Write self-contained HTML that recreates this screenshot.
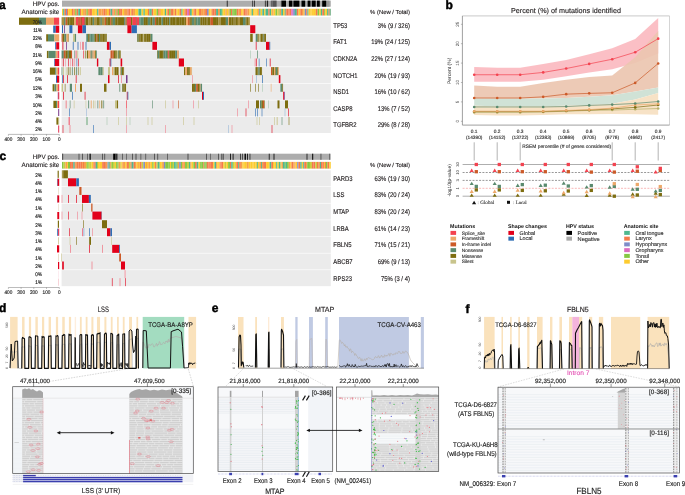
<!DOCTYPE html>
<html><head><meta charset="utf-8"><style>
html,body{margin:0;padding:0;background:#fff;overflow:hidden;}
svg{display:block;font-family:"Liberation Sans",sans-serif;text-rendering:geometricPrecision;will-change:transform;}
</style></head><body>
<svg width="685" height="495" viewBox="0 0 685 495">
<rect width="685" height="495" fill="#fff"/>
<text x="-0.90" y="8.90" font-size="12.00" text-anchor="start" fill="#000" font-weight="bold" stroke="#000" stroke-width="0.45">a</text>
<text x="59.30" y="5.90" font-size="6.30" text-anchor="end" fill="#231f20" font-weight="normal" stroke="#231f20" stroke-width="0.14">HPV pos.</text>
<text x="59.30" y="14.30" font-size="6.30" text-anchor="end" fill="#231f20" font-weight="normal" stroke="#231f20" stroke-width="0.14">Anatomic site</text>
<rect x="62.00" y="0.60" width="268.80" height="6.10" fill="#adadad"/>
<rect x="226.80" y="0.60" width="0.80" height="6.10" fill="#111"/>
<rect x="252.40" y="0.60" width="0.70" height="6.10" fill="#111"/>
<rect x="254.20" y="0.60" width="0.70" height="6.10" fill="#111"/>
<rect x="264.90" y="0.60" width="0.90" height="6.10" fill="#333"/>
<rect x="266.80" y="0.60" width="1.30" height="6.10" fill="#222"/>
<rect x="270.80" y="0.60" width="1.70" height="6.10" fill="#666"/>
<rect x="272.50" y="0.60" width="4.10" height="6.10" fill="#555"/>
<rect x="280.90" y="0.60" width="1.10" height="6.10" fill="#444"/>
<rect x="282.00" y="0.60" width="4.00" height="6.10" fill="#000"/>
<rect x="288.90" y="0.60" width="3.50" height="6.10" fill="#000"/>
<rect x="293.40" y="0.60" width="6.00" height="6.10" fill="#000"/>
<rect x="301.50" y="0.60" width="3.70" height="6.10" fill="#000"/>
<rect x="307.60" y="0.60" width="2.90" height="6.10" fill="#000"/>
<rect x="311.70" y="0.60" width="4.00" height="6.10" fill="#000"/>
<rect x="316.90" y="0.60" width="2.90" height="6.10" fill="#000"/>
<rect x="322.20" y="0.60" width="4.10" height="6.10" fill="#000"/>
<rect x="326.80" y="0.60" width="2.70" height="6.10" fill="#999"/>
<rect x="62.00" y="8.80" width="1.21" height="6.70" fill="#fdcb2f"/>
<rect x="63.16" y="8.80" width="1.36" height="6.70" fill="#4fb88f"/>
<rect x="64.47" y="8.80" width="1.64" height="6.70" fill="#f47a4a"/>
<rect x="66.06" y="8.80" width="0.96" height="6.70" fill="#7f8cc8"/>
<rect x="66.97" y="8.80" width="1.24" height="6.70" fill="#f47a4a"/>
<rect x="68.16" y="8.80" width="2.05" height="6.70" fill="#fdcb2f"/>
<rect x="70.15" y="8.80" width="1.87" height="6.70" fill="#fdcb2f"/>
<rect x="71.97" y="8.80" width="1.65" height="6.70" fill="#f47a4a"/>
<rect x="73.58" y="8.80" width="1.65" height="6.70" fill="#f6a04a"/>
<rect x="75.17" y="8.80" width="1.53" height="6.70" fill="#86c742"/>
<rect x="76.65" y="8.80" width="1.69" height="6.70" fill="#f47a4a"/>
<rect x="78.29" y="8.80" width="1.78" height="6.70" fill="#4fb88f"/>
<rect x="80.02" y="8.80" width="1.28" height="6.70" fill="#f47a4a"/>
<rect x="81.25" y="8.80" width="1.90" height="6.70" fill="#fdcb2f"/>
<rect x="83.10" y="8.80" width="1.74" height="6.70" fill="#f6a04a"/>
<rect x="84.80" y="8.80" width="1.74" height="6.70" fill="#f6a04a"/>
<rect x="86.48" y="8.80" width="1.38" height="6.70" fill="#86c742"/>
<rect x="87.82" y="8.80" width="1.44" height="6.70" fill="#f6a04a"/>
<rect x="89.20" y="8.80" width="1.92" height="6.70" fill="#f47a4a"/>
<rect x="91.07" y="8.80" width="1.10" height="6.70" fill="#f47a4a"/>
<rect x="92.12" y="8.80" width="2.01" height="6.70" fill="#fdcb2f"/>
<rect x="94.08" y="8.80" width="1.64" height="6.70" fill="#fdcb2f"/>
<rect x="95.67" y="8.80" width="1.51" height="6.70" fill="#fdcb2f"/>
<rect x="97.13" y="8.80" width="1.34" height="6.70" fill="#4fb88f"/>
<rect x="98.42" y="8.80" width="1.59" height="6.70" fill="#f6a04a"/>
<rect x="99.96" y="8.80" width="1.70" height="6.70" fill="#f6a04a"/>
<rect x="101.61" y="8.80" width="1.89" height="6.70" fill="#f6a04a"/>
<rect x="103.45" y="8.80" width="1.69" height="6.70" fill="#f47a4a"/>
<rect x="105.09" y="8.80" width="1.90" height="6.70" fill="#f6a04a"/>
<rect x="106.94" y="8.80" width="1.95" height="6.70" fill="#fdcb2f"/>
<rect x="108.83" y="8.80" width="1.74" height="6.70" fill="#f47a4a"/>
<rect x="110.52" y="8.80" width="1.86" height="6.70" fill="#4fb88f"/>
<rect x="112.33" y="8.80" width="1.26" height="6.70" fill="#f47a4a"/>
<rect x="113.55" y="8.80" width="1.89" height="6.70" fill="#f6a04a"/>
<rect x="115.38" y="8.80" width="1.05" height="6.70" fill="#86c742"/>
<rect x="116.38" y="8.80" width="1.40" height="6.70" fill="#f47a4a"/>
<rect x="117.73" y="8.80" width="1.27" height="6.70" fill="#86c742"/>
<rect x="118.96" y="8.80" width="1.91" height="6.70" fill="#f47a4a"/>
<rect x="120.82" y="8.80" width="1.63" height="6.70" fill="#f47a4a"/>
<rect x="122.39" y="8.80" width="1.74" height="6.70" fill="#fdcb2f"/>
<rect x="124.08" y="8.80" width="1.92" height="6.70" fill="#f6a04a"/>
<rect x="125.95" y="8.80" width="1.51" height="6.70" fill="#f6a04a"/>
<rect x="127.41" y="8.80" width="1.29" height="6.70" fill="#f47a4a"/>
<rect x="128.65" y="8.80" width="1.61" height="6.70" fill="#f47a4a"/>
<rect x="130.21" y="8.80" width="1.17" height="6.70" fill="#fdcb2f"/>
<rect x="131.33" y="8.80" width="1.62" height="6.70" fill="#f47a4a"/>
<rect x="132.90" y="8.80" width="1.00" height="6.70" fill="#f6a04a"/>
<rect x="133.84" y="8.80" width="1.30" height="6.70" fill="#f6a04a"/>
<rect x="135.09" y="8.80" width="1.94" height="6.70" fill="#fdcb2f"/>
<rect x="136.98" y="8.80" width="1.46" height="6.70" fill="#fdcb2f"/>
<rect x="138.38" y="8.80" width="1.66" height="6.70" fill="#4fb88f"/>
<rect x="139.99" y="8.80" width="1.57" height="6.70" fill="#4fb88f"/>
<rect x="141.50" y="8.80" width="1.98" height="6.70" fill="#fdcb2f"/>
<rect x="143.44" y="8.80" width="1.42" height="6.70" fill="#4fb88f"/>
<rect x="144.81" y="8.80" width="1.21" height="6.70" fill="#fdcb2f"/>
<rect x="145.98" y="8.80" width="2.03" height="6.70" fill="#fdcb2f"/>
<rect x="147.95" y="8.80" width="1.55" height="6.70" fill="#f47a4a"/>
<rect x="149.45" y="8.80" width="1.41" height="6.70" fill="#4fb88f"/>
<rect x="150.81" y="8.80" width="0.97" height="6.70" fill="#4fb88f"/>
<rect x="151.73" y="8.80" width="1.65" height="6.70" fill="#f47a4a"/>
<rect x="153.33" y="8.80" width="1.64" height="6.70" fill="#fdcb2f"/>
<rect x="154.92" y="8.80" width="1.70" height="6.70" fill="#fdcb2f"/>
<rect x="156.57" y="8.80" width="1.73" height="6.70" fill="#86c742"/>
<rect x="158.24" y="8.80" width="0.97" height="6.70" fill="#f47a4a"/>
<rect x="159.17" y="8.80" width="1.69" height="6.70" fill="#f6a04a"/>
<rect x="160.81" y="8.80" width="1.23" height="6.70" fill="#fdcb2f"/>
<rect x="161.99" y="8.80" width="1.60" height="6.70" fill="#fdcb2f"/>
<rect x="163.54" y="8.80" width="1.35" height="6.70" fill="#fdcb2f"/>
<rect x="164.84" y="8.80" width="1.36" height="6.70" fill="#4fb88f"/>
<rect x="166.15" y="8.80" width="1.28" height="6.70" fill="#fdcb2f"/>
<rect x="167.38" y="8.80" width="1.80" height="6.70" fill="#f47a4a"/>
<rect x="169.13" y="8.80" width="1.58" height="6.70" fill="#86c742"/>
<rect x="170.65" y="8.80" width="1.29" height="6.70" fill="#f47a4a"/>
<rect x="171.89" y="8.80" width="1.83" height="6.70" fill="#f47a4a"/>
<rect x="173.68" y="8.80" width="1.16" height="6.70" fill="#fdcb2f"/>
<rect x="174.78" y="8.80" width="1.72" height="6.70" fill="#f47a4a"/>
<rect x="176.45" y="8.80" width="1.30" height="6.70" fill="#fdcb2f"/>
<rect x="177.71" y="8.80" width="1.87" height="6.70" fill="#fdcb2f"/>
<rect x="179.52" y="8.80" width="1.89" height="6.70" fill="#f47a4a"/>
<rect x="181.36" y="8.80" width="1.32" height="6.70" fill="#4fb88f"/>
<rect x="182.63" y="8.80" width="1.92" height="6.70" fill="#fdcb2f"/>
<rect x="184.51" y="8.80" width="1.20" height="6.70" fill="#f47a4a"/>
<rect x="185.65" y="8.80" width="1.53" height="6.70" fill="#f47a4a"/>
<rect x="187.14" y="8.80" width="1.84" height="6.70" fill="#dc6cc0"/>
<rect x="188.92" y="8.80" width="1.15" height="6.70" fill="#f47a4a"/>
<rect x="190.03" y="8.80" width="1.84" height="6.70" fill="#4fb88f"/>
<rect x="191.81" y="8.80" width="1.84" height="6.70" fill="#fdcb2f"/>
<rect x="193.60" y="8.80" width="1.09" height="6.70" fill="#f47a4a"/>
<rect x="194.64" y="8.80" width="1.82" height="6.70" fill="#f47a4a"/>
<rect x="196.42" y="8.80" width="1.33" height="6.70" fill="#fdcb2f"/>
<rect x="197.70" y="8.80" width="1.41" height="6.70" fill="#fdcb2f"/>
<rect x="199.06" y="8.80" width="1.96" height="6.70" fill="#f47a4a"/>
<rect x="200.97" y="8.80" width="0.96" height="6.70" fill="#f6a04a"/>
<rect x="201.88" y="8.80" width="1.92" height="6.70" fill="#f6a04a"/>
<rect x="203.75" y="8.80" width="1.43" height="6.70" fill="#f6a04a"/>
<rect x="205.12" y="8.80" width="1.97" height="6.70" fill="#f47a4a"/>
<rect x="207.04" y="8.80" width="1.77" height="6.70" fill="#7f8cc8"/>
<rect x="208.76" y="8.80" width="1.68" height="6.70" fill="#fdcb2f"/>
<rect x="210.39" y="8.80" width="1.27" height="6.70" fill="#fdcb2f"/>
<rect x="211.61" y="8.80" width="1.20" height="6.70" fill="#f47a4a"/>
<rect x="212.76" y="8.80" width="1.60" height="6.70" fill="#f47a4a"/>
<rect x="214.31" y="8.80" width="1.84" height="6.70" fill="#f47a4a"/>
<rect x="216.10" y="8.80" width="1.94" height="6.70" fill="#4fb88f"/>
<rect x="217.99" y="8.80" width="1.97" height="6.70" fill="#f6a04a"/>
<rect x="219.91" y="8.80" width="1.94" height="6.70" fill="#4fb88f"/>
<rect x="221.80" y="8.80" width="0.96" height="6.70" fill="#86c742"/>
<rect x="222.71" y="8.80" width="1.14" height="6.70" fill="#fdcb2f"/>
<rect x="223.80" y="8.80" width="1.68" height="6.70" fill="#fdcb2f"/>
<rect x="225.43" y="8.80" width="1.41" height="6.70" fill="#f6a04a"/>
<rect x="226.79" y="8.80" width="1.62" height="6.70" fill="#fdcb2f"/>
<rect x="228.36" y="8.80" width="1.23" height="6.70" fill="#f6a04a"/>
<rect x="229.54" y="8.80" width="1.47" height="6.70" fill="#86c742"/>
<rect x="230.96" y="8.80" width="1.34" height="6.70" fill="#f47a4a"/>
<rect x="232.25" y="8.80" width="1.54" height="6.70" fill="#86c742"/>
<rect x="233.74" y="8.80" width="1.14" height="6.70" fill="#86c742"/>
<rect x="234.83" y="8.80" width="1.96" height="6.70" fill="#86c742"/>
<rect x="236.74" y="8.80" width="1.86" height="6.70" fill="#f47a4a"/>
<rect x="238.55" y="8.80" width="1.64" height="6.70" fill="#f6a04a"/>
<rect x="240.14" y="8.80" width="1.00" height="6.70" fill="#f47a4a"/>
<rect x="241.09" y="8.80" width="1.25" height="6.70" fill="#fdcb2f"/>
<rect x="242.29" y="8.80" width="1.42" height="6.70" fill="#fdcb2f"/>
<rect x="243.65" y="8.80" width="1.80" height="6.70" fill="#f47a4a"/>
<rect x="245.41" y="8.80" width="1.01" height="6.70" fill="#f47a4a"/>
<rect x="246.37" y="8.80" width="1.09" height="6.70" fill="#f47a4a"/>
<rect x="247.41" y="8.80" width="2.02" height="6.70" fill="#f6a04a"/>
<rect x="249.38" y="8.80" width="1.04" height="6.70" fill="#fdcb2f"/>
<rect x="250.37" y="8.80" width="1.30" height="6.70" fill="#fdcb2f"/>
<rect x="251.62" y="8.80" width="1.34" height="6.70" fill="#4fb88f"/>
<rect x="252.91" y="8.80" width="1.60" height="6.70" fill="#fdcb2f"/>
<rect x="254.45" y="8.80" width="1.16" height="6.70" fill="#fdcb2f"/>
<rect x="255.56" y="8.80" width="1.09" height="6.70" fill="#fdcb2f"/>
<rect x="256.60" y="8.80" width="1.74" height="6.70" fill="#fdcb2f"/>
<rect x="258.29" y="8.80" width="1.04" height="6.70" fill="#f47a4a"/>
<rect x="259.27" y="8.80" width="1.36" height="6.70" fill="#4fb88f"/>
<rect x="260.58" y="8.80" width="1.81" height="6.70" fill="#fdcb2f"/>
<rect x="262.35" y="8.80" width="1.83" height="6.70" fill="#4fb88f"/>
<rect x="264.13" y="8.80" width="1.42" height="6.70" fill="#fdcb2f"/>
<rect x="265.50" y="8.80" width="1.50" height="6.70" fill="#4fb88f"/>
<rect x="266.95" y="8.80" width="1.41" height="6.70" fill="#4fb88f"/>
<rect x="268.31" y="8.80" width="1.46" height="6.70" fill="#f47a4a"/>
<rect x="269.72" y="8.80" width="1.54" height="6.70" fill="#4fb88f"/>
<rect x="271.21" y="8.80" width="1.03" height="6.70" fill="#fdcb2f"/>
<rect x="272.18" y="8.80" width="1.42" height="6.70" fill="#f6a04a"/>
<rect x="273.55" y="8.80" width="1.98" height="6.70" fill="#fdcb2f"/>
<rect x="275.48" y="8.80" width="1.94" height="6.70" fill="#86c742"/>
<rect x="277.37" y="8.80" width="1.24" height="6.70" fill="#fdcb2f"/>
<rect x="278.56" y="8.80" width="1.09" height="6.70" fill="#86c742"/>
<rect x="279.59" y="8.80" width="1.68" height="6.70" fill="#f6a04a"/>
<rect x="281.22" y="8.80" width="1.82" height="6.70" fill="#4fb88f"/>
<rect x="282.99" y="8.80" width="1.76" height="6.70" fill="#fdcb2f"/>
<rect x="284.70" y="8.80" width="1.06" height="6.70" fill="#4fb88f"/>
<rect x="285.72" y="8.80" width="0.96" height="6.70" fill="#f47a4a"/>
<rect x="286.62" y="8.80" width="1.80" height="6.70" fill="#f47a4a"/>
<rect x="288.37" y="8.80" width="1.05" height="6.70" fill="#f47a4a"/>
<rect x="289.37" y="8.80" width="1.92" height="6.70" fill="#f47a4a"/>
<rect x="291.24" y="8.80" width="0.98" height="6.70" fill="#dc6cc0"/>
<rect x="292.17" y="8.80" width="1.08" height="6.70" fill="#dc6cc0"/>
<rect x="293.20" y="8.80" width="1.69" height="6.70" fill="#7f8cc8"/>
<rect x="294.84" y="8.80" width="2.00" height="6.70" fill="#4fb88f"/>
<rect x="296.79" y="8.80" width="1.83" height="6.70" fill="#f47a4a"/>
<rect x="298.57" y="8.80" width="1.79" height="6.70" fill="#fdcb2f"/>
<rect x="300.31" y="8.80" width="1.74" height="6.70" fill="#f47a4a"/>
<rect x="302.00" y="8.80" width="1.77" height="6.70" fill="#f6a04a"/>
<rect x="303.72" y="8.80" width="1.02" height="6.70" fill="#fdcb2f"/>
<rect x="304.69" y="8.80" width="1.57" height="6.70" fill="#7f8cc8"/>
<rect x="306.21" y="8.80" width="1.22" height="6.70" fill="#f47a4a"/>
<rect x="307.38" y="8.80" width="1.22" height="6.70" fill="#4fb88f"/>
<rect x="308.55" y="8.80" width="1.78" height="6.70" fill="#fdcb2f"/>
<rect x="310.28" y="8.80" width="1.35" height="6.70" fill="#fdcb2f"/>
<rect x="311.59" y="8.80" width="1.34" height="6.70" fill="#fdcb2f"/>
<rect x="312.87" y="8.80" width="1.04" height="6.70" fill="#fdcb2f"/>
<rect x="313.86" y="8.80" width="2.02" height="6.70" fill="#fdcb2f"/>
<rect x="315.83" y="8.80" width="1.77" height="6.70" fill="#f47a4a"/>
<rect x="317.55" y="8.80" width="1.71" height="6.70" fill="#86c742"/>
<rect x="319.21" y="8.80" width="1.69" height="6.70" fill="#fdcb2f"/>
<rect x="320.86" y="8.80" width="1.48" height="6.70" fill="#4fb88f"/>
<rect x="322.29" y="8.80" width="1.94" height="6.70" fill="#f47a4a"/>
<rect x="324.18" y="8.80" width="1.06" height="6.70" fill="#86c742"/>
<rect x="325.18" y="8.80" width="1.96" height="6.70" fill="#fdcb2f"/>
<rect x="327.09" y="8.80" width="1.44" height="6.70" fill="#4fb88f"/>
<rect x="328.48" y="8.80" width="1.15" height="6.70" fill="#f47a4a"/>
<rect x="329.58" y="8.80" width="1.17" height="6.70" fill="#4fb88f"/>
<rect x="330.70" y="8.80" width="0.15" height="6.70" fill="#f47a4a"/>
<rect x="61.60" y="17.20" width="269.20" height="16.00" fill="#ebebeb"/>
<rect x="61.60" y="33.84" width="269.20" height="16.00" fill="#ebebeb"/>
<rect x="61.60" y="50.48" width="269.20" height="16.00" fill="#ebebeb"/>
<rect x="61.60" y="67.12" width="269.20" height="16.00" fill="#ebebeb"/>
<rect x="61.60" y="83.76" width="269.20" height="16.00" fill="#ebebeb"/>
<rect x="61.60" y="100.40" width="269.20" height="16.00" fill="#ebebeb"/>
<rect x="61.60" y="117.04" width="269.20" height="16.00" fill="#ebebeb"/>
<rect x="61.60" y="17.20" width="2.51" height="8.00" fill="#a89040"/>
<rect x="64.06" y="17.20" width="1.56" height="8.00" fill="#5a8a6e"/>
<rect x="65.57" y="17.20" width="1.84" height="8.00" fill="#cc5a28"/>
<rect x="67.36" y="17.20" width="2.25" height="8.00" fill="#7d6d10"/>
<rect x="69.56" y="17.20" width="1.37" height="8.00" fill="#7d6d10"/>
<rect x="70.89" y="17.20" width="2.00" height="8.00" fill="#7d6d10"/>
<rect x="72.84" y="17.20" width="1.26" height="8.00" fill="#7d6d10"/>
<rect x="74.05" y="17.20" width="1.62" height="8.00" fill="#eda86a"/>
<rect x="75.62" y="17.20" width="1.19" height="8.00" fill="#a89040"/>
<rect x="76.77" y="17.20" width="2.00" height="8.00" fill="#7d6d10"/>
<rect x="78.72" y="17.20" width="1.97" height="8.00" fill="#cc5a28"/>
<rect x="80.64" y="17.20" width="2.82" height="8.00" fill="#7d6d10"/>
<rect x="83.41" y="17.20" width="2.01" height="8.00" fill="#5a8a6e"/>
<rect x="85.37" y="17.20" width="2.91" height="8.00" fill="#7d6d10"/>
<rect x="88.22" y="17.20" width="2.61" height="8.00" fill="#a89040"/>
<rect x="90.79" y="17.20" width="1.97" height="8.00" fill="#7d6d10"/>
<rect x="92.71" y="17.20" width="1.41" height="8.00" fill="#5a8a6e"/>
<rect x="94.07" y="17.20" width="2.47" height="8.00" fill="#a89040"/>
<rect x="96.49" y="17.20" width="2.90" height="8.00" fill="#7d6d10"/>
<rect x="99.34" y="17.20" width="1.31" height="8.00" fill="#7d6d10"/>
<rect x="100.60" y="17.20" width="1.30" height="8.00" fill="#5a8a6e"/>
<rect x="101.85" y="17.20" width="2.91" height="8.00" fill="#a89040"/>
<rect x="104.71" y="17.20" width="1.46" height="8.00" fill="#cc5a28"/>
<rect x="106.12" y="17.20" width="1.60" height="8.00" fill="#7d6d10"/>
<rect x="107.67" y="17.20" width="2.60" height="8.00" fill="#7d6d10"/>
<rect x="110.22" y="17.20" width="1.07" height="8.00" fill="#cc5a28"/>
<rect x="111.24" y="17.20" width="1.55" height="8.00" fill="#7d6d10"/>
<rect x="112.74" y="17.20" width="2.24" height="8.00" fill="#5a8a6e"/>
<rect x="114.93" y="17.20" width="0.87" height="8.00" fill="#7d6d10"/>
<rect x="115.75" y="17.20" width="1.90" height="8.00" fill="#7d6d10"/>
<rect x="117.60" y="17.20" width="1.35" height="8.00" fill="#7d6d10"/>
<rect x="118.90" y="17.20" width="3.14" height="8.00" fill="#7d6d10"/>
<rect x="122.00" y="17.20" width="2.16" height="8.00" fill="#7d6d10"/>
<rect x="124.10" y="17.20" width="1.51" height="8.00" fill="#5a8a6e"/>
<rect x="125.56" y="17.20" width="1.12" height="8.00" fill="#cc5a28"/>
<rect x="126.63" y="17.20" width="3.03" height="8.00" fill="#7d6d10"/>
<rect x="129.61" y="17.20" width="3.11" height="8.00" fill="#7d6d10"/>
<rect x="132.67" y="17.20" width="2.70" height="8.00" fill="#eda86a"/>
<rect x="135.33" y="17.20" width="1.56" height="8.00" fill="#5a8a6e"/>
<rect x="136.83" y="17.20" width="2.42" height="8.00" fill="#f3424f"/>
<rect x="139.20" y="17.20" width="1.49" height="8.00" fill="#5a8a6e"/>
<rect x="140.64" y="17.20" width="3.16" height="8.00" fill="#5a8a6e"/>
<rect x="143.75" y="17.20" width="2.14" height="8.00" fill="#7d6d10"/>
<rect x="145.84" y="17.20" width="2.04" height="8.00" fill="#7d6d10"/>
<rect x="147.82" y="17.20" width="2.57" height="8.00" fill="#5a8a6e"/>
<rect x="150.34" y="17.20" width="2.21" height="8.00" fill="#7d6d10"/>
<rect x="152.50" y="17.20" width="2.40" height="8.00" fill="#5a8a6e"/>
<rect x="154.85" y="17.20" width="1.28" height="8.00" fill="#cc5a28"/>
<rect x="156.08" y="17.20" width="2.42" height="8.00" fill="#7d6d10"/>
<rect x="158.46" y="17.20" width="3.09" height="8.00" fill="#7d6d10"/>
<rect x="161.49" y="17.20" width="1.65" height="8.00" fill="#5a8a6e"/>
<rect x="163.09" y="17.20" width="2.28" height="8.00" fill="#7d6d10"/>
<rect x="165.32" y="17.20" width="2.40" height="8.00" fill="#7d6d10"/>
<rect x="167.68" y="17.20" width="1.60" height="8.00" fill="#7d6d10"/>
<rect x="169.23" y="17.20" width="1.01" height="8.00" fill="#5a8a6e"/>
<rect x="170.19" y="17.20" width="2.66" height="8.00" fill="#7d6d10"/>
<rect x="172.80" y="17.20" width="2.63" height="8.00" fill="#7d6d10"/>
<rect x="175.38" y="17.20" width="1.49" height="8.00" fill="#7d6d10"/>
<rect x="176.81" y="17.20" width="2.94" height="8.00" fill="#7d6d10"/>
<rect x="179.71" y="17.20" width="2.06" height="8.00" fill="#7d6d10"/>
<rect x="181.72" y="17.20" width="2.70" height="8.00" fill="#7d6d10"/>
<rect x="184.37" y="17.20" width="1.65" height="8.00" fill="#7d6d10"/>
<rect x="185.96" y="17.20" width="2.15" height="8.00" fill="#eda86a"/>
<rect x="188.06" y="17.20" width="1.70" height="8.00" fill="#cc5a28"/>
<rect x="189.71" y="17.20" width="1.12" height="8.00" fill="#7d6d10"/>
<rect x="190.78" y="17.20" width="1.09" height="8.00" fill="#7d6d10"/>
<rect x="191.82" y="17.20" width="2.72" height="8.00" fill="#5a8a6e"/>
<rect x="194.49" y="17.20" width="1.29" height="8.00" fill="#7d6d10"/>
<rect x="195.73" y="17.20" width="1.85" height="8.00" fill="#5a8a6e"/>
<rect x="197.53" y="17.20" width="2.81" height="8.00" fill="#5a8a6e"/>
<rect x="200.29" y="17.20" width="2.27" height="8.00" fill="#7d6d10"/>
<rect x="202.51" y="17.20" width="1.81" height="8.00" fill="#7d6d10"/>
<rect x="204.27" y="17.20" width="2.12" height="8.00" fill="#7d6d10"/>
<rect x="206.33" y="17.20" width="1.33" height="8.00" fill="#7d6d10"/>
<rect x="207.62" y="17.20" width="2.73" height="8.00" fill="#7d6d10"/>
<rect x="210.29" y="17.20" width="2.78" height="8.00" fill="#cc5a28"/>
<rect x="213.02" y="17.20" width="3.13" height="8.00" fill="#7d6d10"/>
<rect x="216.10" y="17.20" width="2.18" height="8.00" fill="#7d6d10"/>
<rect x="218.23" y="17.20" width="2.37" height="8.00" fill="#a89040"/>
<rect x="220.55" y="17.20" width="2.50" height="8.00" fill="#7d6d10"/>
<rect x="222.99" y="17.20" width="2.91" height="8.00" fill="#7d6d10"/>
<rect x="225.86" y="17.20" width="2.29" height="8.00" fill="#5a8a6e"/>
<rect x="228.10" y="17.20" width="0.86" height="8.00" fill="#eda86a"/>
<rect x="228.91" y="17.20" width="2.44" height="8.00" fill="#7d6d10"/>
<rect x="231.30" y="17.20" width="2.11" height="8.00" fill="#7d6d10"/>
<rect x="233.35" y="17.20" width="1.31" height="8.00" fill="#7d6d10"/>
<rect x="234.62" y="17.20" width="0.94" height="8.00" fill="#7d6d10"/>
<rect x="235.51" y="17.20" width="2.40" height="8.00" fill="#7d6d10"/>
<rect x="237.86" y="17.20" width="2.21" height="8.00" fill="#a89040"/>
<rect x="240.02" y="17.20" width="2.99" height="8.00" fill="#7d6d10"/>
<rect x="242.96" y="17.20" width="2.75" height="8.00" fill="#5a8a6e"/>
<rect x="245.66" y="17.20" width="0.97" height="8.00" fill="#7d6d10"/>
<rect x="246.58" y="17.20" width="1.41" height="8.00" fill="#7d6d10"/>
<rect x="247.94" y="17.20" width="1.91" height="8.00" fill="#a89040"/>
<rect x="76.00" y="17.20" width="2.50" height="8.00" fill="#f3424f"/>
<rect x="79.50" y="17.20" width="1.00" height="8.00" fill="#e05848"/>
<rect x="81.50" y="17.20" width="3.10" height="8.00" fill="#f3424f"/>
<rect x="127.00" y="17.20" width="4.00" height="8.00" fill="#f3424f"/>
<rect x="132.50" y="17.20" width="4.00" height="8.00" fill="#f3424f"/>
<rect x="62.00" y="25.20" width="1.00" height="8.00" fill="#2e6db4"/>
<rect x="64.20" y="25.20" width="0.80" height="8.00" fill="#7a3a8a"/>
<rect x="69.40" y="25.20" width="3.00" height="8.00" fill="#2e6db4"/>
<rect x="77.90" y="25.20" width="4.60" height="8.00" fill="#e2001a"/>
<rect x="82.50" y="25.20" width="3.50" height="8.00" fill="#2e6db4"/>
<rect x="127.40" y="25.20" width="4.20" height="8.00" fill="#e2001a"/>
<rect x="131.60" y="25.20" width="5.30" height="8.00" fill="#2e6db4"/>
<rect x="250.20" y="25.20" width="5.10" height="8.00" fill="#e2001a"/>
<rect x="61.60" y="33.84" width="1.17" height="8.00" fill="#cc5a28"/>
<rect x="62.72" y="33.84" width="1.76" height="8.00" fill="#7d6d10"/>
<rect x="64.43" y="33.84" width="2.02" height="8.00" fill="#5a8a6e"/>
<rect x="66.40" y="33.84" width="2.13" height="8.00" fill="#eda86a"/>
<rect x="68.48" y="33.84" width="0.37" height="8.00" fill="#7d6d10"/>
<rect x="73.00" y="33.84" width="1.94" height="8.00" fill="#c8c48c"/>
<rect x="74.89" y="33.84" width="1.16" height="8.00" fill="#5a8a6e"/>
<rect x="86.30" y="33.84" width="1.86" height="8.00" fill="#5a8a6e"/>
<rect x="88.11" y="33.84" width="0.82" height="8.00" fill="#7d6d10"/>
<rect x="88.89" y="33.84" width="0.77" height="8.00" fill="#7d6d10"/>
<rect x="89.61" y="33.84" width="0.91" height="8.00" fill="#5a8a6e"/>
<rect x="90.47" y="33.84" width="1.77" height="8.00" fill="#5a8a6e"/>
<rect x="92.19" y="33.84" width="1.33" height="8.00" fill="#5a8a6e"/>
<rect x="93.46" y="33.84" width="1.14" height="8.00" fill="#5a8a6e"/>
<rect x="94.55" y="33.84" width="1.86" height="8.00" fill="#7d6d10"/>
<rect x="96.36" y="33.84" width="0.94" height="8.00" fill="#cc5a28"/>
<rect x="97.25" y="33.84" width="1.80" height="8.00" fill="#7d6d10"/>
<rect x="99.00" y="33.84" width="1.24" height="8.00" fill="#5a8a6e"/>
<rect x="100.19" y="33.84" width="1.60" height="8.00" fill="#7d6d10"/>
<rect x="101.75" y="33.84" width="0.65" height="8.00" fill="#7d6d10"/>
<rect x="102.35" y="33.84" width="1.90" height="8.00" fill="#7d6d10"/>
<rect x="104.21" y="33.84" width="1.39" height="8.00" fill="#7d6d10"/>
<rect x="105.54" y="33.84" width="0.98" height="8.00" fill="#7d6d10"/>
<rect x="106.48" y="33.84" width="0.47" height="8.00" fill="#7d6d10"/>
<rect x="137.00" y="33.84" width="0.69" height="8.00" fill="#7d6d10"/>
<rect x="137.64" y="33.84" width="0.92" height="8.00" fill="#5a8a6e"/>
<rect x="138.51" y="33.84" width="0.75" height="8.00" fill="#7d6d10"/>
<rect x="139.21" y="33.84" width="1.37" height="8.00" fill="#7d6d10"/>
<rect x="140.53" y="33.84" width="1.78" height="8.00" fill="#7d6d10"/>
<rect x="142.25" y="33.84" width="1.30" height="8.00" fill="#7d6d10"/>
<rect x="143.50" y="33.84" width="0.69" height="8.00" fill="#c8c48c"/>
<rect x="144.14" y="33.84" width="1.00" height="8.00" fill="#7d6d10"/>
<rect x="145.09" y="33.84" width="1.41" height="8.00" fill="#7d6d10"/>
<rect x="146.45" y="33.84" width="1.65" height="8.00" fill="#7d6d10"/>
<rect x="148.04" y="33.84" width="0.85" height="8.00" fill="#7d6d10"/>
<rect x="148.84" y="33.84" width="1.81" height="8.00" fill="#7d6d10"/>
<rect x="150.61" y="33.84" width="1.84" height="8.00" fill="#5a8a6e"/>
<rect x="250.20" y="33.84" width="2.14" height="8.00" fill="#7d6d10"/>
<rect x="252.29" y="33.84" width="0.56" height="8.00" fill="#7d6d10"/>
<rect x="255.70" y="33.84" width="1.95" height="8.00" fill="#5a8a6e"/>
<rect x="257.60" y="33.84" width="1.20" height="8.00" fill="#7d6d10"/>
<rect x="258.76" y="33.84" width="1.74" height="8.00" fill="#c8c48c"/>
<rect x="260.45" y="33.84" width="1.60" height="8.00" fill="#7d6d10"/>
<rect x="261.99" y="33.84" width="0.70" height="8.00" fill="#7d6d10"/>
<rect x="262.64" y="33.84" width="0.92" height="8.00" fill="#7d6d10"/>
<rect x="263.52" y="33.84" width="0.74" height="8.00" fill="#5a8a6e"/>
<rect x="264.20" y="33.84" width="1.75" height="8.00" fill="#7d6d10"/>
<rect x="62.50" y="41.84" width="0.80" height="8.00" fill="#e2001a"/>
<rect x="66.00" y="41.84" width="0.80" height="8.00" fill="#7a3a8a"/>
<rect x="72.80" y="41.84" width="0.80" height="8.00" fill="#2e6db4"/>
<rect x="77.60" y="41.84" width="0.80" height="8.00" fill="#2e6db4"/>
<rect x="80.00" y="41.84" width="0.60" height="8.00" fill="#f08090"/>
<rect x="82.60" y="41.84" width="0.80" height="8.00" fill="#e2001a"/>
<rect x="85.60" y="41.84" width="0.80" height="8.00" fill="#2e6db4"/>
<rect x="106.90" y="41.84" width="2.70" height="8.00" fill="#e2001a"/>
<rect x="109.60" y="41.84" width="1.40" height="8.00" fill="#2e6db4"/>
<rect x="152.40" y="41.84" width="4.60" height="8.00" fill="#e2001a"/>
<rect x="255.80" y="41.84" width="0.70" height="8.00" fill="#e2001a"/>
<rect x="266.00" y="41.84" width="3.50" height="8.00" fill="#e2001a"/>
<rect x="269.50" y="41.84" width="0.70" height="8.00" fill="#2e6db4"/>
<rect x="61.60" y="50.48" width="2.21" height="8.00" fill="#5a8a6e"/>
<rect x="63.76" y="50.48" width="1.94" height="8.00" fill="#cc5a28"/>
<rect x="65.64" y="50.48" width="2.15" height="8.00" fill="#7d6d10"/>
<rect x="67.75" y="50.48" width="1.14" height="8.00" fill="#5a8a6e"/>
<rect x="68.84" y="50.48" width="2.16" height="8.00" fill="#7d6d10"/>
<rect x="70.95" y="50.48" width="1.10" height="8.00" fill="#cc5a28"/>
<rect x="74.00" y="50.48" width="0.55" height="8.00" fill="#5a8a6e"/>
<rect x="75.68" y="50.48" width="0.77" height="8.00" fill="#f3424f"/>
<rect x="77.33" y="50.48" width="0.80" height="8.00" fill="#c8c48c"/>
<rect x="83.00" y="50.48" width="0.72" height="8.00" fill="#f3424f"/>
<rect x="84.90" y="50.48" width="0.67" height="8.00" fill="#7d6d10"/>
<rect x="86.80" y="50.48" width="1.42" height="8.00" fill="#7d6d10"/>
<rect x="88.17" y="50.48" width="0.92" height="8.00" fill="#eda86a"/>
<rect x="89.04" y="50.48" width="1.62" height="8.00" fill="#eda86a"/>
<rect x="90.61" y="50.48" width="1.27" height="8.00" fill="#5a8a6e"/>
<rect x="91.83" y="50.48" width="0.90" height="8.00" fill="#eda86a"/>
<rect x="92.67" y="50.48" width="0.69" height="8.00" fill="#5a8a6e"/>
<rect x="93.31" y="50.48" width="1.86" height="8.00" fill="#eda86a"/>
<rect x="95.13" y="50.48" width="0.81" height="8.00" fill="#7d6d10"/>
<rect x="95.88" y="50.48" width="0.87" height="8.00" fill="#5a8a6e"/>
<rect x="110.50" y="50.48" width="2.06" height="8.00" fill="#cc5a28"/>
<rect x="112.51" y="50.48" width="1.37" height="8.00" fill="#cc5a28"/>
<rect x="113.83" y="50.48" width="1.82" height="8.00" fill="#7d6d10"/>
<rect x="115.60" y="50.48" width="1.24" height="8.00" fill="#7d6d10"/>
<rect x="116.79" y="50.48" width="1.29" height="8.00" fill="#c8c48c"/>
<rect x="118.03" y="50.48" width="0.82" height="8.00" fill="#5a8a6e"/>
<rect x="118.80" y="50.48" width="0.83" height="8.00" fill="#7d6d10"/>
<rect x="119.57" y="50.48" width="1.08" height="8.00" fill="#7d6d10"/>
<rect x="157.00" y="50.48" width="0.73" height="8.00" fill="#7d6d10"/>
<rect x="157.68" y="50.48" width="1.68" height="8.00" fill="#5a8a6e"/>
<rect x="159.31" y="50.48" width="0.67" height="8.00" fill="#7d6d10"/>
<rect x="159.93" y="50.48" width="2.20" height="8.00" fill="#7d6d10"/>
<rect x="162.08" y="50.48" width="1.55" height="8.00" fill="#7d6d10"/>
<rect x="163.58" y="50.48" width="1.90" height="8.00" fill="#5a8a6e"/>
<rect x="165.43" y="50.48" width="1.91" height="8.00" fill="#5a8a6e"/>
<rect x="167.29" y="50.48" width="0.95" height="8.00" fill="#7d6d10"/>
<rect x="168.19" y="50.48" width="0.78" height="8.00" fill="#f3424f"/>
<rect x="168.91" y="50.48" width="0.83" height="8.00" fill="#7d6d10"/>
<rect x="169.69" y="50.48" width="2.20" height="8.00" fill="#7d6d10"/>
<rect x="171.84" y="50.48" width="2.08" height="8.00" fill="#7d6d10"/>
<rect x="173.87" y="50.48" width="1.39" height="8.00" fill="#7d6d10"/>
<rect x="175.21" y="50.48" width="1.98" height="8.00" fill="#5a8a6e"/>
<rect x="177.14" y="50.48" width="1.68" height="8.00" fill="#eda86a"/>
<rect x="178.77" y="50.48" width="0.08" height="8.00" fill="#7d6d10"/>
<rect x="250.30" y="50.48" width="0.60" height="8.00" fill="#a8c8b0"/>
<rect x="257.20" y="50.48" width="0.70" height="8.00" fill="#5a8a6e"/>
<rect x="61.80" y="58.48" width="0.50" height="8.00" fill="#f08090"/>
<rect x="63.40" y="58.48" width="0.60" height="8.00" fill="#e2001a"/>
<rect x="65.50" y="58.48" width="0.50" height="8.00" fill="#f08090"/>
<rect x="68.00" y="58.48" width="0.60" height="8.00" fill="#e2001a"/>
<rect x="70.20" y="58.48" width="0.50" height="8.00" fill="#f08090"/>
<rect x="72.50" y="58.48" width="0.60" height="8.00" fill="#e2001a"/>
<rect x="74.50" y="58.48" width="0.60" height="8.00" fill="#f08090"/>
<rect x="76.60" y="58.48" width="0.60" height="8.00" fill="#2e6db4"/>
<rect x="78.20" y="58.48" width="0.60" height="8.00" fill="#e2001a"/>
<rect x="96.90" y="58.48" width="1.40" height="8.00" fill="#e2001a"/>
<rect x="109.60" y="58.48" width="1.00" height="8.00" fill="#e2001a"/>
<rect x="110.60" y="58.48" width="0.70" height="8.00" fill="#2e6db4"/>
<rect x="120.60" y="58.48" width="1.60" height="8.00" fill="#e2001a"/>
<rect x="178.80" y="58.48" width="5.20" height="8.00" fill="#e2001a"/>
<rect x="254.80" y="58.48" width="0.60" height="8.00" fill="#f06070"/>
<rect x="256.40" y="58.48" width="0.60" height="8.00" fill="#e2001a"/>
<rect x="258.80" y="58.48" width="0.60" height="8.00" fill="#2e6db4"/>
<rect x="266.30" y="58.48" width="0.60" height="8.00" fill="#2e6db4"/>
<rect x="269.80" y="58.48" width="0.70" height="8.00" fill="#e2001a"/>
<rect x="61.60" y="67.12" width="0.74" height="8.00" fill="#5a8a6e"/>
<rect x="63.12" y="67.12" width="0.83" height="8.00" fill="#c8c48c"/>
<rect x="65.86" y="67.12" width="0.58" height="8.00" fill="#c8c48c"/>
<rect x="67.78" y="67.12" width="0.79" height="8.00" fill="#7d6d10"/>
<rect x="69.73" y="67.12" width="0.69" height="8.00" fill="#7d6d10"/>
<rect x="71.90" y="67.12" width="0.79" height="8.00" fill="#5a8a6e"/>
<rect x="74.34" y="67.12" width="0.74" height="8.00" fill="#7d6d10"/>
<rect x="76.24" y="67.12" width="0.90" height="8.00" fill="#5a8a6e"/>
<rect x="78.43" y="67.12" width="0.53" height="8.00" fill="#7d6d10"/>
<rect x="79.83" y="67.12" width="0.87" height="8.00" fill="#c8c48c"/>
<rect x="98.40" y="67.12" width="2.23" height="8.00" fill="#5a8a6e"/>
<rect x="100.58" y="67.12" width="2.14" height="8.00" fill="#5a8a6e"/>
<rect x="102.67" y="67.12" width="1.08" height="8.00" fill="#c8c48c"/>
<rect x="108.00" y="67.12" width="2.05" height="8.00" fill="#c8c48c"/>
<rect x="112.00" y="67.12" width="1.42" height="8.00" fill="#eda86a"/>
<rect x="113.37" y="67.12" width="1.30" height="8.00" fill="#c8c48c"/>
<rect x="114.63" y="67.12" width="2.12" height="8.00" fill="#7d6d10"/>
<rect x="116.70" y="67.12" width="1.85" height="8.00" fill="#7d6d10"/>
<rect x="120.00" y="67.12" width="0.80" height="8.00" fill="#eda86a"/>
<rect x="120.75" y="67.12" width="1.12" height="8.00" fill="#5a8a6e"/>
<rect x="121.82" y="67.12" width="1.67" height="8.00" fill="#7d6d10"/>
<rect x="123.45" y="67.12" width="0.60" height="8.00" fill="#7d6d10"/>
<rect x="184.00" y="67.12" width="1.34" height="8.00" fill="#7d6d10"/>
<rect x="185.29" y="67.12" width="1.84" height="8.00" fill="#eda86a"/>
<rect x="187.08" y="67.12" width="1.11" height="8.00" fill="#7d6d10"/>
<rect x="188.14" y="67.12" width="1.13" height="8.00" fill="#7d6d10"/>
<rect x="189.22" y="67.12" width="0.77" height="8.00" fill="#7d6d10"/>
<rect x="189.94" y="67.12" width="1.87" height="8.00" fill="#eda86a"/>
<rect x="191.76" y="67.12" width="0.29" height="8.00" fill="#c8c48c"/>
<rect x="255.50" y="67.12" width="2.05" height="8.00" fill="#7d6d10"/>
<rect x="257.50" y="67.12" width="0.91" height="8.00" fill="#7d6d10"/>
<rect x="258.36" y="67.12" width="1.39" height="8.00" fill="#5a8a6e"/>
<rect x="259.70" y="67.12" width="1.52" height="8.00" fill="#7d6d10"/>
<rect x="261.17" y="67.12" width="0.88" height="8.00" fill="#7d6d10"/>
<rect x="271.00" y="67.12" width="1.39" height="8.00" fill="#cc5a28"/>
<rect x="272.34" y="67.12" width="1.94" height="8.00" fill="#7d6d10"/>
<rect x="274.23" y="67.12" width="1.04" height="8.00" fill="#eda86a"/>
<rect x="275.22" y="67.12" width="0.67" height="8.00" fill="#7d6d10"/>
<rect x="275.84" y="67.12" width="1.50" height="8.00" fill="#5a8a6e"/>
<rect x="277.29" y="67.12" width="0.92" height="8.00" fill="#7d6d10"/>
<rect x="278.15" y="67.12" width="0.70" height="8.00" fill="#eda86a"/>
<rect x="62.30" y="75.12" width="0.70" height="8.00" fill="#2e6db4"/>
<rect x="63.30" y="75.12" width="0.70" height="8.00" fill="#e2001a"/>
<rect x="67.30" y="75.12" width="0.70" height="8.00" fill="#e2001a"/>
<rect x="75.80" y="75.12" width="0.70" height="8.00" fill="#e2001a"/>
<rect x="108.00" y="75.12" width="1.50" height="8.00" fill="#e2001a"/>
<rect x="118.30" y="75.12" width="0.70" height="8.00" fill="#e2001a"/>
<rect x="121.30" y="75.12" width="0.70" height="8.00" fill="#f08090"/>
<rect x="126.00" y="75.12" width="1.50" height="8.00" fill="#7a3a8a"/>
<rect x="192.00" y="75.12" width="0.60" height="8.00" fill="#f08090"/>
<rect x="252.40" y="75.12" width="0.60" height="8.00" fill="#f08090"/>
<rect x="256.30" y="75.12" width="0.70" height="8.00" fill="#9ab8d8"/>
<rect x="262.30" y="75.12" width="0.70" height="8.00" fill="#2e6db4"/>
<rect x="278.80" y="75.12" width="1.60" height="8.00" fill="#e2001a"/>
<rect x="61.60" y="83.76" width="1.40" height="8.00" fill="#c8c48c"/>
<rect x="62.95" y="83.76" width="0.10" height="8.00" fill="#c8c48c"/>
<rect x="64.80" y="83.76" width="0.60" height="8.00" fill="#7d6d10"/>
<rect x="69.80" y="83.76" width="2.20" height="8.00" fill="#5a8a6e"/>
<rect x="75.00" y="83.76" width="1.00" height="8.00" fill="#eda86a"/>
<rect x="80.00" y="83.76" width="2.00" height="8.00" fill="#7d6d10"/>
<rect x="104.00" y="83.76" width="2.50" height="8.00" fill="#7d6d10"/>
<rect x="119.40" y="83.76" width="0.80" height="8.00" fill="#5a8a6e"/>
<rect x="122.00" y="83.76" width="0.71" height="8.00" fill="#7d6d10"/>
<rect x="122.66" y="83.76" width="0.67" height="8.00" fill="#5a8a6e"/>
<rect x="123.28" y="83.76" width="1.19" height="8.00" fill="#7d6d10"/>
<rect x="124.42" y="83.76" width="1.52" height="8.00" fill="#7d6d10"/>
<rect x="125.89" y="83.76" width="0.16" height="8.00" fill="#7d6d10"/>
<rect x="192.00" y="83.76" width="1.93" height="8.00" fill="#7d6d10"/>
<rect x="193.88" y="83.76" width="1.07" height="8.00" fill="#7d6d10"/>
<rect x="194.90" y="83.76" width="1.34" height="8.00" fill="#5a8a6e"/>
<rect x="196.19" y="83.76" width="1.73" height="8.00" fill="#cc5a28"/>
<rect x="197.87" y="83.76" width="1.94" height="8.00" fill="#7d6d10"/>
<rect x="199.76" y="83.76" width="0.87" height="8.00" fill="#eda86a"/>
<rect x="200.58" y="83.76" width="1.47" height="8.00" fill="#5a8a6e"/>
<rect x="250.30" y="83.76" width="0.60" height="8.00" fill="#7d6d10"/>
<rect x="255.30" y="83.76" width="0.60" height="8.00" fill="#7d6d10"/>
<rect x="258.30" y="83.76" width="0.60" height="8.00" fill="#7d6d10"/>
<rect x="262.30" y="83.76" width="0.60" height="8.00" fill="#a8c8b0"/>
<rect x="270.80" y="83.76" width="0.60" height="8.00" fill="#eda86a"/>
<rect x="280.40" y="83.76" width="1.98" height="8.00" fill="#5a8a6e"/>
<rect x="282.33" y="83.76" width="0.72" height="8.00" fill="#7d6d10"/>
<rect x="63.20" y="91.76" width="0.70" height="8.00" fill="#e2001a"/>
<rect x="72.00" y="91.76" width="0.70" height="8.00" fill="#2e6db4"/>
<rect x="84.70" y="91.76" width="0.70" height="8.00" fill="#e2001a"/>
<rect x="126.80" y="91.76" width="0.80" height="8.00" fill="#e2001a"/>
<rect x="127.60" y="91.76" width="0.70" height="8.00" fill="#2e6db4"/>
<rect x="202.00" y="91.76" width="1.00" height="8.00" fill="#e2001a"/>
<rect x="203.00" y="91.76" width="1.00" height="8.00" fill="#2e6db4"/>
<rect x="283.20" y="91.76" width="0.80" height="8.00" fill="#e2001a"/>
<rect x="284.00" y="91.76" width="0.70" height="8.00" fill="#7a3a8a"/>
<rect x="65.80" y="100.40" width="0.60" height="8.00" fill="#f3424f"/>
<rect x="69.80" y="100.40" width="0.60" height="8.00" fill="#5a8a6e"/>
<rect x="73.80" y="100.40" width="0.60" height="8.00" fill="#c8c48c"/>
<rect x="85.70" y="100.40" width="0.51" height="8.00" fill="#c8c48c"/>
<rect x="88.24" y="100.40" width="0.86" height="8.00" fill="#5a8a6e"/>
<rect x="90.77" y="100.40" width="0.87" height="8.00" fill="#eda86a"/>
<rect x="93.20" y="100.40" width="0.67" height="8.00" fill="#c8c48c"/>
<rect x="94.74" y="100.40" width="0.57" height="8.00" fill="#c8c48c"/>
<rect x="97.50" y="100.40" width="0.72" height="8.00" fill="#5a8a6e"/>
<rect x="99.39" y="100.40" width="0.68" height="8.00" fill="#eda86a"/>
<rect x="101.39" y="100.40" width="0.88" height="8.00" fill="#7d6d10"/>
<rect x="103.38" y="100.40" width="0.71" height="8.00" fill="#5a8a6e"/>
<rect x="115.00" y="100.40" width="1.97" height="8.00" fill="#c8c48c"/>
<rect x="116.92" y="100.40" width="1.13" height="8.00" fill="#7d6d10"/>
<rect x="126.30" y="100.40" width="0.70" height="8.00" fill="#f3424f"/>
<rect x="152.20" y="100.40" width="0.60" height="8.00" fill="#5a8a6e"/>
<rect x="165.40" y="100.40" width="0.60" height="8.00" fill="#c8c48c"/>
<rect x="172.70" y="100.40" width="0.60" height="8.00" fill="#f08090"/>
<rect x="178.20" y="100.40" width="0.60" height="8.00" fill="#cc5a28"/>
<rect x="193.30" y="100.40" width="0.60" height="8.00" fill="#f08090"/>
<rect x="198.20" y="100.40" width="0.60" height="8.00" fill="#c8c48c"/>
<rect x="248.20" y="100.40" width="0.60" height="8.00" fill="#f08090"/>
<rect x="256.00" y="100.40" width="3.00" height="8.00" fill="#7d6d10"/>
<rect x="260.00" y="100.40" width="1.57" height="8.00" fill="#5a8a6e"/>
<rect x="261.52" y="100.40" width="1.43" height="8.00" fill="#7d6d10"/>
<rect x="262.90" y="100.40" width="1.15" height="8.00" fill="#cc5a28"/>
<rect x="264.30" y="100.40" width="0.60" height="8.00" fill="#7d6d10"/>
<rect x="268.20" y="100.40" width="0.60" height="8.00" fill="#a8c8b0"/>
<rect x="277.50" y="100.40" width="2.00" height="8.00" fill="#7d6d10"/>
<rect x="285.00" y="100.40" width="3.00" height="8.00" fill="#7d6d10"/>
<rect x="69.00" y="108.40" width="0.60" height="8.00" fill="#2e6db4"/>
<rect x="86.10" y="108.40" width="0.60" height="8.00" fill="#9ab8d8"/>
<rect x="126.20" y="108.40" width="0.60" height="8.00" fill="#f08090"/>
<rect x="237.20" y="108.40" width="0.60" height="8.00" fill="#f08090"/>
<rect x="245.70" y="108.40" width="0.60" height="8.00" fill="#e2001a"/>
<rect x="255.20" y="108.40" width="0.60" height="8.00" fill="#2e6db4"/>
<rect x="257.20" y="108.40" width="0.60" height="8.00" fill="#2e6db4"/>
<rect x="261.70" y="108.40" width="0.60" height="8.00" fill="#2e6db4"/>
<rect x="284.70" y="108.40" width="0.60" height="8.00" fill="#9ab8d8"/>
<rect x="288.20" y="108.40" width="0.60" height="8.00" fill="#e2001a"/>
<rect x="68.50" y="117.04" width="1.50" height="8.00" fill="#f08090"/>
<rect x="86.00" y="117.04" width="2.00" height="8.00" fill="#a8c8b0"/>
<rect x="106.70" y="117.04" width="0.60" height="8.00" fill="#a8c8b0"/>
<rect x="118.30" y="117.04" width="0.60" height="8.00" fill="#c8c48c"/>
<rect x="126.30" y="117.04" width="0.60" height="8.00" fill="#c8c48c"/>
<rect x="129.70" y="117.04" width="0.60" height="8.00" fill="#a8c8b0"/>
<rect x="147.70" y="117.04" width="0.60" height="8.00" fill="#c8c48c"/>
<rect x="151.70" y="117.04" width="0.60" height="8.00" fill="#c8c48c"/>
<rect x="183.00" y="117.04" width="0.60" height="8.00" fill="#c8c48c"/>
<rect x="193.70" y="117.04" width="0.60" height="8.00" fill="#c8c48c"/>
<rect x="256.70" y="117.04" width="0.60" height="8.00" fill="#c8c48c"/>
<rect x="259.20" y="117.04" width="0.60" height="8.00" fill="#c8c48c"/>
<rect x="274.20" y="117.04" width="0.60" height="8.00" fill="#c8c48c"/>
<rect x="276.70" y="117.04" width="0.90" height="8.00" fill="#c8c48c"/>
<rect x="281.70" y="117.04" width="0.60" height="8.00" fill="#5a8a6e"/>
<rect x="288.70" y="117.04" width="0.60" height="8.00" fill="#7d6d10"/>
<rect x="62.70" y="125.04" width="0.60" height="8.00" fill="#e2001a"/>
<rect x="69.70" y="125.04" width="0.60" height="8.00" fill="#f06070"/>
<rect x="93.00" y="125.04" width="0.60" height="8.00" fill="#2e6db4"/>
<rect x="126.20" y="125.04" width="0.60" height="8.00" fill="#f08090"/>
<rect x="165.20" y="125.04" width="0.60" height="8.00" fill="#f08090"/>
<rect x="228.20" y="125.04" width="0.60" height="8.00" fill="#9ab8d8"/>
<rect x="231.70" y="125.04" width="0.60" height="8.00" fill="#f08090"/>
<rect x="271.70" y="125.04" width="0.60" height="8.00" fill="#e2001a"/>
<rect x="19.00" y="17.60" width="20.00" height="7.20" fill="#7d6d10"/>
<rect x="39.00" y="17.60" width="7.00" height="7.20" fill="#5a8a6e"/>
<rect x="46.00" y="17.60" width="8.00" height="7.20" fill="#eda86a"/>
<rect x="54.00" y="17.60" width="5.20" height="7.20" fill="#f3424f"/>
<rect x="53.20" y="25.60" width="2.60" height="7.20" fill="#2e6db4"/>
<rect x="55.80" y="25.60" width="3.40" height="7.20" fill="#e2001a"/>
<rect x="46.20" y="34.24" width="1.80" height="7.20" fill="#7d6d10"/>
<rect x="48.00" y="34.24" width="6.50" height="7.20" fill="#5a8a6e"/>
<rect x="54.50" y="34.24" width="4.70" height="7.20" fill="#eda86a"/>
<rect x="55.20" y="42.24" width="1.00" height="7.20" fill="#2e6db4"/>
<rect x="56.20" y="42.24" width="3.00" height="7.20" fill="#e2001a"/>
<rect x="46.90" y="50.88" width="1.70" height="7.20" fill="#7d6d10"/>
<rect x="48.60" y="50.88" width="7.20" height="7.20" fill="#5a8a6e"/>
<rect x="55.80" y="50.88" width="1.70" height="7.20" fill="#eda86a"/>
<rect x="57.50" y="50.88" width="1.70" height="7.20" fill="#f3424f"/>
<rect x="54.20" y="58.88" width="0.70" height="7.20" fill="#2e6db4"/>
<rect x="54.90" y="58.88" width="4.30" height="7.20" fill="#e2001a"/>
<rect x="49.90" y="67.52" width="5.30" height="7.20" fill="#7d6d10"/>
<rect x="55.20" y="67.52" width="1.30" height="7.20" fill="#5a8a6e"/>
<rect x="56.50" y="67.52" width="1.50" height="7.20" fill="#eda86a"/>
<rect x="58.00" y="67.52" width="1.20" height="7.20" fill="#f3424f"/>
<rect x="56.00" y="75.52" width="1.00" height="7.20" fill="#2e6db4"/>
<rect x="57.00" y="75.52" width="2.20" height="7.20" fill="#e2001a"/>
<rect x="52.60" y="84.16" width="1.90" height="7.20" fill="#7d6d10"/>
<rect x="54.50" y="84.16" width="2.00" height="7.20" fill="#5a8a6e"/>
<rect x="56.50" y="84.16" width="1.50" height="7.20" fill="#eda86a"/>
<rect x="58.00" y="84.16" width="1.20" height="7.20" fill="#f3424f"/>
<rect x="57.80" y="92.16" width="0.60" height="7.20" fill="#7a3a8a"/>
<rect x="58.40" y="92.16" width="0.80" height="7.20" fill="#e2001a"/>
<rect x="53.40" y="100.80" width="2.60" height="7.20" fill="#7d6d10"/>
<rect x="56.00" y="100.80" width="1.00" height="7.20" fill="#5a8a6e"/>
<rect x="57.00" y="100.80" width="1.00" height="7.20" fill="#eda86a"/>
<rect x="58.00" y="100.80" width="1.20" height="7.20" fill="#f3424f"/>
<rect x="58.20" y="108.80" width="1.00" height="7.20" fill="#7a3a8a"/>
<rect x="56.40" y="117.44" width="2.10" height="7.20" fill="#7d6d10"/>
<rect x="58.50" y="117.44" width="0.70" height="7.20" fill="#c8c48c"/>
<rect x="58.20" y="125.44" width="1.00" height="7.20" fill="#e03050"/>
<text x="42.00" y="23.50" font-size="5.29" text-anchor="end" fill="#262626" font-weight="normal" stroke="#262626" stroke-width="0.18" textLength="9.21" lengthAdjust="spacingAndGlyphs">70%</text>
<text x="42.00" y="31.50" font-size="5.29" text-anchor="end" fill="#262626" font-weight="normal" stroke="#262626" stroke-width="0.18" textLength="8.87" lengthAdjust="spacingAndGlyphs">11%</text>
<text x="42.00" y="40.14" font-size="5.29" text-anchor="end" fill="#262626" font-weight="normal" stroke="#262626" stroke-width="0.18" textLength="9.21" lengthAdjust="spacingAndGlyphs">22%</text>
<text x="42.00" y="48.14" font-size="5.29" text-anchor="end" fill="#262626" font-weight="normal" stroke="#262626" stroke-width="0.18" textLength="6.65" lengthAdjust="spacingAndGlyphs">8%</text>
<text x="42.00" y="56.78" font-size="5.29" text-anchor="end" fill="#262626" font-weight="normal" stroke="#262626" stroke-width="0.18" textLength="9.21" lengthAdjust="spacingAndGlyphs">21%</text>
<text x="42.00" y="64.78" font-size="5.29" text-anchor="end" fill="#262626" font-weight="normal" stroke="#262626" stroke-width="0.18" textLength="6.65" lengthAdjust="spacingAndGlyphs">9%</text>
<text x="42.00" y="73.42" font-size="5.29" text-anchor="end" fill="#262626" font-weight="normal" stroke="#262626" stroke-width="0.18" textLength="9.21" lengthAdjust="spacingAndGlyphs">16%</text>
<text x="42.00" y="81.42" font-size="5.29" text-anchor="end" fill="#262626" font-weight="normal" stroke="#262626" stroke-width="0.18" textLength="6.65" lengthAdjust="spacingAndGlyphs">5%</text>
<text x="42.00" y="90.06" font-size="5.29" text-anchor="end" fill="#262626" font-weight="normal" stroke="#262626" stroke-width="0.18" textLength="9.21" lengthAdjust="spacingAndGlyphs">12%</text>
<text x="42.00" y="98.06" font-size="5.29" text-anchor="end" fill="#262626" font-weight="normal" stroke="#262626" stroke-width="0.18" textLength="6.65" lengthAdjust="spacingAndGlyphs">3%</text>
<text x="42.00" y="106.70" font-size="5.29" text-anchor="end" fill="#262626" font-weight="normal" stroke="#262626" stroke-width="0.18" textLength="9.21" lengthAdjust="spacingAndGlyphs">10%</text>
<text x="42.00" y="114.70" font-size="5.29" text-anchor="end" fill="#262626" font-weight="normal" stroke="#262626" stroke-width="0.18" textLength="6.65" lengthAdjust="spacingAndGlyphs">2%</text>
<text x="42.00" y="123.34" font-size="5.29" text-anchor="end" fill="#262626" font-weight="normal" stroke="#262626" stroke-width="0.18" textLength="6.65" lengthAdjust="spacingAndGlyphs">4%</text>
<text x="42.00" y="131.34" font-size="5.29" text-anchor="end" fill="#262626" font-weight="normal" stroke="#262626" stroke-width="0.18" textLength="6.65" lengthAdjust="spacingAndGlyphs">2%</text>
<line x1="8.40" y1="134.40" x2="59.30" y2="134.40" stroke="#555" stroke-width="0.40"/>
<line x1="8.40" y1="134.40" x2="8.40" y2="135.80" stroke="#555" stroke-width="0.40"/>
<text x="8.40" y="140.70" font-size="5.26" text-anchor="middle" fill="#262626" font-weight="normal" stroke="#262626" stroke-width="0.15" textLength="7.84" lengthAdjust="spacingAndGlyphs">400</text>
<line x1="21.10" y1="134.40" x2="21.10" y2="135.80" stroke="#555" stroke-width="0.40"/>
<text x="21.10" y="140.70" font-size="5.26" text-anchor="middle" fill="#262626" font-weight="normal" stroke="#262626" stroke-width="0.15" textLength="7.84" lengthAdjust="spacingAndGlyphs">300</text>
<line x1="33.80" y1="134.40" x2="33.80" y2="135.80" stroke="#555" stroke-width="0.40"/>
<text x="33.80" y="140.70" font-size="5.26" text-anchor="middle" fill="#262626" font-weight="normal" stroke="#262626" stroke-width="0.15" textLength="7.84" lengthAdjust="spacingAndGlyphs">200</text>
<line x1="46.50" y1="134.40" x2="46.50" y2="135.80" stroke="#555" stroke-width="0.40"/>
<text x="46.50" y="140.70" font-size="5.26" text-anchor="middle" fill="#262626" font-weight="normal" stroke="#262626" stroke-width="0.15" textLength="7.84" lengthAdjust="spacingAndGlyphs">100</text>
<line x1="59.30" y1="134.40" x2="59.30" y2="135.80" stroke="#555" stroke-width="0.40"/>
<text x="59.30" y="140.70" font-size="5.26" text-anchor="middle" fill="#262626" font-weight="normal" stroke="#262626" stroke-width="0.15" textLength="2.61" lengthAdjust="spacingAndGlyphs">0</text>
<text x="409.90" y="13.80" font-size="5.90" text-anchor="end" fill="#231f20" font-weight="normal" stroke="#231f20" stroke-width="0.14">% (New / Total)</text>
<text x="333.30" y="27.60" font-size="6.79" text-anchor="start" fill="#231f20" font-weight="normal" textLength="14.10" lengthAdjust="spacingAndGlyphs" stroke="#231f20" stroke-width="0.14">TP53</text>
<text x="409.90" y="27.60" font-size="6.79" text-anchor="end" fill="#231f20" font-weight="normal" textLength="32.14" lengthAdjust="spacingAndGlyphs" stroke="#231f20" stroke-width="0.14">3% (9 / 326)</text>
<text x="333.30" y="44.24" font-size="6.79" text-anchor="start" fill="#231f20" font-weight="normal" textLength="13.66" lengthAdjust="spacingAndGlyphs" stroke="#231f20" stroke-width="0.14">FAT1</text>
<text x="409.90" y="44.24" font-size="6.79" text-anchor="end" fill="#231f20" font-weight="normal" textLength="38.70" lengthAdjust="spacingAndGlyphs" stroke="#231f20" stroke-width="0.14">19% (24 / 125)</text>
<text x="333.30" y="60.88" font-size="6.79" text-anchor="start" fill="#231f20" font-weight="normal" textLength="23.94" lengthAdjust="spacingAndGlyphs" stroke="#231f20" stroke-width="0.14">CDKN2A</text>
<text x="409.90" y="60.88" font-size="6.79" text-anchor="end" fill="#231f20" font-weight="normal" textLength="38.70" lengthAdjust="spacingAndGlyphs" stroke="#231f20" stroke-width="0.14">22% (27 / 124)</text>
<text x="333.30" y="77.52" font-size="6.79" text-anchor="start" fill="#231f20" font-weight="normal" textLength="24.26" lengthAdjust="spacingAndGlyphs" stroke="#231f20" stroke-width="0.14">NOTCH1</text>
<text x="409.90" y="77.52" font-size="6.79" text-anchor="end" fill="#231f20" font-weight="normal" textLength="35.42" lengthAdjust="spacingAndGlyphs" stroke="#231f20" stroke-width="0.14">20% (19 / 93)</text>
<text x="333.30" y="94.16" font-size="6.79" text-anchor="start" fill="#231f20" font-weight="normal" textLength="15.74" lengthAdjust="spacingAndGlyphs" stroke="#231f20" stroke-width="0.14">NSD1</text>
<text x="409.90" y="94.16" font-size="6.79" text-anchor="end" fill="#231f20" font-weight="normal" textLength="35.42" lengthAdjust="spacingAndGlyphs" stroke="#231f20" stroke-width="0.14">16% (10 / 62)</text>
<text x="333.30" y="110.80" font-size="6.79" text-anchor="start" fill="#231f20" font-weight="normal" textLength="19.35" lengthAdjust="spacingAndGlyphs" stroke="#231f20" stroke-width="0.14">CASP8</text>
<text x="409.90" y="110.80" font-size="6.79" text-anchor="end" fill="#231f20" font-weight="normal" textLength="32.14" lengthAdjust="spacingAndGlyphs" stroke="#231f20" stroke-width="0.14">13% (7 / 52)</text>
<text x="333.30" y="127.44" font-size="6.79" text-anchor="start" fill="#231f20" font-weight="normal" textLength="23.28" lengthAdjust="spacingAndGlyphs" stroke="#231f20" stroke-width="0.14">TGFBR2</text>
<text x="409.90" y="127.44" font-size="6.79" text-anchor="end" fill="#231f20" font-weight="normal" textLength="32.14" lengthAdjust="spacingAndGlyphs" stroke="#231f20" stroke-width="0.14">29% (8 / 28)</text>
<text x="-0.40" y="160.10" font-size="12.00" text-anchor="start" fill="#000" font-weight="bold" stroke="#000" stroke-width="0.45">c</text>
<text x="59.30" y="159.00" font-size="6.30" text-anchor="end" fill="#231f20" font-weight="normal" stroke="#231f20" stroke-width="0.14">HPV pos.</text>
<text x="59.30" y="167.40" font-size="6.30" text-anchor="end" fill="#231f20" font-weight="normal" stroke="#231f20" stroke-width="0.14">Anatomic site</text>
<rect x="62.00" y="153.70" width="268.80" height="6.10" fill="#adadad"/>
<rect x="62.00" y="153.70" width="1.20" height="6.10" fill="#555"/>
<rect x="78.70" y="153.70" width="0.60" height="6.10" fill="#222"/>
<rect x="82.00" y="153.70" width="0.60" height="6.10" fill="#222"/>
<rect x="87.00" y="153.70" width="0.60" height="6.10" fill="#333"/>
<rect x="89.50" y="153.70" width="1.30" height="6.10" fill="#111"/>
<rect x="102.20" y="153.70" width="0.60" height="6.10" fill="#222"/>
<rect x="104.50" y="153.70" width="0.60" height="6.10" fill="#222"/>
<rect x="113.20" y="153.70" width="2.30" height="6.10" fill="#000"/>
<rect x="115.50" y="153.70" width="2.00" height="6.10" fill="#333"/>
<rect x="122.20" y="153.70" width="0.60" height="6.10" fill="#333"/>
<rect x="126.20" y="153.70" width="0.60" height="6.10" fill="#444"/>
<rect x="132.40" y="153.70" width="0.60" height="6.10" fill="#222"/>
<rect x="135.70" y="153.70" width="0.60" height="6.10" fill="#111"/>
<rect x="140.60" y="153.70" width="0.60" height="6.10" fill="#333"/>
<rect x="145.50" y="153.70" width="0.60" height="6.10" fill="#333"/>
<rect x="167.10" y="153.70" width="0.60" height="6.10" fill="#333"/>
<rect x="154.20" y="153.70" width="0.60" height="6.10" fill="#222"/>
<rect x="157.50" y="153.70" width="0.60" height="6.10" fill="#222"/>
<rect x="187.70" y="153.70" width="0.60" height="6.10" fill="#111"/>
<rect x="206.40" y="153.70" width="0.60" height="6.10" fill="#222"/>
<rect x="210.00" y="153.70" width="0.60" height="6.10" fill="#444"/>
<rect x="218.20" y="153.70" width="0.60" height="6.10" fill="#222"/>
<rect x="221.50" y="153.70" width="0.80" height="6.10" fill="#222"/>
<rect x="223.00" y="153.70" width="0.60" height="6.10" fill="#333"/>
<rect x="230.00" y="153.70" width="1.00" height="6.10" fill="#222"/>
<rect x="232.60" y="153.70" width="1.00" height="6.10" fill="#222"/>
<rect x="240.30" y="153.70" width="0.70" height="6.10" fill="#111"/>
<rect x="242.30" y="153.70" width="0.70" height="6.10" fill="#222"/>
<rect x="244.50" y="153.70" width="1.50" height="6.10" fill="#111"/>
<rect x="247.00" y="153.70" width="1.00" height="6.10" fill="#222"/>
<rect x="249.50" y="153.70" width="0.90" height="6.10" fill="#333"/>
<rect x="268.80" y="153.70" width="0.80" height="6.10" fill="#111"/>
<rect x="273.50" y="153.70" width="1.00" height="6.10" fill="#222"/>
<rect x="306.60" y="153.70" width="0.80" height="6.10" fill="#111"/>
<rect x="312.20" y="153.70" width="1.00" height="6.10" fill="#000"/>
<rect x="320.60" y="153.70" width="0.70" height="6.10" fill="#333"/>
<rect x="329.00" y="153.70" width="0.60" height="6.10" fill="#444"/>
<rect x="62.00" y="161.90" width="1.64" height="6.70" fill="#86c742"/>
<rect x="63.59" y="161.90" width="1.82" height="6.70" fill="#c8d040"/>
<rect x="65.36" y="161.90" width="1.76" height="6.70" fill="#f6a04a"/>
<rect x="67.07" y="161.90" width="0.98" height="6.70" fill="#fdcb2f"/>
<rect x="68.01" y="161.90" width="1.99" height="6.70" fill="#86c742"/>
<rect x="69.94" y="161.90" width="1.94" height="6.70" fill="#f47a4a"/>
<rect x="71.83" y="161.90" width="1.47" height="6.70" fill="#f47a4a"/>
<rect x="73.25" y="161.90" width="1.55" height="6.70" fill="#4fb88f"/>
<rect x="74.75" y="161.90" width="0.96" height="6.70" fill="#f47a4a"/>
<rect x="75.66" y="161.90" width="1.26" height="6.70" fill="#f6a04a"/>
<rect x="76.87" y="161.90" width="1.79" height="6.70" fill="#f47a4a"/>
<rect x="78.61" y="161.90" width="1.83" height="6.70" fill="#f47a4a"/>
<rect x="80.39" y="161.90" width="1.63" height="6.70" fill="#f47a4a"/>
<rect x="81.97" y="161.90" width="0.95" height="6.70" fill="#f6a04a"/>
<rect x="82.87" y="161.90" width="1.18" height="6.70" fill="#f47a4a"/>
<rect x="84.00" y="161.90" width="2.03" height="6.70" fill="#f6a04a"/>
<rect x="85.98" y="161.90" width="1.27" height="6.70" fill="#c8d040"/>
<rect x="87.20" y="161.90" width="1.54" height="6.70" fill="#86c742"/>
<rect x="88.69" y="161.90" width="1.18" height="6.70" fill="#c8d040"/>
<rect x="89.82" y="161.90" width="1.71" height="6.70" fill="#c8d040"/>
<rect x="91.48" y="161.90" width="1.93" height="6.70" fill="#fdcb2f"/>
<rect x="93.36" y="161.90" width="1.35" height="6.70" fill="#f47a4a"/>
<rect x="94.66" y="161.90" width="1.11" height="6.70" fill="#f47a4a"/>
<rect x="95.72" y="161.90" width="1.28" height="6.70" fill="#4fb88f"/>
<rect x="96.95" y="161.90" width="0.95" height="6.70" fill="#86c742"/>
<rect x="97.85" y="161.90" width="1.32" height="6.70" fill="#fdcb2f"/>
<rect x="99.13" y="161.90" width="1.85" height="6.70" fill="#fdcb2f"/>
<rect x="100.93" y="161.90" width="1.30" height="6.70" fill="#fdcb2f"/>
<rect x="102.17" y="161.90" width="1.73" height="6.70" fill="#f47a4a"/>
<rect x="103.85" y="161.90" width="2.02" height="6.70" fill="#f47a4a"/>
<rect x="105.82" y="161.90" width="1.77" height="6.70" fill="#f6a04a"/>
<rect x="107.55" y="161.90" width="0.97" height="6.70" fill="#7f8cc8"/>
<rect x="108.47" y="161.90" width="1.35" height="6.70" fill="#4fb88f"/>
<rect x="109.77" y="161.90" width="0.96" height="6.70" fill="#f47a4a"/>
<rect x="110.68" y="161.90" width="1.15" height="6.70" fill="#c8d040"/>
<rect x="111.78" y="161.90" width="1.17" height="6.70" fill="#86c742"/>
<rect x="112.89" y="161.90" width="1.97" height="6.70" fill="#c8d040"/>
<rect x="114.82" y="161.90" width="1.33" height="6.70" fill="#fdcb2f"/>
<rect x="116.10" y="161.90" width="1.53" height="6.70" fill="#86c742"/>
<rect x="117.57" y="161.90" width="1.07" height="6.70" fill="#86c742"/>
<rect x="118.59" y="161.90" width="1.83" height="6.70" fill="#f6a04a"/>
<rect x="120.37" y="161.90" width="0.99" height="6.70" fill="#c8d040"/>
<rect x="121.31" y="161.90" width="1.05" height="6.70" fill="#fdcb2f"/>
<rect x="122.31" y="161.90" width="1.62" height="6.70" fill="#f6a04a"/>
<rect x="123.88" y="161.90" width="1.32" height="6.70" fill="#f6a04a"/>
<rect x="125.15" y="161.90" width="1.55" height="6.70" fill="#fdcb2f"/>
<rect x="126.65" y="161.90" width="1.30" height="6.70" fill="#f47a4a"/>
<rect x="127.90" y="161.90" width="1.04" height="6.70" fill="#f47a4a"/>
<rect x="128.89" y="161.90" width="1.71" height="6.70" fill="#c8d040"/>
<rect x="130.55" y="161.90" width="1.13" height="6.70" fill="#f47a4a"/>
<rect x="131.62" y="161.90" width="2.04" height="6.70" fill="#4fb88f"/>
<rect x="133.61" y="161.90" width="1.40" height="6.70" fill="#f47a4a"/>
<rect x="134.96" y="161.90" width="1.60" height="6.70" fill="#f6a04a"/>
<rect x="136.51" y="161.90" width="1.45" height="6.70" fill="#fdcb2f"/>
<rect x="137.91" y="161.90" width="1.01" height="6.70" fill="#f6a04a"/>
<rect x="138.87" y="161.90" width="0.99" height="6.70" fill="#fdcb2f"/>
<rect x="139.81" y="161.90" width="1.87" height="6.70" fill="#f47a4a"/>
<rect x="141.63" y="161.90" width="1.75" height="6.70" fill="#c8d040"/>
<rect x="143.34" y="161.90" width="1.64" height="6.70" fill="#7f8cc8"/>
<rect x="144.93" y="161.90" width="1.07" height="6.70" fill="#fdcb2f"/>
<rect x="145.95" y="161.90" width="1.11" height="6.70" fill="#f6a04a"/>
<rect x="147.01" y="161.90" width="1.27" height="6.70" fill="#fdcb2f"/>
<rect x="148.23" y="161.90" width="2.05" height="6.70" fill="#f6a04a"/>
<rect x="150.23" y="161.90" width="2.02" height="6.70" fill="#fdcb2f"/>
<rect x="152.21" y="161.90" width="1.49" height="6.70" fill="#86c742"/>
<rect x="153.64" y="161.90" width="1.48" height="6.70" fill="#fdcb2f"/>
<rect x="155.07" y="161.90" width="1.39" height="6.70" fill="#f47a4a"/>
<rect x="156.42" y="161.90" width="1.36" height="6.70" fill="#c8d040"/>
<rect x="157.73" y="161.90" width="2.01" height="6.70" fill="#4fb88f"/>
<rect x="159.69" y="161.90" width="1.50" height="6.70" fill="#fdcb2f"/>
<rect x="161.14" y="161.90" width="1.05" height="6.70" fill="#fdcb2f"/>
<rect x="162.13" y="161.90" width="1.81" height="6.70" fill="#f6a04a"/>
<rect x="163.89" y="161.90" width="1.35" height="6.70" fill="#7f8cc8"/>
<rect x="165.19" y="161.90" width="1.80" height="6.70" fill="#86c742"/>
<rect x="166.94" y="161.90" width="1.68" height="6.70" fill="#86c742"/>
<rect x="168.57" y="161.90" width="1.35" height="6.70" fill="#86c742"/>
<rect x="169.87" y="161.90" width="1.26" height="6.70" fill="#fdcb2f"/>
<rect x="171.08" y="161.90" width="1.80" height="6.70" fill="#86c742"/>
<rect x="172.83" y="161.90" width="1.27" height="6.70" fill="#c8d040"/>
<rect x="174.05" y="161.90" width="1.66" height="6.70" fill="#4fb88f"/>
<rect x="175.67" y="161.90" width="0.96" height="6.70" fill="#4fb88f"/>
<rect x="176.58" y="161.90" width="1.23" height="6.70" fill="#86c742"/>
<rect x="177.76" y="161.90" width="1.46" height="6.70" fill="#f6a04a"/>
<rect x="179.16" y="161.90" width="1.66" height="6.70" fill="#7f8cc8"/>
<rect x="180.78" y="161.90" width="1.33" height="6.70" fill="#86c742"/>
<rect x="182.06" y="161.90" width="1.76" height="6.70" fill="#f6a04a"/>
<rect x="183.77" y="161.90" width="1.34" height="6.70" fill="#f6a04a"/>
<rect x="185.06" y="161.90" width="1.91" height="6.70" fill="#86c742"/>
<rect x="186.91" y="161.90" width="2.02" height="6.70" fill="#c8d040"/>
<rect x="188.89" y="161.90" width="1.52" height="6.70" fill="#4fb88f"/>
<rect x="190.36" y="161.90" width="1.13" height="6.70" fill="#f6a04a"/>
<rect x="191.44" y="161.90" width="1.98" height="6.70" fill="#fdcb2f"/>
<rect x="193.37" y="161.90" width="1.71" height="6.70" fill="#86c742"/>
<rect x="195.03" y="161.90" width="1.75" height="6.70" fill="#f47a4a"/>
<rect x="196.73" y="161.90" width="1.81" height="6.70" fill="#4fb88f"/>
<rect x="198.49" y="161.90" width="1.68" height="6.70" fill="#fdcb2f"/>
<rect x="200.13" y="161.90" width="1.64" height="6.70" fill="#86c742"/>
<rect x="201.71" y="161.90" width="1.65" height="6.70" fill="#86c742"/>
<rect x="203.31" y="161.90" width="0.98" height="6.70" fill="#f47a4a"/>
<rect x="204.24" y="161.90" width="1.44" height="6.70" fill="#86c742"/>
<rect x="205.63" y="161.90" width="1.19" height="6.70" fill="#86c742"/>
<rect x="206.77" y="161.90" width="1.64" height="6.70" fill="#f47a4a"/>
<rect x="208.36" y="161.90" width="1.47" height="6.70" fill="#f47a4a"/>
<rect x="209.78" y="161.90" width="1.01" height="6.70" fill="#f47a4a"/>
<rect x="210.74" y="161.90" width="1.30" height="6.70" fill="#f47a4a"/>
<rect x="211.99" y="161.90" width="1.16" height="6.70" fill="#f47a4a"/>
<rect x="213.10" y="161.90" width="1.46" height="6.70" fill="#fdcb2f"/>
<rect x="214.51" y="161.90" width="1.62" height="6.70" fill="#4fb88f"/>
<rect x="216.09" y="161.90" width="1.21" height="6.70" fill="#f6a04a"/>
<rect x="217.25" y="161.90" width="0.95" height="6.70" fill="#fdcb2f"/>
<rect x="218.15" y="161.90" width="1.26" height="6.70" fill="#fdcb2f"/>
<rect x="219.36" y="161.90" width="1.08" height="6.70" fill="#f6a04a"/>
<rect x="220.38" y="161.90" width="1.36" height="6.70" fill="#f47a4a"/>
<rect x="221.69" y="161.90" width="1.62" height="6.70" fill="#f47a4a"/>
<rect x="223.27" y="161.90" width="1.55" height="6.70" fill="#fdcb2f"/>
<rect x="224.77" y="161.90" width="1.59" height="6.70" fill="#c8d040"/>
<rect x="226.31" y="161.90" width="1.85" height="6.70" fill="#fdcb2f"/>
<rect x="228.11" y="161.90" width="1.84" height="6.70" fill="#86c742"/>
<rect x="229.90" y="161.90" width="1.36" height="6.70" fill="#f47a4a"/>
<rect x="231.21" y="161.90" width="1.61" height="6.70" fill="#4fb88f"/>
<rect x="232.76" y="161.90" width="2.00" height="6.70" fill="#c8d040"/>
<rect x="234.72" y="161.90" width="1.62" height="6.70" fill="#fdcb2f"/>
<rect x="236.29" y="161.90" width="1.93" height="6.70" fill="#f47a4a"/>
<rect x="238.17" y="161.90" width="1.07" height="6.70" fill="#4fb88f"/>
<rect x="239.19" y="161.90" width="1.63" height="6.70" fill="#f47a4a"/>
<rect x="240.76" y="161.90" width="1.64" height="6.70" fill="#f6a04a"/>
<rect x="242.36" y="161.90" width="1.36" height="6.70" fill="#fdcb2f"/>
<rect x="243.67" y="161.90" width="1.20" height="6.70" fill="#fdcb2f"/>
<rect x="244.82" y="161.90" width="2.02" height="6.70" fill="#fdcb2f"/>
<rect x="246.79" y="161.90" width="2.01" height="6.70" fill="#f6a04a"/>
<rect x="248.75" y="161.90" width="1.61" height="6.70" fill="#fdcb2f"/>
<rect x="250.30" y="161.90" width="2.03" height="6.70" fill="#fdcb2f"/>
<rect x="252.28" y="161.90" width="1.41" height="6.70" fill="#fdcb2f"/>
<rect x="253.64" y="161.90" width="2.03" height="6.70" fill="#fdcb2f"/>
<rect x="255.62" y="161.90" width="1.27" height="6.70" fill="#fdcb2f"/>
<rect x="256.84" y="161.90" width="1.08" height="6.70" fill="#4fb88f"/>
<rect x="257.87" y="161.90" width="1.44" height="6.70" fill="#fdcb2f"/>
<rect x="259.26" y="161.90" width="1.81" height="6.70" fill="#f6a04a"/>
<rect x="261.02" y="161.90" width="0.96" height="6.70" fill="#4fb88f"/>
<rect x="261.93" y="161.90" width="1.25" height="6.70" fill="#f6a04a"/>
<rect x="263.13" y="161.90" width="1.81" height="6.70" fill="#f47a4a"/>
<rect x="264.89" y="161.90" width="1.24" height="6.70" fill="#f47a4a"/>
<rect x="266.09" y="161.90" width="2.04" height="6.70" fill="#fdcb2f"/>
<rect x="268.08" y="161.90" width="1.62" height="6.70" fill="#fdcb2f"/>
<rect x="269.64" y="161.90" width="1.66" height="6.70" fill="#4fb88f"/>
<rect x="271.25" y="161.90" width="1.77" height="6.70" fill="#f47a4a"/>
<rect x="272.97" y="161.90" width="1.79" height="6.70" fill="#fdcb2f"/>
<rect x="274.71" y="161.90" width="1.54" height="6.70" fill="#fdcb2f"/>
<rect x="276.19" y="161.90" width="1.28" height="6.70" fill="#4fb88f"/>
<rect x="277.42" y="161.90" width="1.46" height="6.70" fill="#fdcb2f"/>
<rect x="278.83" y="161.90" width="1.77" height="6.70" fill="#4fb88f"/>
<rect x="280.55" y="161.90" width="0.99" height="6.70" fill="#fdcb2f"/>
<rect x="281.49" y="161.90" width="1.45" height="6.70" fill="#f6a04a"/>
<rect x="282.89" y="161.90" width="1.93" height="6.70" fill="#4fb88f"/>
<rect x="284.77" y="161.90" width="0.97" height="6.70" fill="#86c742"/>
<rect x="285.69" y="161.90" width="1.42" height="6.70" fill="#4fb88f"/>
<rect x="287.06" y="161.90" width="1.73" height="6.70" fill="#86c742"/>
<rect x="288.74" y="161.90" width="1.48" height="6.70" fill="#f6a04a"/>
<rect x="290.17" y="161.90" width="1.37" height="6.70" fill="#fdcb2f"/>
<rect x="291.49" y="161.90" width="1.89" height="6.70" fill="#f47a4a"/>
<rect x="293.33" y="161.90" width="1.28" height="6.70" fill="#f6a04a"/>
<rect x="294.55" y="161.90" width="1.02" height="6.70" fill="#f6a04a"/>
<rect x="295.53" y="161.90" width="1.71" height="6.70" fill="#fdcb2f"/>
<rect x="297.19" y="161.90" width="1.26" height="6.70" fill="#7f8cc8"/>
<rect x="298.40" y="161.90" width="1.95" height="6.70" fill="#f47a4a"/>
<rect x="300.31" y="161.90" width="1.48" height="6.70" fill="#4fb88f"/>
<rect x="301.73" y="161.90" width="1.50" height="6.70" fill="#fdcb2f"/>
<rect x="303.18" y="161.90" width="1.12" height="6.70" fill="#4fb88f"/>
<rect x="304.25" y="161.90" width="1.84" height="6.70" fill="#f47a4a"/>
<rect x="306.04" y="161.90" width="1.20" height="6.70" fill="#f6a04a"/>
<rect x="307.19" y="161.90" width="1.82" height="6.70" fill="#86c742"/>
<rect x="308.97" y="161.90" width="0.98" height="6.70" fill="#86c742"/>
<rect x="309.89" y="161.90" width="2.03" height="6.70" fill="#c8d040"/>
<rect x="311.87" y="161.90" width="1.72" height="6.70" fill="#f47a4a"/>
<rect x="313.54" y="161.90" width="1.88" height="6.70" fill="#f47a4a"/>
<rect x="315.37" y="161.90" width="1.66" height="6.70" fill="#c8d040"/>
<rect x="316.98" y="161.90" width="1.73" height="6.70" fill="#f47a4a"/>
<rect x="318.66" y="161.90" width="1.27" height="6.70" fill="#f6a04a"/>
<rect x="319.88" y="161.90" width="1.11" height="6.70" fill="#4fb88f"/>
<rect x="320.95" y="161.90" width="1.41" height="6.70" fill="#f47a4a"/>
<rect x="322.30" y="161.90" width="1.63" height="6.70" fill="#f47a4a"/>
<rect x="323.89" y="161.90" width="1.07" height="6.70" fill="#fdcb2f"/>
<rect x="324.91" y="161.90" width="1.03" height="6.70" fill="#f47a4a"/>
<rect x="325.89" y="161.90" width="1.58" height="6.70" fill="#86c742"/>
<rect x="327.42" y="161.90" width="1.92" height="6.70" fill="#f47a4a"/>
<rect x="329.29" y="161.90" width="1.42" height="6.70" fill="#fdcb2f"/>
<rect x="330.66" y="161.90" width="0.19" height="6.70" fill="#fdcb2f"/>
<rect x="61.60" y="170.30" width="269.20" height="16.00" fill="#ebebeb"/>
<rect x="61.60" y="186.94" width="269.20" height="16.00" fill="#ebebeb"/>
<rect x="61.60" y="203.58" width="269.20" height="16.00" fill="#ebebeb"/>
<rect x="61.60" y="220.22" width="269.20" height="16.00" fill="#ebebeb"/>
<rect x="61.60" y="236.86" width="269.20" height="16.00" fill="#ebebeb"/>
<rect x="61.60" y="253.50" width="269.20" height="16.00" fill="#ebebeb"/>
<rect x="61.60" y="270.14" width="269.20" height="16.00" fill="#ebebeb"/>
<rect x="61.90" y="170.30" width="1.30" height="8.00" fill="#a89a50"/>
<rect x="63.20" y="170.30" width="4.70" height="8.00" fill="#7d6d10"/>
<rect x="68.00" y="178.30" width="8.30" height="8.00" fill="#e2001a"/>
<rect x="76.30" y="178.30" width="2.60" height="8.00" fill="#2e6db4"/>
<rect x="79.30" y="186.94" width="2.20" height="8.00" fill="#cc5a28"/>
<rect x="61.70" y="194.94" width="0.60" height="8.00" fill="#f08090"/>
<rect x="68.10" y="194.94" width="0.70" height="8.00" fill="#e2001a"/>
<rect x="76.30" y="194.94" width="0.70" height="8.00" fill="#e2001a"/>
<rect x="82.00" y="194.94" width="6.90" height="8.00" fill="#e2001a"/>
<rect x="88.90" y="194.94" width="1.90" height="8.00" fill="#2e6db4"/>
<rect x="82.10" y="203.58" width="0.60" height="8.00" fill="#7d6d10"/>
<rect x="91.20" y="203.58" width="1.30" height="8.00" fill="#cc5a28"/>
<rect x="61.70" y="211.58" width="0.60" height="8.00" fill="#f08090"/>
<rect x="68.10" y="211.58" width="0.60" height="8.00" fill="#e2001a"/>
<rect x="77.20" y="211.58" width="0.60" height="8.00" fill="#f08090"/>
<rect x="81.70" y="211.58" width="0.60" height="8.00" fill="#f08090"/>
<rect x="92.40" y="211.58" width="9.00" height="8.00" fill="#e2001a"/>
<rect x="101.40" y="211.58" width="0.40" height="8.00" fill="#5a2a5a"/>
<rect x="83.00" y="220.22" width="0.60" height="8.00" fill="#7d6d10"/>
<rect x="102.00" y="220.22" width="5.00" height="8.00" fill="#7d6d10"/>
<rect x="69.00" y="228.22" width="0.60" height="8.00" fill="#e2001a"/>
<rect x="82.00" y="228.22" width="1.20" height="8.00" fill="#f08090"/>
<rect x="83.20" y="228.22" width="1.30" height="8.00" fill="#b0c8e0"/>
<rect x="89.10" y="228.22" width="0.70" height="8.00" fill="#2e6db4"/>
<rect x="92.00" y="228.22" width="0.60" height="8.00" fill="#f08090"/>
<rect x="107.00" y="228.22" width="3.40" height="8.00" fill="#e2001a"/>
<rect x="110.40" y="228.22" width="1.60" height="8.00" fill="#2e6db4"/>
<rect x="69.70" y="236.86" width="0.60" height="8.00" fill="#c8c48c"/>
<rect x="76.20" y="236.86" width="0.60" height="8.00" fill="#7d6d10"/>
<rect x="89.20" y="236.86" width="1.80" height="8.00" fill="#7d6d10"/>
<rect x="111.00" y="236.86" width="0.60" height="8.00" fill="#c8c48c"/>
<rect x="70.20" y="244.86" width="0.60" height="8.00" fill="#f06070"/>
<rect x="89.10" y="244.86" width="0.70" height="8.00" fill="#e2001a"/>
<rect x="102.00" y="244.86" width="0.60" height="8.00" fill="#f06070"/>
<rect x="112.20" y="244.86" width="7.00" height="8.00" fill="#e2001a"/>
<rect x="119.20" y="244.86" width="0.80" height="8.00" fill="#2e6db4"/>
<rect x="61.40" y="253.50" width="0.60" height="8.00" fill="#c8c48c"/>
<rect x="119.20" y="253.50" width="1.80" height="8.00" fill="#cc5a28"/>
<rect x="62.20" y="261.50" width="1.60" height="8.00" fill="#e2001a"/>
<rect x="91.70" y="261.50" width="0.60" height="8.00" fill="#f06070"/>
<rect x="121.00" y="261.50" width="4.00" height="8.00" fill="#e2001a"/>
<rect x="124.40" y="270.14" width="1.40" height="8.00" fill="#f4b0b8"/>
<rect x="111.90" y="278.14" width="0.60" height="8.00" fill="#e2001a"/>
<rect x="119.70" y="278.14" width="0.60" height="8.00" fill="#f06070"/>
<rect x="125.00" y="278.14" width="0.60" height="8.00" fill="#e2001a"/>
<rect x="57.60" y="170.70" width="1.20" height="7.20" fill="#7d6d10"/>
<rect x="57.00" y="178.70" width="0.60" height="7.20" fill="#2e6db4"/>
<rect x="57.60" y="178.70" width="1.60" height="7.20" fill="#e2001a"/>
<rect x="58.20" y="187.34" width="0.80" height="7.20" fill="#e8dcc8"/>
<rect x="57.00" y="195.34" width="0.40" height="7.20" fill="#2e6db4"/>
<rect x="57.40" y="195.34" width="1.80" height="7.20" fill="#e2001a"/>
<rect x="58.30" y="203.98" width="0.70" height="7.20" fill="#e8dcc8"/>
<rect x="57.30" y="211.98" width="1.90" height="7.20" fill="#e2001a"/>
<rect x="57.80" y="220.62" width="1.20" height="7.20" fill="#7d6d10"/>
<rect x="57.20" y="228.62" width="0.80" height="7.20" fill="#2e6db4"/>
<rect x="58.00" y="228.62" width="1.20" height="7.20" fill="#e04060"/>
<rect x="58.00" y="237.26" width="1.00" height="7.20" fill="#d8d0a8"/>
<rect x="57.00" y="245.26" width="2.20" height="7.20" fill="#e2001a"/>
<rect x="58.10" y="253.90" width="0.90" height="7.20" fill="#e8dcc8"/>
<rect x="58.00" y="261.90" width="1.20" height="7.20" fill="#e2001a"/>
<rect x="58.60" y="270.54" width="0.40" height="7.20" fill="#f8d0d8"/>
<rect x="58.30" y="278.54" width="0.70" height="7.20" fill="#f4c0c8"/>
<text x="42.00" y="176.60" font-size="5.29" text-anchor="end" fill="#262626" font-weight="normal" stroke="#262626" stroke-width="0.18" textLength="6.65" lengthAdjust="spacingAndGlyphs">2%</text>
<text x="42.00" y="184.60" font-size="5.29" text-anchor="end" fill="#262626" font-weight="normal" stroke="#262626" stroke-width="0.18" textLength="6.65" lengthAdjust="spacingAndGlyphs">4%</text>
<text x="42.00" y="193.24" font-size="5.29" text-anchor="end" fill="#262626" font-weight="normal" stroke="#262626" stroke-width="0.18" textLength="6.65" lengthAdjust="spacingAndGlyphs">1%</text>
<text x="42.00" y="201.24" font-size="5.29" text-anchor="end" fill="#262626" font-weight="normal" stroke="#262626" stroke-width="0.18" textLength="6.65" lengthAdjust="spacingAndGlyphs">4%</text>
<text x="42.00" y="209.88" font-size="5.29" text-anchor="end" fill="#262626" font-weight="normal" stroke="#262626" stroke-width="0.18" textLength="6.65" lengthAdjust="spacingAndGlyphs">1%</text>
<text x="42.00" y="217.88" font-size="5.29" text-anchor="end" fill="#262626" font-weight="normal" stroke="#262626" stroke-width="0.18" textLength="6.65" lengthAdjust="spacingAndGlyphs">4%</text>
<text x="42.00" y="226.52" font-size="5.29" text-anchor="end" fill="#262626" font-weight="normal" stroke="#262626" stroke-width="0.18" textLength="6.65" lengthAdjust="spacingAndGlyphs">2%</text>
<text x="42.00" y="234.52" font-size="5.29" text-anchor="end" fill="#262626" font-weight="normal" stroke="#262626" stroke-width="0.18" textLength="6.65" lengthAdjust="spacingAndGlyphs">3%</text>
<text x="42.00" y="243.16" font-size="5.29" text-anchor="end" fill="#262626" font-weight="normal" stroke="#262626" stroke-width="0.18" textLength="6.65" lengthAdjust="spacingAndGlyphs">1%</text>
<text x="42.00" y="251.16" font-size="5.29" text-anchor="end" fill="#262626" font-weight="normal" stroke="#262626" stroke-width="0.18" textLength="6.65" lengthAdjust="spacingAndGlyphs">4%</text>
<text x="42.00" y="259.80" font-size="5.29" text-anchor="end" fill="#262626" font-weight="normal" stroke="#262626" stroke-width="0.18" textLength="6.65" lengthAdjust="spacingAndGlyphs">1%</text>
<text x="42.00" y="267.80" font-size="5.29" text-anchor="end" fill="#262626" font-weight="normal" stroke="#262626" stroke-width="0.18" textLength="6.65" lengthAdjust="spacingAndGlyphs">2%</text>
<text x="42.00" y="276.44" font-size="5.29" text-anchor="end" fill="#262626" font-weight="normal" stroke="#262626" stroke-width="0.18" textLength="6.65" lengthAdjust="spacingAndGlyphs">0%</text>
<text x="42.00" y="284.44" font-size="5.29" text-anchor="end" fill="#262626" font-weight="normal" stroke="#262626" stroke-width="0.18" textLength="6.65" lengthAdjust="spacingAndGlyphs">1%</text>
<line x1="8.40" y1="287.50" x2="59.30" y2="287.50" stroke="#555" stroke-width="0.40"/>
<line x1="8.40" y1="287.50" x2="8.40" y2="288.90" stroke="#555" stroke-width="0.40"/>
<text x="8.40" y="293.80" font-size="5.26" text-anchor="middle" fill="#262626" font-weight="normal" stroke="#262626" stroke-width="0.15" textLength="7.84" lengthAdjust="spacingAndGlyphs">400</text>
<line x1="21.10" y1="287.50" x2="21.10" y2="288.90" stroke="#555" stroke-width="0.40"/>
<text x="21.10" y="293.80" font-size="5.26" text-anchor="middle" fill="#262626" font-weight="normal" stroke="#262626" stroke-width="0.15" textLength="7.84" lengthAdjust="spacingAndGlyphs">300</text>
<line x1="33.80" y1="287.50" x2="33.80" y2="288.90" stroke="#555" stroke-width="0.40"/>
<text x="33.80" y="293.80" font-size="5.26" text-anchor="middle" fill="#262626" font-weight="normal" stroke="#262626" stroke-width="0.15" textLength="7.84" lengthAdjust="spacingAndGlyphs">200</text>
<line x1="46.50" y1="287.50" x2="46.50" y2="288.90" stroke="#555" stroke-width="0.40"/>
<text x="46.50" y="293.80" font-size="5.26" text-anchor="middle" fill="#262626" font-weight="normal" stroke="#262626" stroke-width="0.15" textLength="7.84" lengthAdjust="spacingAndGlyphs">100</text>
<line x1="59.30" y1="287.50" x2="59.30" y2="288.90" stroke="#555" stroke-width="0.40"/>
<text x="59.30" y="293.80" font-size="5.26" text-anchor="middle" fill="#262626" font-weight="normal" stroke="#262626" stroke-width="0.15" textLength="2.61" lengthAdjust="spacingAndGlyphs">0</text>
<text x="409.90" y="166.90" font-size="5.90" text-anchor="end" fill="#231f20" font-weight="normal" stroke="#231f20" stroke-width="0.14">% (New / Total)</text>
<text x="333.30" y="180.70" font-size="6.79" text-anchor="start" fill="#231f20" font-weight="normal" textLength="19.24" lengthAdjust="spacingAndGlyphs" stroke="#231f20" stroke-width="0.14">PARD3</text>
<text x="409.90" y="180.70" font-size="6.79" text-anchor="end" fill="#231f20" font-weight="normal" textLength="35.42" lengthAdjust="spacingAndGlyphs" stroke="#231f20" stroke-width="0.14">63% (19 / 30)</text>
<text x="333.30" y="197.34" font-size="6.79" text-anchor="start" fill="#231f20" font-weight="normal" textLength="11.15" lengthAdjust="spacingAndGlyphs" stroke="#231f20" stroke-width="0.14">LSS</text>
<text x="409.90" y="197.34" font-size="6.79" text-anchor="end" fill="#231f20" font-weight="normal" textLength="35.42" lengthAdjust="spacingAndGlyphs" stroke="#231f20" stroke-width="0.14">83% (20 / 24)</text>
<text x="333.30" y="213.98" font-size="6.79" text-anchor="start" fill="#231f20" font-weight="normal" textLength="15.95" lengthAdjust="spacingAndGlyphs" stroke="#231f20" stroke-width="0.14">MTAP</text>
<text x="409.90" y="213.98" font-size="6.79" text-anchor="end" fill="#231f20" font-weight="normal" textLength="35.42" lengthAdjust="spacingAndGlyphs" stroke="#231f20" stroke-width="0.14">83% (20 / 24)</text>
<text x="333.30" y="230.62" font-size="6.79" text-anchor="start" fill="#231f20" font-weight="normal" textLength="15.41" lengthAdjust="spacingAndGlyphs" stroke="#231f20" stroke-width="0.14">LRBA</text>
<text x="409.90" y="230.62" font-size="6.79" text-anchor="end" fill="#231f20" font-weight="normal" textLength="35.42" lengthAdjust="spacingAndGlyphs" stroke="#231f20" stroke-width="0.14">61% (14 / 23)</text>
<text x="333.30" y="247.26" font-size="6.79" text-anchor="start" fill="#231f20" font-weight="normal" textLength="18.36" lengthAdjust="spacingAndGlyphs" stroke="#231f20" stroke-width="0.14">FBLN5</text>
<text x="409.90" y="247.26" font-size="6.79" text-anchor="end" fill="#231f20" font-weight="normal" textLength="35.42" lengthAdjust="spacingAndGlyphs" stroke="#231f20" stroke-width="0.14">71% (15 / 21)</text>
<text x="333.30" y="263.90" font-size="6.79" text-anchor="start" fill="#231f20" font-weight="normal" textLength="19.35" lengthAdjust="spacingAndGlyphs" stroke="#231f20" stroke-width="0.14">ABCB7</text>
<text x="409.90" y="263.90" font-size="6.79" text-anchor="end" fill="#231f20" font-weight="normal" textLength="32.14" lengthAdjust="spacingAndGlyphs" stroke="#231f20" stroke-width="0.14">69% (9 / 13)</text>
<text x="333.30" y="280.54" font-size="6.79" text-anchor="start" fill="#231f20" font-weight="normal" textLength="18.69" lengthAdjust="spacingAndGlyphs" stroke="#231f20" stroke-width="0.14">RPS23</text>
<text x="409.90" y="280.54" font-size="6.79" text-anchor="end" fill="#231f20" font-weight="normal" textLength="28.86" lengthAdjust="spacingAndGlyphs" stroke="#231f20" stroke-width="0.14">75% (3 / 4)</text>
<text x="445.40" y="8.90" font-size="12.00" text-anchor="start" fill="#000" font-weight="bold" stroke="#000" stroke-width="0.45">b</text>
<text x="566.00" y="13.40" font-size="7.20" text-anchor="middle" fill="#231f20" font-weight="normal" stroke="#231f20" stroke-width="0.14">Percent (%) of mutations identified</text>
<line x1="462.40" y1="15.90" x2="669.50" y2="15.90" stroke="#d4d4d4" stroke-width="1.20"/>
<line x1="669.50" y1="15.90" x2="669.50" y2="125.10" stroke="#b8b8b8" stroke-width="0.60"/>
<line x1="462.40" y1="125.10" x2="669.50" y2="125.10" stroke="#777" stroke-width="0.70"/>
<line x1="462.40" y1="15.90" x2="462.40" y2="125.10" stroke="#777" stroke-width="0.70"/>
<line x1="460.90" y1="121.30" x2="462.40" y2="121.30" stroke="#777" stroke-width="0.50"/>
<text transform="translate(459.3,121.30) rotate(-90)" font-size="4.6" text-anchor="middle" fill="#444">0</text>
<line x1="460.90" y1="101.90" x2="462.40" y2="101.90" stroke="#777" stroke-width="0.50"/>
<text transform="translate(459.3,101.90) rotate(-90)" font-size="4.6" text-anchor="middle" fill="#444">5</text>
<line x1="460.90" y1="82.50" x2="462.40" y2="82.50" stroke="#777" stroke-width="0.50"/>
<text transform="translate(459.3,82.50) rotate(-90)" font-size="4.6" text-anchor="middle" fill="#444">10</text>
<line x1="460.90" y1="63.10" x2="462.40" y2="63.10" stroke="#777" stroke-width="0.50"/>
<text transform="translate(459.3,63.10) rotate(-90)" font-size="4.6" text-anchor="middle" fill="#444">15</text>
<line x1="460.90" y1="43.70" x2="462.40" y2="43.70" stroke="#777" stroke-width="0.50"/>
<text transform="translate(459.3,43.70) rotate(-90)" font-size="4.6" text-anchor="middle" fill="#444">20</text>
<line x1="460.90" y1="24.30" x2="462.40" y2="24.30" stroke="#777" stroke-width="0.50"/>
<text transform="translate(459.3,24.30) rotate(-90)" font-size="4.6" text-anchor="middle" fill="#444">25</text>
<text transform="translate(451.4,70.8) rotate(-90)" font-size="5.0" text-anchor="middle" fill="#222">Percent (%)</text>
<polygon points="474.20,66.98 497.20,67.76 520.20,67.76 543.20,63.88 566.20,60.00 589.20,54.18 612.20,48.36 635.20,39.04 658.20,18.09 658.20,53.40 635.20,63.10 612.20,69.31 589.20,72.41 566.20,76.29 543.20,79.78 520.20,81.72 497.20,81.72 474.20,81.72" fill="#f77f8c" fill-opacity="0.50"/>
<polygon points="474.20,85.60 497.20,86.77 520.20,86.77 543.20,82.89 566.20,79.78 589.20,77.07 612.20,75.52 635.20,57.28 658.20,30.90 658.20,87.54 635.20,91.42 612.20,95.30 589.20,96.86 566.20,98.02 543.20,98.41 520.20,98.80 497.20,98.80 474.20,98.41" fill="#ebc5b0" fill-opacity="0.92"/>
<polygon points="474.20,98.41 497.20,98.80 520.20,98.80 543.20,98.41 566.20,98.02 589.20,96.86 612.20,95.30 635.20,91.42 658.20,87.54 658.20,92.98 635.20,99.57 612.20,103.84 589.20,105.00 566.20,105.78 543.20,106.17 520.20,106.17 497.20,106.17 474.20,105.78" fill="#d0e2d6" fill-opacity="1.00"/>
<polygon points="474.20,105.78 497.20,106.17 520.20,106.17 543.20,106.17 566.20,105.78 589.20,105.00 612.20,103.84 635.20,99.57 658.20,92.98 658.20,114.70 635.20,114.32 612.20,113.93 589.20,114.32 566.20,114.32 543.20,115.09 520.20,115.48 497.20,115.48 474.20,115.09" fill="#f7e2c6" fill-opacity="1.00"/>
<polyline points="474.20,112.38 497.20,112.38 520.20,112.38 543.20,111.99 566.20,111.21 589.20,110.44 612.20,110.05 635.20,109.27 658.20,108.50" fill="none" stroke="#b7b06a" stroke-width="0.7"/>
<circle cx="474.20" cy="112.38" r="1.3" fill="#b7b06a"/>
<circle cx="497.20" cy="112.38" r="1.3" fill="#b7b06a"/>
<circle cx="520.20" cy="112.38" r="1.3" fill="#b7b06a"/>
<circle cx="543.20" cy="111.99" r="1.3" fill="#b7b06a"/>
<circle cx="566.20" cy="111.21" r="1.3" fill="#b7b06a"/>
<circle cx="589.20" cy="110.44" r="1.3" fill="#b7b06a"/>
<circle cx="612.20" cy="110.05" r="1.3" fill="#b7b06a"/>
<circle cx="635.20" cy="109.27" r="1.3" fill="#b7b06a"/>
<circle cx="658.20" cy="108.50" r="1.3" fill="#b7b06a"/>
<polyline points="474.20,111.60 497.20,111.60 520.20,111.60 543.20,111.60 566.20,110.82 589.20,110.05 612.20,108.88 635.20,107.33 658.20,105.00" fill="none" stroke="#7d6d10" stroke-width="0.7"/>
<circle cx="474.20" cy="111.60" r="1.3" fill="#7d6d10"/>
<circle cx="497.20" cy="111.60" r="1.3" fill="#7d6d10"/>
<circle cx="520.20" cy="111.60" r="1.3" fill="#7d6d10"/>
<circle cx="543.20" cy="111.60" r="1.3" fill="#7d6d10"/>
<circle cx="566.20" cy="110.82" r="1.3" fill="#7d6d10"/>
<circle cx="589.20" cy="110.05" r="1.3" fill="#7d6d10"/>
<circle cx="612.20" cy="108.88" r="1.3" fill="#7d6d10"/>
<circle cx="635.20" cy="107.33" r="1.3" fill="#7d6d10"/>
<circle cx="658.20" cy="105.00" r="1.3" fill="#7d6d10"/>
<polyline points="474.20,111.21 497.20,111.21 520.20,111.21 543.20,111.21 566.20,110.44 589.20,109.66 612.20,108.11 635.20,105.00 658.20,103.84" fill="none" stroke="#eda86a" stroke-width="0.7"/>
<circle cx="474.20" cy="111.21" r="1.3" fill="#eda86a"/>
<circle cx="497.20" cy="111.21" r="1.3" fill="#eda86a"/>
<circle cx="520.20" cy="111.21" r="1.3" fill="#eda86a"/>
<circle cx="543.20" cy="111.21" r="1.3" fill="#eda86a"/>
<circle cx="566.20" cy="110.44" r="1.3" fill="#eda86a"/>
<circle cx="589.20" cy="109.66" r="1.3" fill="#eda86a"/>
<circle cx="612.20" cy="108.11" r="1.3" fill="#eda86a"/>
<circle cx="635.20" cy="105.00" r="1.3" fill="#eda86a"/>
<circle cx="658.20" cy="103.84" r="1.3" fill="#eda86a"/>
<polyline points="474.20,106.94 497.20,106.94 520.20,106.94 543.20,106.94 566.20,106.56 589.20,105.39 612.20,104.62 635.20,103.45 658.20,101.51" fill="none" stroke="#5a8a6e" stroke-width="0.7"/>
<circle cx="474.20" cy="106.94" r="1.3" fill="#5a8a6e"/>
<circle cx="497.20" cy="106.94" r="1.3" fill="#5a8a6e"/>
<circle cx="520.20" cy="106.94" r="1.3" fill="#5a8a6e"/>
<circle cx="543.20" cy="106.94" r="1.3" fill="#5a8a6e"/>
<circle cx="566.20" cy="106.56" r="1.3" fill="#5a8a6e"/>
<circle cx="589.20" cy="105.39" r="1.3" fill="#5a8a6e"/>
<circle cx="612.20" cy="104.62" r="1.3" fill="#5a8a6e"/>
<circle cx="635.20" cy="103.45" r="1.3" fill="#5a8a6e"/>
<circle cx="658.20" cy="101.51" r="1.3" fill="#5a8a6e"/>
<polyline points="474.20,98.02 497.20,98.02 520.20,98.02 543.20,96.86 566.20,94.14 589.20,93.36 612.20,92.78 635.20,82.89 658.20,63.49" fill="none" stroke="#cc5a28" stroke-width="0.7"/>
<circle cx="474.20" cy="98.02" r="1.3" fill="#cc5a28"/>
<circle cx="497.20" cy="98.02" r="1.3" fill="#cc5a28"/>
<circle cx="520.20" cy="98.02" r="1.3" fill="#cc5a28"/>
<circle cx="543.20" cy="96.86" r="1.3" fill="#cc5a28"/>
<circle cx="566.20" cy="94.14" r="1.3" fill="#cc5a28"/>
<circle cx="589.20" cy="93.36" r="1.3" fill="#cc5a28"/>
<circle cx="612.20" cy="92.78" r="1.3" fill="#cc5a28"/>
<circle cx="635.20" cy="82.89" r="1.3" fill="#cc5a28"/>
<circle cx="658.20" cy="63.49" r="1.3" fill="#cc5a28"/>
<polyline points="474.20,74.74 497.20,74.74 520.20,74.74 543.20,72.41 566.20,68.53 589.20,63.88 612.20,59.22 635.20,52.24 658.20,38.66" fill="none" stroke="#f3424f" stroke-width="0.7"/>
<circle cx="474.20" cy="74.74" r="1.3" fill="#f3424f"/>
<circle cx="497.20" cy="74.74" r="1.3" fill="#f3424f"/>
<circle cx="520.20" cy="74.74" r="1.3" fill="#f3424f"/>
<circle cx="543.20" cy="72.41" r="1.3" fill="#f3424f"/>
<circle cx="566.20" cy="68.53" r="1.3" fill="#f3424f"/>
<circle cx="589.20" cy="63.88" r="1.3" fill="#f3424f"/>
<circle cx="612.20" cy="59.22" r="1.3" fill="#f3424f"/>
<circle cx="635.20" cy="52.24" r="1.3" fill="#f3424f"/>
<circle cx="658.20" cy="38.66" r="1.3" fill="#f3424f"/>
<text x="474.20" y="133.00" font-size="4.80" text-anchor="middle" fill="#333" font-weight="normal" stroke="#333" stroke-width="0.14">0.1</text>
<text x="474.20" y="139.30" font-size="4.80" text-anchor="middle" fill="#333" font-weight="normal" stroke="#333" stroke-width="0.14">(14390)</text>
<text x="497.20" y="133.00" font-size="4.80" text-anchor="middle" fill="#333" font-weight="normal" stroke="#333" stroke-width="0.14">0.2</text>
<text x="497.20" y="139.30" font-size="4.80" text-anchor="middle" fill="#333" font-weight="normal" stroke="#333" stroke-width="0.14">(14152)</text>
<text x="520.20" y="133.00" font-size="4.80" text-anchor="middle" fill="#333" font-weight="normal" stroke="#333" stroke-width="0.14">0.3</text>
<text x="520.20" y="139.30" font-size="4.80" text-anchor="middle" fill="#333" font-weight="normal" stroke="#333" stroke-width="0.14">(13722)</text>
<text x="543.20" y="133.00" font-size="4.80" text-anchor="middle" fill="#333" font-weight="normal" stroke="#333" stroke-width="0.14">0.4</text>
<text x="543.20" y="139.30" font-size="4.80" text-anchor="middle" fill="#333" font-weight="normal" stroke="#333" stroke-width="0.14">(12383)</text>
<text x="566.20" y="133.00" font-size="4.80" text-anchor="middle" fill="#333" font-weight="normal" stroke="#333" stroke-width="0.14">0.5</text>
<text x="566.20" y="139.30" font-size="4.80" text-anchor="middle" fill="#333" font-weight="normal" stroke="#333" stroke-width="0.14">(10669)</text>
<text x="589.20" y="133.00" font-size="4.80" text-anchor="middle" fill="#333" font-weight="normal" stroke="#333" stroke-width="0.14">0.6</text>
<text x="589.20" y="139.30" font-size="4.80" text-anchor="middle" fill="#333" font-weight="normal" stroke="#333" stroke-width="0.14">(8705)</text>
<text x="612.20" y="133.00" font-size="4.80" text-anchor="middle" fill="#333" font-weight="normal" stroke="#333" stroke-width="0.14">0.7</text>
<text x="612.20" y="139.30" font-size="4.80" text-anchor="middle" fill="#333" font-weight="normal" stroke="#333" stroke-width="0.14">(6776)</text>
<text x="635.20" y="133.00" font-size="4.80" text-anchor="middle" fill="#333" font-weight="normal" stroke="#333" stroke-width="0.14">0.8</text>
<text x="635.20" y="139.30" font-size="4.80" text-anchor="middle" fill="#333" font-weight="normal" stroke="#333" stroke-width="0.14">(4662)</text>
<text x="658.20" y="133.00" font-size="4.80" text-anchor="middle" fill="#333" font-weight="normal" stroke="#333" stroke-width="0.14">0.9</text>
<text x="658.20" y="139.30" font-size="4.80" text-anchor="middle" fill="#333" font-weight="normal" stroke="#333" stroke-width="0.14">(2417)</text>
<text x="522.30" y="148.10" font-size="4.87" text-anchor="start" fill="#333" font-weight="normal" stroke="#333" stroke-width="0.14">RSEM percentile (# of genes considered)</text>
<line x1="474.20" y1="142.30" x2="474.20" y2="160.50" stroke="#555" stroke-width="0.45"/>
<line x1="497.20" y1="142.30" x2="497.20" y2="160.50" stroke="#555" stroke-width="0.45"/>
<line x1="520.20" y1="142.30" x2="520.20" y2="160.50" stroke="#555" stroke-width="0.45"/>
<line x1="612.20" y1="142.30" x2="612.20" y2="160.50" stroke="#555" stroke-width="0.45"/>
<line x1="635.20" y1="142.30" x2="635.20" y2="160.50" stroke="#555" stroke-width="0.45"/>
<line x1="658.20" y1="142.30" x2="658.20" y2="160.50" stroke="#555" stroke-width="0.45"/>
<line x1="462.60" y1="164.50" x2="669.90" y2="164.50" stroke="#777" stroke-width="0.60"/>
<line x1="462.60" y1="172.50" x2="669.90" y2="172.50" stroke="#444" stroke-width="0.55" stroke-dasharray="2.0,1.3"/>
<line x1="462.60" y1="180.40" x2="669.90" y2="180.40" stroke="#444" stroke-width="0.55" stroke-dasharray="2.0,1.3"/>
<line x1="462.60" y1="188.30" x2="669.90" y2="188.30" stroke="#f07070" stroke-width="0.50" stroke-dasharray="2.0,1.3"/>
<line x1="462.60" y1="196.20" x2="669.90" y2="196.20" stroke="#777" stroke-width="0.60"/>
<text transform="translate(458.8,164.50) rotate(-90)" font-size="4.2" text-anchor="middle" fill="#444">30</text>
<text transform="translate(458.8,172.50) rotate(-90)" font-size="4.2" text-anchor="middle" fill="#444">10</text>
<text transform="translate(458.8,180.40) rotate(-90)" font-size="4.2" text-anchor="middle" fill="#444">3</text>
<text transform="translate(458.8,188.30) rotate(-90)" font-size="4.2" text-anchor="middle" fill="#444">1</text>
<text transform="translate(458.8,196.20) rotate(-90)" font-size="4.2" text-anchor="middle" fill="#444">0</text>
<text transform="translate(451.4,180.4) rotate(-90)" font-size="4.8" text-anchor="middle" fill="#222">-log10(p-value)</text>
<polygon points="471.70,193.42 469.65,196.78 473.75,196.78" fill="#7d6d10"/>
<polygon points="471.70,189.62 469.65,192.98 473.75,192.98" fill="#eda86a"/>
<polygon points="471.70,181.72 469.65,185.08 473.75,185.08" fill="#5a8a6e"/>
<polygon points="471.70,168.62 469.65,171.98 473.75,171.98" fill="#f3424f"/>
<rect x="474.65" y="188.25" width="3.30" height="3.30" fill="#7d6d10"/>
<rect x="474.65" y="184.75" width="3.30" height="3.30" fill="#5a8a6e"/>
<rect x="474.65" y="170.05" width="3.30" height="3.30" fill="#cc5a28"/>
<rect x="474.65" y="162.85" width="3.30" height="3.30" fill="#f3424f"/>
<polygon points="494.70,193.42 492.65,196.78 496.75,196.78" fill="#7d6d10"/>
<polygon points="494.70,189.62 492.65,192.98 496.75,192.98" fill="#eda86a"/>
<polygon points="494.70,181.72 492.65,185.08 496.75,185.08" fill="#5a8a6e"/>
<polygon points="494.70,168.62 492.65,171.98 496.75,171.98" fill="#f3424f"/>
<rect x="497.65" y="188.25" width="3.30" height="3.30" fill="#7d6d10"/>
<rect x="497.65" y="184.75" width="3.30" height="3.30" fill="#5a8a6e"/>
<rect x="497.65" y="170.05" width="3.30" height="3.30" fill="#cc5a28"/>
<rect x="497.65" y="162.85" width="3.30" height="3.30" fill="#f3424f"/>
<polygon points="517.70,193.42 515.65,196.78 519.75,196.78" fill="#7d6d10"/>
<polygon points="517.70,188.32 515.65,191.68 519.75,191.68" fill="#eda86a"/>
<polygon points="517.70,183.52 515.65,186.88 519.75,186.88" fill="#5a8a6e"/>
<polygon points="517.70,168.62 515.65,171.98 519.75,171.98" fill="#f3424f"/>
<rect x="520.65" y="188.75" width="3.30" height="3.30" fill="#7d6d10"/>
<rect x="520.65" y="182.95" width="3.30" height="3.30" fill="#5a8a6e"/>
<rect x="520.65" y="170.05" width="3.30" height="3.30" fill="#cc5a28"/>
<rect x="520.65" y="162.85" width="3.30" height="3.30" fill="#f3424f"/>
<polygon points="540.70,193.42 538.65,196.78 542.75,196.78" fill="#7d6d10"/>
<polygon points="540.70,189.12 538.65,192.48 542.75,192.48" fill="#eda86a"/>
<polygon points="540.70,183.52 538.65,186.88 542.75,186.88" fill="#5a8a6e"/>
<polygon points="540.70,168.62 538.65,171.98 542.75,171.98" fill="#f3424f"/>
<rect x="543.65" y="189.15" width="3.30" height="3.30" fill="#7d6d10"/>
<rect x="543.65" y="183.55" width="3.30" height="3.30" fill="#5a8a6e"/>
<rect x="543.65" y="170.05" width="3.30" height="3.30" fill="#cc5a28"/>
<rect x="543.65" y="162.85" width="3.30" height="3.30" fill="#f3424f"/>
<polygon points="563.70,192.32 561.65,195.68 565.75,195.68" fill="#7d6d10"/>
<polygon points="563.70,190.82 561.65,194.18 565.75,194.18" fill="#eda86a"/>
<polygon points="563.70,181.32 561.65,184.68 565.75,184.68" fill="#5a8a6e"/>
<polygon points="563.70,168.62 561.65,171.98 565.75,171.98" fill="#f3424f"/>
<rect x="566.65" y="189.35" width="3.30" height="3.30" fill="#7d6d10"/>
<rect x="566.65" y="184.35" width="3.30" height="3.30" fill="#5a8a6e"/>
<rect x="566.65" y="170.05" width="3.30" height="3.30" fill="#cc5a28"/>
<rect x="566.65" y="162.85" width="3.30" height="3.30" fill="#f3424f"/>
<polygon points="586.70,193.62 584.65,196.98 588.75,196.98" fill="#7d6d10"/>
<polygon points="586.70,189.82 584.65,193.18 588.75,193.18" fill="#eda86a"/>
<polygon points="586.70,185.22 584.65,188.58 588.75,188.58" fill="#5a8a6e"/>
<polygon points="586.70,168.62 584.65,171.98 588.75,171.98" fill="#f3424f"/>
<rect x="589.65" y="188.75" width="3.30" height="3.30" fill="#7d6d10"/>
<rect x="589.65" y="183.95" width="3.30" height="3.30" fill="#5a8a6e"/>
<rect x="589.65" y="170.45" width="3.30" height="3.30" fill="#cc5a28"/>
<rect x="589.65" y="162.85" width="3.30" height="3.30" fill="#f3424f"/>
<polygon points="609.70,193.32 607.65,196.68 611.75,196.68" fill="#7d6d10"/>
<polygon points="609.70,191.32 607.65,194.68 611.75,194.68" fill="#eda86a"/>
<polygon points="609.70,185.32 607.65,188.68 611.75,188.68" fill="#5a8a6e"/>
<polygon points="609.70,168.62 607.65,171.98 611.75,171.98" fill="#f3424f"/>
<rect x="612.65" y="194.55" width="3.30" height="3.30" fill="#7d6d10"/>
<rect x="612.65" y="184.75" width="3.30" height="3.30" fill="#5a8a6e"/>
<rect x="612.65" y="182.05" width="3.30" height="3.30" fill="#eda86a"/>
<rect x="612.65" y="170.45" width="3.30" height="3.30" fill="#cc5a28"/>
<rect x="612.65" y="162.85" width="3.30" height="3.30" fill="#f3424f"/>
<polygon points="632.70,192.32 630.65,195.68 634.75,195.68" fill="#7d6d10"/>
<polygon points="632.70,194.82 630.65,198.18 634.75,198.18" fill="#eda86a"/>
<polygon points="632.70,187.32 630.65,190.68 634.75,190.68" fill="#5a8a6e"/>
<polygon points="632.70,168.62 630.65,171.98 634.75,171.98" fill="#f3424f"/>
<rect x="635.65" y="193.35" width="3.30" height="3.30" fill="#7d6d10"/>
<rect x="635.65" y="187.65" width="3.30" height="3.30" fill="#5a8a6e"/>
<rect x="635.65" y="182.85" width="3.30" height="3.30" fill="#eda86a"/>
<rect x="635.65" y="169.55" width="3.30" height="3.30" fill="#cc5a28"/>
<rect x="635.65" y="165.15" width="3.30" height="3.30" fill="#f3424f"/>
<polygon points="655.70,191.32 653.65,194.68 657.75,194.68" fill="#7d6d10"/>
<polygon points="655.70,194.82 653.65,198.18 657.75,198.18" fill="#eda86a"/>
<polygon points="655.70,189.22 653.65,192.58 657.75,192.58" fill="#5a8a6e"/>
<polygon points="655.70,170.02 653.65,173.38 657.75,173.38" fill="#f3424f"/>
<rect x="658.65" y="192.95" width="3.30" height="3.30" fill="#7d6d10"/>
<rect x="658.65" y="188.75" width="3.30" height="3.30" fill="#5a8a6e"/>
<rect x="658.65" y="184.95" width="3.30" height="3.30" fill="#eda86a"/>
<rect x="658.65" y="168.85" width="3.30" height="3.30" fill="#cc5a28"/>
<rect x="658.65" y="166.75" width="3.30" height="3.30" fill="#f3424f"/>
<polygon points="474.10,200.78 472.00,204.22 476.20,204.22" fill="#111"/>
<text x="477.60" y="203.90" font-size="5.00" text-anchor="start" fill="#999" font-weight="normal" font-family="Liberation Serif" stroke="#999" stroke-width="0.14">:</text>
<text x="480.30" y="203.90" font-size="5.07" text-anchor="start" fill="#444" font-weight="normal" font-family="Liberation Serif" stroke="#444" stroke-width="0.14">Global</text>
<rect x="507.00" y="200.80" width="3.00" height="3.00" fill="#111"/>
<text x="513.10" y="203.90" font-size="5.00" text-anchor="start" fill="#999" font-weight="normal" font-family="Liberation Serif" stroke="#999" stroke-width="0.14">:</text>
<text x="515.70" y="203.90" font-size="4.85" text-anchor="start" fill="#444" font-weight="normal" font-family="Liberation Serif" stroke="#444" stroke-width="0.14">Local</text>
<text x="450.10" y="228.00" font-size="5.30" text-anchor="start" fill="#111" font-weight="bold">Mutations</text>
<rect x="450.50" y="230.90" width="5.60" height="4.00" fill="#f3424f"/>
<text x="461.70" y="234.53" font-size="4.80" text-anchor="start" fill="#333" font-weight="normal" stroke="#333" stroke-width="0.14">Splice_site</text>
<rect x="450.50" y="236.65" width="5.60" height="4.00" fill="#eda86a"/>
<text x="461.70" y="240.28" font-size="4.80" text-anchor="start" fill="#333" font-weight="normal" stroke="#333" stroke-width="0.14">Frameshift</text>
<rect x="450.50" y="242.40" width="5.60" height="4.00" fill="#cc5a28"/>
<text x="461.70" y="246.03" font-size="4.80" text-anchor="start" fill="#333" font-weight="normal" stroke="#333" stroke-width="0.14">In-frame indel</text>
<rect x="450.50" y="248.15" width="5.60" height="4.00" fill="#5a8a6e"/>
<text x="461.70" y="251.78" font-size="4.80" text-anchor="start" fill="#333" font-weight="normal" stroke="#333" stroke-width="0.14">Nonsense</text>
<rect x="450.50" y="253.90" width="5.60" height="4.00" fill="#7d6d10"/>
<text x="461.70" y="257.53" font-size="4.80" text-anchor="start" fill="#333" font-weight="normal" stroke="#333" stroke-width="0.14">Missense</text>
<rect x="450.50" y="259.65" width="5.60" height="4.00" fill="#c8c48c"/>
<text x="461.70" y="263.28" font-size="4.80" text-anchor="start" fill="#333" font-weight="normal" stroke="#333" stroke-width="0.14">Silent</text>
<text x="508.00" y="228.00" font-size="5.30" text-anchor="start" fill="#111" font-weight="bold">Shape changes</text>
<rect x="508.40" y="230.90" width="5.60" height="4.00" fill="#e2001a"/>
<text x="519.60" y="234.74" font-size="5.40" text-anchor="start" fill="#333" font-weight="normal" stroke="#333" stroke-width="0.14">Global</text>
<rect x="508.40" y="236.65" width="5.60" height="4.00" fill="#2e6db4"/>
<text x="519.60" y="240.49" font-size="5.40" text-anchor="start" fill="#333" font-weight="normal" stroke="#333" stroke-width="0.14">Local</text>
<text x="566.00" y="228.00" font-size="5.30" text-anchor="start" fill="#111" font-weight="bold">HPV status</text>
<rect x="566.40" y="230.90" width="5.60" height="4.00" fill="#000"/>
<text x="577.60" y="234.82" font-size="5.60" text-anchor="start" fill="#333" font-weight="normal" stroke="#333" stroke-width="0.14">Positive</text>
<rect x="566.40" y="236.65" width="5.60" height="4.00" fill="#aaa"/>
<text x="577.60" y="240.57" font-size="5.60" text-anchor="start" fill="#333" font-weight="normal" stroke="#333" stroke-width="0.14">Negative</text>
<text x="623.80" y="228.00" font-size="5.30" text-anchor="start" fill="#111" font-weight="bold">Anatomic site</text>
<rect x="624.20" y="230.90" width="5.60" height="4.00" fill="#4fb88f"/>
<text x="635.40" y="234.74" font-size="5.40" text-anchor="start" fill="#333" font-weight="normal" stroke="#333" stroke-width="0.14">Oral tongue</text>
<rect x="624.20" y="236.65" width="5.60" height="4.00" fill="#f47a4a"/>
<text x="635.40" y="240.49" font-size="5.40" text-anchor="start" fill="#333" font-weight="normal" stroke="#333" stroke-width="0.14">Larynx</text>
<rect x="624.20" y="242.40" width="5.60" height="4.00" fill="#7f8cc8"/>
<text x="635.40" y="246.24" font-size="5.40" text-anchor="start" fill="#333" font-weight="normal" stroke="#333" stroke-width="0.14">Hypopharynx</text>
<rect x="624.20" y="248.15" width="5.60" height="4.00" fill="#dc6cc0"/>
<text x="635.40" y="251.99" font-size="5.40" text-anchor="start" fill="#333" font-weight="normal" stroke="#333" stroke-width="0.14">Oropharynx</text>
<rect x="624.20" y="253.90" width="5.60" height="4.00" fill="#86c742"/>
<text x="635.40" y="257.74" font-size="5.40" text-anchor="start" fill="#333" font-weight="normal" stroke="#333" stroke-width="0.14">Tonsil</text>
<rect x="624.20" y="259.65" width="5.60" height="4.00" fill="#fdcb2f"/>
<text x="635.40" y="263.49" font-size="5.40" text-anchor="start" fill="#333" font-weight="normal" stroke="#333" stroke-width="0.14">Other</text>
<text x="-0.90" y="312.10" font-size="12.00" text-anchor="start" fill="#000" font-weight="bold" stroke="#000" stroke-width="0.45">d</text>
<text x="103.40" y="312.40" font-size="8.02" text-anchor="middle" fill="#231f20" font-weight="normal" textLength="11.15" lengthAdjust="spacingAndGlyphs" stroke="#231f20" stroke-width="0.14">LSS</text>
<rect x="10.10" y="316.90" width="7.50" height="51.50" fill="#fae2bc"/>
<rect x="22.05" y="316.90" width="2.50" height="51.50" fill="#fae2bc"/>
<rect x="28.90" y="316.90" width="2.20" height="51.50" fill="#fae2bc"/>
<rect x="35.40" y="316.90" width="2.40" height="51.50" fill="#fae2bc"/>
<rect x="42.00" y="316.90" width="2.20" height="51.50" fill="#fae2bc"/>
<rect x="48.60" y="316.90" width="2.40" height="51.50" fill="#fae2bc"/>
<rect x="55.90" y="316.90" width="2.20" height="51.50" fill="#fae2bc"/>
<rect x="62.25" y="316.90" width="2.50" height="51.50" fill="#fae2bc"/>
<rect x="68.90" y="316.90" width="2.20" height="51.50" fill="#fae2bc"/>
<rect x="74.70" y="316.90" width="1.40" height="51.50" fill="#feeedd"/>
<rect x="79.90" y="316.90" width="1.80" height="51.50" fill="#fae2bc"/>
<rect x="85.70" y="316.90" width="1.80" height="51.50" fill="#fae2bc"/>
<rect x="91.40" y="316.90" width="2.00" height="51.50" fill="#fae2bc"/>
<rect x="96.95" y="316.90" width="3.10" height="51.50" fill="#fae2bc"/>
<rect x="104.40" y="316.90" width="2.00" height="51.50" fill="#fae2bc"/>
<rect x="110.80" y="316.90" width="1.80" height="51.50" fill="#fae2bc"/>
<rect x="117.05" y="316.90" width="1.70" height="51.50" fill="#fae2bc"/>
<rect x="122.80" y="316.90" width="1.80" height="51.50" fill="#fae2bc"/>
<rect x="129.00" y="316.90" width="3.00" height="51.50" fill="#fae2bc"/>
<rect x="136.45" y="316.90" width="1.70" height="51.50" fill="#fae2bc"/>
<rect x="142.70" y="316.90" width="41.50" height="51.50" fill="#a3dcc0"/>
<rect x="188.50" y="316.90" width="7.60" height="51.50" fill="#fae2bc"/>
<text transform="translate(8.00,325.10) rotate(-90)" font-size="3.40" text-anchor="middle" fill="#555">500</text>
<text transform="translate(8.00,348.60) rotate(-90)" font-size="3.40" text-anchor="middle" fill="#555">50</text>
<text transform="translate(8.00,356.20) rotate(-90)" font-size="3.40" text-anchor="middle" fill="#555">20</text>
<text transform="translate(8.00,362.60) rotate(-90)" font-size="3.40" text-anchor="middle" fill="#555">7</text>
<text transform="translate(8.00,368.10) rotate(-90)" font-size="3.40" text-anchor="middle" fill="#555">0</text>
<text x="148.20" y="326.80" font-size="6.71" text-anchor="start" fill="#222" font-weight="normal" textLength="44.75" lengthAdjust="spacingAndGlyphs" stroke="#222" stroke-width="0.14">TCGA-BA-A8YP</text>
<polyline points="10.50,368.40 10.85,351.33 11.30,352.23 11.90,352.16 12.50,351.97 13.10,351.66 13.70,352.35 14.30,352.37 14.90,352.01 15.50,352.01 16.10,351.68 16.70,351.40 17.30,351.74 17.60,368.40 21.75,368.40 22.10,347.17 22.55,346.48 23.15,347.35 23.75,346.68 24.55,346.47 24.85,368.40 28.60,368.40 28.95,345.08 29.40,346.60 30.00,346.29 30.60,346.45 31.10,346.23 31.40,368.40 35.10,368.40 35.45,344.57 35.90,345.29 36.50,345.50 37.10,345.04 37.80,346.40 38.10,368.40 41.70,368.40 42.05,345.74 42.50,345.59 43.10,346.38 43.70,345.55 44.20,346.86 44.50,368.40 48.30,368.40 48.65,345.41 49.10,345.56 49.70,345.31 50.30,345.48 51.00,344.87 51.30,368.40 55.60,368.40 55.95,344.07 56.40,345.44 57.00,344.68 57.60,345.34 58.10,344.42 58.40,368.40 61.95,368.40 62.30,344.94 62.75,344.47 63.35,344.31 63.95,344.32 64.75,344.16 65.05,368.40 68.60,368.40 68.95,344.46 69.40,343.55 70.00,343.97 70.60,344.39 71.10,343.40 71.40,368.40 79.60,368.40 79.95,344.85 80.40,344.47 81.00,343.89 81.70,343.73 82.00,368.40 85.40,368.40 85.75,343.90 86.20,343.86 86.80,344.59 87.50,343.77 87.80,368.40 91.10,368.40 91.45,343.05 91.90,343.51 92.50,344.26 93.10,344.59 93.40,343.99 93.70,368.40 96.65,368.40 97.00,342.48 97.45,342.56 98.05,342.80 98.65,342.17 99.25,342.63 99.85,342.57 100.05,342.75 100.35,368.40 104.10,368.40 104.45,341.66 104.90,341.90 105.50,342.12 106.10,342.81 106.40,341.99 106.70,368.40 110.50,368.40 110.85,343.19 111.30,342.77 111.90,342.52 112.60,342.13 112.90,368.40 116.75,368.40 117.10,344.63 117.55,344.33 118.15,343.85 118.75,344.37 119.05,368.40 122.50,368.40 122.85,343.35 123.30,343.48 123.90,343.55 124.60,342.81 124.90,368.40 128.70,368.40 129.05,339.98 129.50,339.55 130.10,339.11 130.70,339.46 131.30,338.99 132.00,338.75 132.30,368.40 136.15,368.40 136.50,337.99 136.95,338.95 137.55,338.09 138.15,337.64 138.45,368.40" fill="none" stroke="#a9a9a9" stroke-width="0.60" stroke-linejoin="round"/>
<polyline points="142.80,368.00 143.20,342.00 146.00,348.34 146.70,348.03 147.40,346.58 148.10,347.96 148.80,344.33 149.50,345.06 150.20,345.03 150.90,345.42 151.60,344.15 152.30,343.53 153.00,344.54 153.70,346.83 154.40,347.03 155.10,345.81 155.80,344.46 156.50,343.28 157.20,346.22 157.90,344.14 158.60,344.86 159.30,341.60 160.00,342.23 160.70,344.81 161.40,344.45 162.10,344.65 162.80,343.25 163.50,342.30 164.20,342.81 164.90,343.81 165.60,341.26 166.30,342.08 167.00,340.76 167.70,342.76 168.40,339.25 169.10,342.04 170.40,338.00 176.00,336.50 181.50,338.00 183.50,352.00 184.50,368.00" fill="none" stroke="#b0a8a8" stroke-width="0.60" stroke-linejoin="round"/>
<polyline points="21.75,368.40 22.10,338.91 22.55,337.43 23.15,338.11 23.75,338.17 24.55,338.70 24.85,368.40 28.60,368.40 28.95,337.17 29.40,336.71 30.00,336.89 30.60,337.55 31.10,337.81 31.40,368.40 35.10,368.40 35.45,335.77 35.90,336.01 36.50,336.01 37.10,335.93 37.80,336.39 38.10,368.40 41.70,368.40 42.05,336.28 42.50,337.44 43.10,337.19 43.70,336.55 44.20,337.08 44.50,368.40 48.30,368.40 48.65,336.15 49.10,336.49 49.70,336.16 50.30,336.10 51.00,335.87 51.30,368.40 55.60,368.40 55.95,335.76 56.40,336.25 57.00,336.06 57.60,335.46 58.10,336.42 58.40,368.40 61.95,368.40 62.30,335.75 62.75,335.33 63.35,335.35 63.95,334.41 64.75,334.93 65.05,368.40 68.60,368.40 68.95,334.13 69.40,335.32 70.00,334.61 70.60,335.25 71.10,334.51 71.40,368.40 79.60,368.40 79.95,335.39 80.40,334.78 81.00,334.45 81.70,334.78 82.00,368.40 85.40,368.40 85.75,334.62 86.20,335.48 86.80,334.75 87.50,335.01 87.80,368.40 91.10,368.40 91.45,335.10 91.90,335.54 92.50,334.52 93.10,335.12 93.40,335.02 93.70,368.40 96.65,368.40 97.00,333.97 97.45,334.06 98.05,333.27 98.65,333.74 99.25,333.53 99.85,333.57 100.05,332.63 100.35,368.40 104.10,368.40 104.45,333.93 104.90,333.87 105.50,333.13 106.10,333.08 106.40,334.29 106.70,368.40 110.50,368.40 110.85,333.22 111.30,333.49 111.90,333.49 112.60,334.63 112.90,368.40 116.75,368.40 117.10,335.52 117.55,334.94 118.15,335.15 118.75,334.04 119.05,368.40 122.50,368.40 122.85,334.29 123.30,333.93 123.90,334.02 124.60,333.78 124.90,368.40 136.15,368.40 136.50,329.30 136.95,329.17 137.55,328.96 138.15,329.37 138.45,368.40" fill="none" stroke="#111" stroke-width="1.10" stroke-linejoin="round"/>
<polyline points="74.80,368.00 75.00,337.40 75.40,338.00 75.60,368.00" fill="none" stroke="#111" stroke-width="0.90" stroke-linejoin="round"/>
<polyline points="128.80,368.00 129.10,331.00 130.50,329.60 131.90,331.00 132.60,345.00 133.50,352.60 135.00,350.00 135.90,336.00 136.30,368.00" fill="none" stroke="#111" stroke-width="1.00" stroke-linejoin="round"/>
<polyline points="10.00,368.00 11.20,344.00 12.30,361.00 14.20,358.00 15.00,341.50 17.60,341.00 18.20,368.00" fill="none" stroke="#111" stroke-width="1.00" stroke-linejoin="round"/>
<polyline points="76.50,363.29 77.00,365.48 77.50,366.02 78.00,365.57 78.50,364.29 79.00,363.23 79.50,363.95" fill="none" stroke="#111" stroke-width="0.80" stroke-linejoin="round"/>
<polyline points="82.00,364.44 82.50,365.13 83.00,366.72 83.50,362.51 84.00,364.40 84.50,364.46 85.00,365.54" fill="none" stroke="#111" stroke-width="0.80" stroke-linejoin="round"/>
<polyline points="88.00,366.37 88.50,365.84 89.00,365.11 89.50,365.74 90.00,365.31 90.50,366.22 91.00,365.46" fill="none" stroke="#111" stroke-width="0.80" stroke-linejoin="round"/>
<polyline points="100.50,365.38 101.00,363.28 101.50,366.50 102.00,363.95 102.50,365.05 103.00,366.06 103.50,366.73" fill="none" stroke="#111" stroke-width="0.80" stroke-linejoin="round"/>
<polyline points="107.00,366.85 107.50,362.13 108.00,363.60 108.50,363.60 109.00,363.98 109.50,362.80 110.00,364.76 110.50,362.48" fill="none" stroke="#111" stroke-width="0.80" stroke-linejoin="round"/>
<polyline points="119.20,363.55 119.70,366.63 120.20,365.66 120.70,364.32 121.20,362.62 121.70,366.69 122.20,365.48" fill="none" stroke="#111" stroke-width="0.80" stroke-linejoin="round"/>
<polyline points="125.00,363.09 125.50,363.71 126.00,365.18 126.50,365.37 127.00,363.35 127.50,366.67 128.00,363.65" fill="none" stroke="#111" stroke-width="0.80" stroke-linejoin="round"/>
<polyline points="142.80,368.00 143.20,330.50 146.30,330.80 148.10,368.00 170.40,368.00 171.20,331.60 174.00,330.50 178.00,329.20 181.50,332.00 182.60,346.80 184.00,368.00" fill="none" stroke="#111" stroke-width="1.00" stroke-linejoin="round"/>
<polyline points="184.00,368.00 188.50,367.60 188.60,362.91 189.10,364.57 189.60,362.63 190.10,364.11 190.60,362.76 191.10,363.87 191.60,362.98 192.10,363.26 192.60,364.83 193.10,363.51 193.60,363.42 194.10,363.93 194.60,362.99 195.10,362.69 195.60,363.28" fill="none" stroke="#111" stroke-width="0.80" stroke-linejoin="round"/>
<line x1="128.50" y1="368.60" x2="50.50" y2="381.30" stroke="#999" stroke-width="0.40" stroke-dasharray="1.6,1.1"/>
<line x1="188.30" y1="369.00" x2="193.30" y2="386.00" stroke="#999" stroke-width="0.40" stroke-dasharray="1.6,1.1"/>
<rect x="12.70" y="386.70" width="180.60" height="86.90" fill="#f7f8fa"/>
<path d="M12.70 399.75H22.20M12.70 401.00H22.20M12.70 402.25H22.20M12.70 403.50H22.20M12.70 404.75H22.20M12.70 406.00H22.20M12.70 407.25H22.20M12.70 408.50H22.20M12.70 409.75H22.20M12.70 411.00H22.20M12.70 412.25H22.20M12.70 413.50H22.20M12.70 414.75H22.20M12.70 416.00H22.20M12.70 417.25H22.20M12.70 418.50H22.20M12.70 419.75H22.20M12.70 421.00H22.20M12.70 422.25H22.20M12.70 423.50H22.20M12.70 424.75H22.20M12.70 426.00H22.20M12.70 427.25H22.20M12.70 428.50H22.20M12.70 429.75H22.20M12.70 431.00H22.20M12.70 432.25H22.20M12.70 433.50H22.20M12.70 434.75H22.20M12.70 436.00H22.20M12.70 437.25H22.20M12.70 438.50H22.20M12.70 439.75H22.20M12.70 441.00H22.20M12.70 442.25H22.20M12.70 443.50H22.20M12.70 444.75H22.20M12.70 446.00H22.20M12.70 447.25H22.20M12.70 448.50H22.20M12.70 449.75H22.20M12.70 451.00H22.20M12.70 452.25H22.20M12.70 453.50H22.20M12.70 454.75H22.20M12.70 456.00H22.20M12.70 457.25H22.20M12.70 458.50H22.20M12.70 459.75H22.20M12.70 461.00H22.20M12.70 462.25H22.20M12.70 463.50H22.20M12.70 464.75H22.20M12.70 466.00H22.20M12.70 467.25H22.20M12.70 468.50H22.20M12.70 469.75H22.20M12.70 471.00H22.20M12.70 472.25H22.20M12.70 473.50H22.20" stroke="#dfe6ee" stroke-width="0.3" fill="none"/>
<path d="M22.2 398 L22.2 389.5 L25 388.6 L27 389.3 L29 388.2 L31 389.8 L33 389 L35 390.6 L37 391.6 L39 390.2 L41 390.8 L43 392.5 L43 398 Z" fill="#a6a6a6"/>
<path d="M129.3 398 L129.3 394 L131 392 L134 390.5 L137 389.5 L139.4 388.9 L142 390 L146 389.3 L150 390.5 L154 389.8 L158 390.6 L162 389.5 L166 390.2 L170 389.4 L171.7 390 L174 391.5 L177 393 L179 394.5 L181.7 396 L182.5 397 L182.5 398 Z" fill="#a6a6a6"/>
<line x1="12.70" y1="398.20" x2="193.30" y2="398.20" stroke="#d8d8d8" stroke-width="0.50"/>
<rect x="22.20" y="398.50" width="21.00" height="75.10" fill="#cfcfcf"/>
<path d="M22.20 400.60H43.20M22.20 402.70H43.20M22.20 404.80H43.20M22.20 406.90H43.20M22.20 409.00H43.20M22.20 411.10H43.20M22.20 413.20H43.20M22.20 415.30H43.20M22.20 417.40H43.20M22.20 419.50H43.20M22.20 421.60H43.20M22.20 423.70H43.20M22.20 425.80H43.20M22.20 427.90H43.20M22.20 430.00H43.20M22.20 432.10H43.20M22.20 434.20H43.20M22.20 436.30H43.20M22.20 438.40H43.20M22.20 440.50H43.20M22.20 442.60H43.20M22.20 444.70H43.20M22.20 446.80H43.20M22.20 448.90H43.20M22.20 451.00H43.20M22.20 453.10H43.20M22.20 455.20H43.20M22.20 457.30H43.20M22.20 459.40H43.20M22.20 461.50H43.20M22.20 463.60H43.20M22.20 465.70H43.20M22.20 467.80H43.20M22.20 469.90H43.20M22.20 472.00H43.20" stroke="#f6f6f6" stroke-width="0.55" fill="none"/>
<path d="M26.11 398.80V400.60M32.80 398.80V400.60M24.44 400.90V402.70M36.73 400.90V402.70M29.13 403.00V404.80M34.30 403.00V404.80M24.47 405.10V406.90M34.95 405.10V406.90M25.88 407.20V409.00M30.95 407.20V409.00M40.85 407.20V409.00M26.36 409.30V411.10M35.45 409.30V411.10M26.79 411.40V413.20M33.00 411.40V413.20M29.96 413.50V415.30M39.72 413.50V415.30M25.51 415.60V417.40M34.14 415.60V417.40M25.78 417.70V419.50M38.00 417.70V419.50M30.68 419.80V421.60M24.32 421.90V423.70M34.56 421.90V423.70M40.29 421.90V423.70M29.43 424.00V425.80M41.26 424.00V425.80M24.62 426.10V427.90M36.95 426.10V427.90M28.54 428.20V430.00M37.78 428.20V430.00M26.57 430.30V432.10M33.99 430.30V432.10M42.17 430.30V432.10M28.59 432.40V434.20M41.60 432.40V434.20M24.67 434.50V436.30M34.28 434.50V436.30M25.53 436.60V438.40M32.96 436.60V438.40M38.49 436.60V438.40M27.67 438.70V440.50M38.79 438.70V440.50M25.31 440.80V442.60M31.24 440.80V442.60M27.97 442.90V444.70M36.65 442.90V444.70M29.29 445.00V446.80M39.02 445.00V446.80M29.99 447.10V448.90M36.91 447.10V448.90M26.67 449.20V451.00M36.46 449.20V451.00M25.42 451.30V453.10M36.81 451.30V453.10M25.33 453.40V455.20M37.99 453.40V455.20M30.54 455.50V457.30M41.66 455.50V457.30M29.64 457.60V459.40M27.93 459.70V461.50M41.11 459.70V461.50M26.93 461.80V463.60M40.41 461.80V463.60M29.76 463.90V465.70M34.86 463.90V465.70M28.50 466.00V467.80M38.96 466.00V467.80M28.73 468.10V469.90M35.18 468.10V469.90M27.95 470.20V472.00M40.89 470.20V472.00" stroke="#f6f6f6" stroke-width="0.5" fill="none"/>
<rect x="129.30" y="398.50" width="53.20" height="75.10" fill="#cfcfcf"/>
<path d="M129.30 400.60H182.50M129.30 402.70H182.50M129.30 404.80H182.50M129.30 406.90H182.50M129.30 409.00H182.50M129.30 411.10H182.50M129.30 413.20H182.50M129.30 415.30H182.50M129.30 417.40H182.50M129.30 419.50H182.50M129.30 421.60H182.50M129.30 423.70H182.50M129.30 425.80H182.50M129.30 427.90H182.50M129.30 430.00H182.50M129.30 432.10H182.50M129.30 434.20H182.50M129.30 436.30H182.50M129.30 438.40H182.50M129.30 440.50H182.50M129.30 442.60H182.50M129.30 444.70H182.50M129.30 446.80H182.50M129.30 448.90H182.50M129.30 451.00H182.50M129.30 453.10H182.50M129.30 455.20H182.50M129.30 457.30H182.50M129.30 459.40H182.50M129.30 461.50H182.50M129.30 463.60H182.50M129.30 465.70H182.50M129.30 467.80H182.50M129.30 469.90H182.50M129.30 472.00H182.50" stroke="#f6f6f6" stroke-width="0.55" fill="none"/>
<path d="M138.29 398.80V400.60M148.28 398.80V400.60M160.26 398.80V400.60M171.92 398.80V400.60M133.84 400.90V402.70M139.58 400.90V402.70M148.23 400.90V402.70M154.84 400.90V402.70M164.70 400.90V402.70M177.03 400.90V402.70M132.22 403.00V404.80M137.46 403.00V404.80M146.27 403.00V404.80M156.49 403.00V404.80M161.73 403.00V404.80M172.72 403.00V404.80M179.61 403.00V404.80M137.79 405.10V406.90M147.50 405.10V406.90M160.56 405.10V406.90M170.18 405.10V406.90M176.29 405.10V406.90M134.27 407.20V409.00M145.04 407.20V409.00M156.98 407.20V409.00M168.74 407.20V409.00M179.59 407.20V409.00M134.31 409.30V411.10M142.71 409.30V411.10M152.12 409.30V411.10M159.51 409.30V411.10M169.35 409.30V411.10M178.48 409.30V411.10M137.06 411.40V413.20M147.34 411.40V413.20M159.56 411.40V413.20M171.19 411.40V413.20M138.25 413.50V415.30M146.65 413.50V415.30M155.19 413.50V415.30M160.22 413.50V415.30M171.20 413.50V415.30M181.43 413.50V415.30M138.28 415.60V417.40M145.06 415.60V417.40M152.10 415.60V417.40M163.71 415.60V417.40M176.02 415.60V417.40M131.68 417.70V419.50M140.02 417.70V419.50M152.46 417.70V419.50M161.95 417.70V419.50M171.11 417.70V419.50M179.61 417.70V419.50M135.49 419.80V421.60M146.73 419.80V421.60M159.51 419.80V421.60M171.28 419.80V421.60M179.65 419.80V421.60M136.77 421.90V423.70M148.91 421.90V423.70M162.26 421.90V423.70M169.05 421.90V423.70M137.53 424.00V425.80M143.23 424.00V425.80M151.00 424.00V425.80M161.70 424.00V425.80M168.02 424.00V425.80M180.50 424.00V425.80M136.08 426.10V427.90M143.74 426.10V427.90M150.70 426.10V427.90M157.57 426.10V427.90M167.04 426.10V427.90M178.46 426.10V427.90M136.10 428.20V430.00M144.12 428.20V430.00M154.96 428.20V430.00M163.28 428.20V430.00M170.02 428.20V430.00M176.29 428.20V430.00M136.17 430.30V432.10M144.90 430.30V432.10M151.01 430.30V432.10M163.93 430.30V432.10M174.82 430.30V432.10M180.02 430.30V432.10M135.46 432.40V434.20M144.46 432.40V434.20M153.96 432.40V434.20M167.62 432.40V434.20M175.99 432.40V434.20M135.75 434.50V436.30M144.04 434.50V436.30M152.16 434.50V436.30M163.95 434.50V436.30M174.68 434.50V436.30M134.90 436.60V438.40M141.91 436.60V438.40M154.01 436.60V438.40M159.19 436.60V438.40M169.98 436.60V438.40M179.07 436.60V438.40M135.41 438.70V440.50M145.65 438.70V440.50M151.44 438.70V440.50M160.85 438.70V440.50M167.33 438.70V440.50M179.52 438.70V440.50M133.60 440.80V442.60M140.54 440.80V442.60M145.97 440.80V442.60M152.65 440.80V442.60M159.02 440.80V442.60M169.63 440.80V442.60M132.85 442.90V444.70M138.85 442.90V444.70M148.66 442.90V444.70M154.70 442.90V444.70M163.35 442.90V444.70M175.20 442.90V444.70M136.20 445.00V446.80M146.05 445.00V446.80M151.81 445.00V446.80M158.99 445.00V446.80M169.39 445.00V446.80M175.25 445.00V446.80M135.34 447.10V448.90M147.70 447.10V448.90M157.38 447.10V448.90M168.36 447.10V448.90M173.44 447.10V448.90M181.16 447.10V448.90M137.69 449.20V451.00M145.91 449.20V451.00M157.97 449.20V451.00M163.28 449.20V451.00M172.77 449.20V451.00M136.70 451.30V453.10M146.92 451.30V453.10M153.56 451.30V453.10M166.89 451.30V453.10M172.61 451.30V453.10M136.73 453.40V455.20M148.21 453.40V455.20M157.99 453.40V455.20M164.46 453.40V455.20M172.53 453.40V455.20M135.89 455.50V457.30M144.40 455.50V457.30M156.61 455.50V457.30M162.09 455.50V457.30M169.67 455.50V457.30M175.49 455.50V457.30M136.85 457.60V459.40M148.63 457.60V459.40M154.98 457.60V459.40M162.75 457.60V459.40M168.76 457.60V459.40M179.72 457.60V459.40M132.92 459.70V461.50M141.29 459.70V461.50M154.08 459.70V461.50M162.90 459.70V461.50M174.12 459.70V461.50M134.62 461.80V463.60M144.62 461.80V463.60M152.90 461.80V463.60M159.68 461.80V463.60M169.13 461.80V463.60M176.87 461.80V463.60M132.61 463.90V465.70M145.83 463.90V465.70M154.66 463.90V465.70M161.46 463.90V465.70M166.74 463.90V465.70M173.67 463.90V465.70M133.66 466.00V467.80M144.66 466.00V467.80M151.74 466.00V467.80M162.59 466.00V467.80M171.64 466.00V467.80M135.00 468.10V469.90M143.38 468.10V469.90M150.90 468.10V469.90M161.25 468.10V469.90M173.73 468.10V469.90M134.66 470.20V472.00M142.62 470.20V472.00M155.64 470.20V472.00M168.26 470.20V472.00M174.57 470.20V472.00" stroke="#f6f6f6" stroke-width="0.5" fill="none"/>
<ellipse cx="37.90" cy="448.66" rx="2.1" ry="0.9" fill="none" stroke="#e26a78" stroke-width="0.4"/>
<ellipse cx="41.36" cy="463.29" rx="2.1" ry="0.9" fill="none" stroke="#e26a78" stroke-width="0.4"/>
<ellipse cx="28.43" cy="471.77" rx="2.1" ry="0.9" fill="none" stroke="#e26a78" stroke-width="0.4"/>
<ellipse cx="29.90" cy="427.35" rx="2.1" ry="0.9" fill="none" stroke="#e26a78" stroke-width="0.4"/>
<ellipse cx="41.58" cy="412.04" rx="2.1" ry="0.9" fill="none" stroke="#e26a78" stroke-width="0.4"/>
<ellipse cx="31.12" cy="445.07" rx="2.1" ry="0.9" fill="none" stroke="#e26a78" stroke-width="0.4"/>
<ellipse cx="28.91" cy="419.23" rx="2.1" ry="0.9" fill="none" stroke="#e26a78" stroke-width="0.4"/>
<ellipse cx="38.30" cy="444.10" rx="2.1" ry="0.9" fill="none" stroke="#e26a78" stroke-width="0.4"/>
<ellipse cx="37.39" cy="456.87" rx="2.1" ry="0.9" fill="none" stroke="#e26a78" stroke-width="0.4"/>
<ellipse cx="39.70" cy="464.34" rx="2.1" ry="0.9" fill="none" stroke="#e26a78" stroke-width="0.4"/>
<ellipse cx="38.82" cy="470.45" rx="2.1" ry="0.9" fill="none" stroke="#e26a78" stroke-width="0.4"/>
<ellipse cx="32.99" cy="450.51" rx="2.1" ry="0.9" fill="none" stroke="#e26a78" stroke-width="0.4"/>
<ellipse cx="33.25" cy="469.79" rx="2.1" ry="0.9" fill="none" stroke="#e26a78" stroke-width="0.4"/>
<ellipse cx="35.79" cy="431.00" rx="2.1" ry="0.9" fill="none" stroke="#e26a78" stroke-width="0.4"/>
<ellipse cx="163.54" cy="408.14" rx="2.1" ry="0.9" fill="none" stroke="#e26a78" stroke-width="0.4"/>
<ellipse cx="137.34" cy="410.98" rx="2.1" ry="0.9" fill="none" stroke="#e26a78" stroke-width="0.4"/>
<ellipse cx="137.71" cy="399.12" rx="2.1" ry="0.9" fill="none" stroke="#e26a78" stroke-width="0.4"/>
<ellipse cx="135.53" cy="413.08" rx="2.1" ry="0.9" fill="none" stroke="#e26a78" stroke-width="0.4"/>
<ellipse cx="168.40" cy="400.50" rx="2.1" ry="0.9" fill="none" stroke="#e26a78" stroke-width="0.4"/>
<ellipse cx="162.20" cy="402.45" rx="2.1" ry="0.9" fill="none" stroke="#e26a78" stroke-width="0.4"/>
<ellipse cx="156.01" cy="408.17" rx="2.1" ry="0.9" fill="none" stroke="#e26a78" stroke-width="0.4"/>
<ellipse cx="152.85" cy="421.07" rx="2.1" ry="0.9" fill="none" stroke="#e26a78" stroke-width="0.4"/>
<ellipse cx="151.26" cy="411.14" rx="2.1" ry="0.9" fill="none" stroke="#e26a78" stroke-width="0.4"/>
<ellipse cx="166.70" cy="402.59" rx="2.1" ry="0.9" fill="none" stroke="#e26a78" stroke-width="0.4"/>
<ellipse cx="148.10" cy="420.76" rx="2.1" ry="0.9" fill="none" stroke="#e26a78" stroke-width="0.4"/>
<ellipse cx="171.91" cy="429.36" rx="2.1" ry="0.9" fill="none" stroke="#e26a78" stroke-width="0.4"/>
<ellipse cx="143.60" cy="418.38" rx="2.1" ry="0.9" fill="none" stroke="#e26a78" stroke-width="0.4"/>
<ellipse cx="146.32" cy="420.76" rx="2.1" ry="0.9" fill="none" stroke="#e26a78" stroke-width="0.4"/>
<ellipse cx="172.46" cy="403.19" rx="2.1" ry="0.9" fill="none" stroke="#e26a78" stroke-width="0.4"/>
<ellipse cx="147.91" cy="428.02" rx="2.1" ry="0.9" fill="none" stroke="#e26a78" stroke-width="0.4"/>
<ellipse cx="148.27" cy="456.55" rx="2.1" ry="0.9" fill="none" stroke="#e26a78" stroke-width="0.4"/>
<ellipse cx="171.11" cy="441.71" rx="2.1" ry="0.9" fill="none" stroke="#e26a78" stroke-width="0.4"/>
<ellipse cx="169.39" cy="430.15" rx="2.1" ry="0.9" fill="none" stroke="#e26a78" stroke-width="0.4"/>
<ellipse cx="147.68" cy="437.01" rx="2.1" ry="0.9" fill="none" stroke="#e26a78" stroke-width="0.4"/>
<ellipse cx="147.95" cy="438.95" rx="2.1" ry="0.9" fill="none" stroke="#e26a78" stroke-width="0.4"/>
<ellipse cx="132.24" cy="463.73" rx="2.1" ry="0.9" fill="none" stroke="#e26a78" stroke-width="0.4"/>
<ellipse cx="139.50" cy="454.07" rx="2.1" ry="0.9" fill="none" stroke="#e26a78" stroke-width="0.4"/>
<ellipse cx="158.15" cy="465.68" rx="2.1" ry="0.9" fill="none" stroke="#e26a78" stroke-width="0.4"/>
<rect x="149.60" y="419.50" width="2.20" height="1.00" fill="#e02020"/>
<rect x="138.20" y="437.40" width="2.20" height="1.00" fill="#e02020"/>
<line x1="43.00" y1="398.50" x2="43.00" y2="473.60" stroke="#e8a0a8" stroke-width="0.30"/>
<line x1="129.50" y1="440.00" x2="129.50" y2="473.60" stroke="#e05060" stroke-width="0.50"/>
<rect x="14.50" y="442.00" width="4.40" height="0.60" fill="#c0c0c0"/>
<rect x="12.70" y="386.70" width="180.60" height="86.90" fill="none" stroke="#4a4a4a" stroke-width="0.7"/>
<line x1="58.70" y1="432.70" x2="112.50" y2="432.70" stroke="#111" stroke-width="0.85"/>
<polygon points="114.50,432.70 110.90,431.00 110.90,434.40" fill="#111"/>
<polygon points="56.70,432.70 60.30,431.00 60.30,434.40" fill="#111"/>
<text x="191.10" y="393.30" font-size="6.40" text-anchor="end" fill="#222" font-weight="normal" stroke="#222" stroke-width="0.14">[0-335]</text>
<text x="34.90" y="383.00" font-size="6.10" text-anchor="middle" fill="#222" font-weight="normal" stroke="#222" stroke-width="0.14">47,611,000</text>
<text x="149.30" y="383.00" font-size="6.10" text-anchor="middle" fill="#222" font-weight="normal" stroke="#222" stroke-width="0.14">47,609,500</text>
<line x1="33.60" y1="378.60" x2="33.60" y2="386.70" stroke="#333" stroke-width="0.55"/>
<line x1="147.40" y1="383.30" x2="147.40" y2="386.70" stroke="#333" stroke-width="0.55"/>
<rect x="12.70" y="474.30" width="180.60" height="8.00" fill="#f1f2f6"/>
<rect x="23.10" y="474.90" width="12.70" height="1.40" fill="#3a3aa8"/>
<rect x="23.10" y="476.90" width="159.40" height="1.40" fill="#3b3fae"/>
<rect x="23.10" y="478.90" width="159.40" height="1.40" fill="#3b3fae"/>
<rect x="23.10" y="480.90" width="159.40" height="1.40" fill="#3b3fae"/>
<line x1="12.70" y1="475.60" x2="23.10" y2="475.60" stroke="#8a90c8" stroke-width="0.35" stroke-dasharray="0.8,0.8"/>
<line x1="12.70" y1="477.60" x2="23.10" y2="477.60" stroke="#8a90c8" stroke-width="0.35" stroke-dasharray="0.8,0.8"/>
<line x1="12.70" y1="479.60" x2="23.10" y2="479.60" stroke="#8a90c8" stroke-width="0.35" stroke-dasharray="0.8,0.8"/>
<line x1="12.70" y1="481.60" x2="23.10" y2="481.60" stroke="#8a90c8" stroke-width="0.35" stroke-dasharray="0.8,0.8"/>
<line x1="35.80" y1="475.60" x2="182.50" y2="475.60" stroke="#b0b4dc" stroke-width="0.30" stroke-dasharray="0.8,1.6"/>
<line x1="12.70" y1="484.40" x2="193.30" y2="484.40" stroke="#e0e0e0" stroke-width="0.40"/>
<text x="100.90" y="492.80" font-size="7.28" text-anchor="middle" fill="#222" font-weight="normal" textLength="38.40" lengthAdjust="spacingAndGlyphs" stroke="#222" stroke-width="0.14">LSS (3’ UTR)</text>
<text x="211.80" y="312.10" font-size="12.00" text-anchor="start" fill="#000" font-weight="bold" stroke="#000" stroke-width="0.45">e</text>
<text x="324.60" y="311.80" font-size="7.46" text-anchor="middle" fill="#231f20" font-weight="normal" textLength="19.20" lengthAdjust="spacingAndGlyphs" stroke="#231f20" stroke-width="0.14">MTAP</text>
<rect x="238.00" y="317.00" width="5.50" height="51.20" fill="#fae2bc"/>
<rect x="255.20" y="317.00" width="1.80" height="51.20" fill="#fae2bc"/>
<rect x="268.10" y="317.00" width="1.20" height="51.20" fill="#fde9d2"/>
<rect x="281.00" y="317.00" width="2.90" height="51.20" fill="#fae2bc"/>
<rect x="295.30" y="317.00" width="2.30" height="51.20" fill="#c0cae3"/>
<rect x="309.00" y="317.00" width="3.90" height="51.20" fill="#c0cae3"/>
<rect x="325.20" y="317.00" width="2.60" height="51.20" fill="#c0cae3"/>
<rect x="339.00" y="317.00" width="69.90" height="51.20" fill="#c0cae3"/>
<rect x="420.80" y="317.00" width="3.10" height="51.20" fill="#c0cae3"/>
<line x1="238.00" y1="368.20" x2="424.00" y2="368.20" stroke="#444" stroke-width="0.50"/>
<text transform="translate(235.30,327.50) rotate(-90)" font-size="3.40" text-anchor="middle" fill="#555">500</text>
<text transform="translate(235.30,349.80) rotate(-90)" font-size="3.40" text-anchor="middle" fill="#555">50</text>
<text transform="translate(235.30,363.20) rotate(-90)" font-size="3.40" text-anchor="middle" fill="#555">7</text>
<text transform="translate(235.30,368.00) rotate(-90)" font-size="3.40" text-anchor="middle" fill="#555">0</text>
<text x="377.50" y="326.60" font-size="6.71" text-anchor="start" fill="#222" font-weight="normal" textLength="43.39" lengthAdjust="spacingAndGlyphs" stroke="#222" stroke-width="0.14">TCGA-CV-A463</text>
<polyline points="337.80,367.50 339.30,340.60 339.80,339.72 340.45,340.60 341.10,342.05 341.75,343.53 342.40,342.34 343.05,342.81 343.70,343.75 344.35,345.98 345.00,344.58 345.65,347.04 346.30,347.34 346.95,346.21 347.60,348.04 348.25,348.32 348.90,348.76 349.55,351.18 350.20,348.84 350.85,349.16 351.50,352.66 352.15,351.50 352.80,351.40 353.45,352.37 354.10,353.04 354.75,355.48 355.40,353.65 356.05,354.22 356.70,355.96 357.35,356.39 358.00,358.24 358.65,358.43 359.30,357.44 359.95,357.51 360.60,360.08 361.25,361.13 361.90,358.61 362.55,360.84 363.20,361.14 363.85,360.32 364.50,358.80 365.15,360.53 365.80,360.18 366.45,358.34 367.10,359.64 367.75,358.16 368.40,357.46 369.05,358.28 369.70,358.14 370.35,358.21 371.00,358.89 371.65,359.36 372.30,359.64 372.95,359.56 373.60,359.48 374.25,358.70 374.90,357.02 375.55,356.48 376.20,357.78 376.85,357.40 377.50,357.69 378.15,355.70 378.80,355.89 379.45,358.09 380.10,356.94 380.75,357.11 381.40,355.06 382.05,355.91 382.70,357.41 383.35,356.45 384.00,357.41 384.65,354.74 385.30,355.44 385.95,356.42 386.60,355.15 387.25,356.12 387.90,355.27 388.55,353.72 389.20,353.53 389.85,356.23 390.50,353.34 391.15,353.45 391.80,353.77 392.45,354.85 393.10,355.17 393.75,353.83 394.40,353.78 395.05,354.58 395.70,352.81 396.35,352.99 397.00,353.63 397.65,353.57 398.30,351.53 398.95,351.64 399.60,351.59 400.25,353.34 400.90,353.11 401.55,353.88 402.20,353.09 402.85,351.32 403.50,352.83 404.15,353.40 405.50,351.00 407.50,352.50 408.80,355.00 410.50,360.00 412.50,362.50 415.00,365.00 418.00,367.80" fill="none" stroke="#b3aca6" stroke-width="0.60" stroke-linejoin="round"/>
<polyline points="295.40,367.50 295.80,341.60 296.20,340.24 296.80,339.43 297.50,367.50" fill="none" stroke="#bdb6b0" stroke-width="0.60" stroke-linejoin="round"/>
<polyline points="309.20,367.50 309.60,340.50 310.00,339.20 310.60,338.98 311.20,338.72 311.80,338.41 312.70,367.50" fill="none" stroke="#bdb6b0" stroke-width="0.60" stroke-linejoin="round"/>
<polyline points="325.30,367.50 325.70,341.00 326.10,339.10 326.70,340.88 327.70,367.50" fill="none" stroke="#bdb6b0" stroke-width="0.60" stroke-linejoin="round"/>
<polyline points="238.40,367.50 238.70,349.00 240.70,349.00 241.00,367.50" fill="none" stroke="#9a9a9a" stroke-width="0.50" stroke-linejoin="round"/>
<polyline points="255.40,367.50 255.70,349.00 256.50,349.00 256.80,367.50" fill="none" stroke="#9a9a9a" stroke-width="0.50" stroke-linejoin="round"/>
<polyline points="268.20,367.50 268.50,349.00 268.90,349.00 269.20,367.50" fill="none" stroke="#9a9a9a" stroke-width="0.50" stroke-linejoin="round"/>
<polyline points="281.20,367.50 281.50,349.00 283.40,349.00 283.70,367.50" fill="none" stroke="#9a9a9a" stroke-width="0.50" stroke-linejoin="round"/>
<polyline points="238.50,367.50 239.10,337.00 239.80,335.10 240.50,335.50 241.00,345.00 241.30,365.60 242.00,364.00 242.50,362.00 243.20,362.50 243.80,367.50" fill="none" stroke="#111" stroke-width="1.10" stroke-linejoin="round"/>
<polyline points="246.00,365.19 246.60,366.21 247.20,365.47 247.80,365.45 248.40,366.58 249.00,365.64 249.60,365.43 250.20,365.92 250.80,366.35 251.40,366.04 252.00,366.65 252.60,365.82 253.20,366.04" fill="none" stroke="#111" stroke-width="0.70" stroke-linejoin="round"/>
<polyline points="255.40,367.50 255.80,334.50 256.30,333.90 256.80,367.50" fill="none" stroke="#111" stroke-width="1.10" stroke-linejoin="round"/>
<polyline points="268.20,367.50 268.60,332.60 269.00,332.20 269.30,367.50" fill="none" stroke="#111" stroke-width="1.10" stroke-linejoin="round"/>
<polyline points="281.00,367.50 281.30,331.00 281.60,329.20 282.60,331.50 283.50,335.10 283.90,367.50" fill="none" stroke="#111" stroke-width="1.10" stroke-linejoin="round"/>
<polyline points="284.50,367.22 285.30,366.96 286.10,367.22 286.90,366.97 287.70,366.63 288.50,366.62 289.30,367.28 290.10,367.24 290.90,367.44 291.70,367.19 292.50,367.08 293.30,366.67 294.10,367.35 294.90,366.62 295.70,366.92 296.50,366.64 297.30,366.88 298.10,366.81 298.90,366.93 299.70,367.21 300.50,367.04 301.30,366.74 302.10,367.28 302.90,367.24 303.70,367.33 304.50,366.53 305.30,367.11 306.10,367.40 306.90,366.76 307.70,366.70 308.50,367.31 309.30,366.86 310.10,366.90 310.90,367.32 311.70,366.88 312.50,366.70 313.30,366.71 314.10,366.85 314.90,367.20 315.70,366.87 316.50,367.27 317.30,366.57 318.10,366.75 318.90,367.12 319.70,366.98 320.50,367.00 321.30,367.44 322.10,366.78 322.90,366.68 323.70,366.53 324.50,366.98 325.30,366.80 326.10,366.97 326.90,366.51 327.70,366.50 328.50,366.88 329.30,367.26 330.10,366.80 330.90,367.41 331.70,367.08 332.50,366.90 333.30,367.28 334.10,366.73 334.90,367.11 335.70,367.35 336.50,367.04 337.30,366.82" fill="none" stroke="#111" stroke-width="0.60" stroke-linejoin="round"/>
<rect x="295.80" y="363.50" width="1.00" height="4.00" fill="#111"/>
<polyline points="339.00,365.65 339.60,365.80 340.20,366.37 340.80,366.58 341.40,366.87 342.00,366.12 342.60,366.39 343.20,366.16 343.80,365.89 344.40,365.58 345.00,366.59 345.60,367.07 346.20,365.60 346.80,366.29 347.40,363.70 348.00,365.57 348.60,366.36 349.20,364.48 349.80,366.20 350.40,366.26 351.00,366.94 351.60,366.66 352.20,364.57 352.80,365.59 353.40,366.96 354.00,366.12 354.60,367.01 355.20,364.37 355.80,366.22 356.40,366.81 357.00,366.96 357.60,366.96 358.20,366.39 358.80,366.23 359.40,366.44 360.00,366.89 360.60,366.11 361.20,366.05 361.80,366.17 362.40,365.94 363.00,366.57 363.60,365.80 364.20,365.92 364.80,365.77 365.40,365.67 366.00,365.93 366.60,363.35 367.20,366.78 367.80,366.28 368.40,366.61 369.00,365.60 369.60,366.00 370.20,366.38 370.80,365.69 371.40,366.48 372.00,366.91 372.60,366.45 373.20,365.92 373.80,366.76 374.40,366.37 375.00,367.06 375.60,365.62 376.20,365.74 376.80,366.26 377.40,366.81 378.00,365.73 378.60,365.79 379.20,365.71 379.80,366.07 380.40,366.94 381.00,366.04 381.60,366.56 382.20,365.72 382.80,365.76 383.40,366.68 384.00,366.05 384.60,364.64 385.20,366.52 385.80,364.50 386.40,366.86 387.00,363.86 387.60,363.68 388.20,363.85 388.80,366.32 389.40,363.43 390.00,367.06 390.60,366.63 391.20,366.02 391.80,366.89 392.40,366.98 393.00,366.16 393.60,366.91 394.20,364.10 394.80,366.98 395.40,365.74 396.00,364.66 396.60,366.56 397.20,366.05 397.80,366.25 398.40,365.87 399.00,366.56 399.60,367.05 400.20,366.65 400.80,366.19 401.40,363.94 402.00,366.04 402.60,367.02 403.20,365.63 403.80,366.44 404.40,366.74 405.00,366.38 405.60,365.54 406.20,366.60 406.80,367.01 407.40,367.06 408.00,366.22 408.60,366.46 409.20,366.60 409.80,365.70 410.40,366.46 411.00,365.56 411.60,366.61 412.20,365.66 412.80,366.14 413.40,366.39 414.00,367.03 414.60,366.58 415.20,366.99 415.80,366.04 416.40,366.47 417.00,363.61 417.60,365.61 418.20,366.28 418.80,366.20" fill="none" stroke="#111" stroke-width="0.70" stroke-linejoin="round"/>
<line x1="244.50" y1="367.50" x2="226.00" y2="386.00" stroke="#aaa" stroke-width="0.40" stroke-dasharray="1.6,1.1"/>
<line x1="291.00" y1="367.50" x2="326.00" y2="386.00" stroke="#aaa" stroke-width="0.40" stroke-dasharray="1.6,1.1"/>
<text x="245.00" y="383.20" font-size="6.20" text-anchor="middle" fill="#222" font-weight="normal" stroke="#222" stroke-width="0.14">21,816,000</text>
<line x1="243.30" y1="384.00" x2="243.30" y2="387.00" stroke="#333" stroke-width="0.50"/>
<text x="293.70" y="383.20" font-size="6.20" text-anchor="middle" fill="#222" font-weight="normal" stroke="#222" stroke-width="0.14">21,818,000</text>
<line x1="293.80" y1="384.00" x2="293.80" y2="387.00" stroke="#333" stroke-width="0.50"/>
<text x="355.00" y="383.20" font-size="6.20" text-anchor="middle" fill="#222" font-weight="normal" stroke="#222" stroke-width="0.14">22,210,000</text>
<line x1="355.00" y1="384.00" x2="355.00" y2="387.00" stroke="#333" stroke-width="0.50"/>
<text x="403.30" y="383.20" font-size="6.20" text-anchor="middle" fill="#222" font-weight="normal" stroke="#222" stroke-width="0.14">22,212,000</text>
<line x1="403.30" y1="384.00" x2="403.30" y2="387.00" stroke="#333" stroke-width="0.50"/>
<rect x="218.00" y="387.00" width="114.70" height="84.50" fill="#f7f8fa"/>
<rect x="298.60" y="387.00" width="34.10" height="84.50" fill="#ffffff"/>
<rect x="308.20" y="387.00" width="24.50" height="84.50" fill="#f2f4f8"/>
<line x1="218.00" y1="397.20" x2="298.60" y2="397.20" stroke="#c8c8c8" stroke-width="0.50"/>
<path d="M218.00 399.05H298.60M218.00 400.80H298.60M218.00 402.55H298.60M218.00 404.30H298.60M218.00 406.05H298.60M218.00 407.80H298.60M218.00 409.55H298.60M218.00 411.30H298.60M218.00 413.05H298.60" stroke="#cdd7e0" stroke-width="0.3" fill="none"/>
<path d="M218.00 429.25H298.60M218.00 431.00H298.60M218.00 432.75H298.60M218.00 434.50H298.60M218.00 436.25H298.60M218.00 438.00H298.60M218.00 439.75H298.60M218.00 441.50H298.60M218.00 443.25H298.60M218.00 445.00H298.60M218.00 446.75H298.60M218.00 448.50H298.60M218.00 450.25H298.60M218.00 452.00H298.60M218.00 453.75H298.60M218.00 455.50H298.60M218.00 457.25H298.60M218.00 459.00H298.60M218.00 460.75H298.60M218.00 462.50H298.60M218.00 464.25H298.60M218.00 466.00H298.60M218.00 467.75H298.60M218.00 469.50H298.60M218.00 471.25H298.60" stroke="#cdd7e0" stroke-width="0.3" fill="none"/>
<rect x="229.80" y="390.80" width="1.60" height="6.20" fill="#a4a4a4"/>
<rect x="229.80" y="397.20" width="1.60" height="74.30" fill="#d2d2d2"/>
<rect x="262.00" y="390.80" width="1.00" height="6.20" fill="#a4a4a4"/>
<rect x="262.00" y="397.20" width="1.00" height="74.30" fill="#d2d2d2"/>
<rect x="295.00" y="390.80" width="3.60" height="6.20" fill="#a4a4a4"/>
<rect x="295.00" y="397.20" width="3.60" height="74.30" fill="#d2d2d2"/>
<line x1="298.40" y1="397.20" x2="298.40" y2="471.50" stroke="#5aa0d8" stroke-width="0.50"/>
<circle cx="297.47" cy="453.22" r="0.55" fill="#40b040"/>
<circle cx="296.87" cy="401.20" r="0.55" fill="#30c040"/>
<circle cx="297.01" cy="408.36" r="0.55" fill="#30c040"/>
<circle cx="296.63" cy="402.96" r="0.55" fill="#30c040"/>
<circle cx="295.44" cy="406.92" r="0.55" fill="#40b040"/>
<circle cx="297.70" cy="470.03" r="0.55" fill="#40b040"/>
<circle cx="295.59" cy="453.80" r="0.55" fill="#60c060"/>
<circle cx="298.39" cy="400.64" r="0.55" fill="#30c040"/>
<circle cx="298.01" cy="459.44" r="0.55" fill="#60c060"/>
<circle cx="298.40" cy="433.75" r="0.55" fill="#60c060"/>
<circle cx="296.71" cy="447.83" r="0.55" fill="#30c040"/>
<circle cx="297.00" cy="444.71" r="0.55" fill="#30c040"/>
<circle cx="297.81" cy="448.55" r="0.55" fill="#40b040"/>
<circle cx="298.39" cy="441.77" r="0.55" fill="#30c040"/>
<circle cx="297.20" cy="407.96" r="0.55" fill="#40b040"/>
<circle cx="298.14" cy="439.28" r="0.55" fill="#60c060"/>
<circle cx="298.00" cy="405.33" r="0.55" fill="#60c060"/>
<circle cx="296.46" cy="440.34" r="0.55" fill="#30c040"/>
<circle cx="297.61" cy="432.66" r="0.55" fill="#60c060"/>
<circle cx="297.74" cy="445.95" r="0.55" fill="#60c060"/>
<circle cx="298.14" cy="434.43" r="0.55" fill="#30c040"/>
<circle cx="296.43" cy="400.70" r="0.55" fill="#40b040"/>
<circle cx="295.21" cy="408.19" r="0.55" fill="#30c040"/>
<circle cx="295.57" cy="406.90" r="0.55" fill="#30c040"/>
<circle cx="297.37" cy="459.23" r="0.55" fill="#30c040"/>
<circle cx="297.45" cy="422.30" r="0.55" fill="#40b040"/>
<circle cx="297.34" cy="426.41" r="0.55" fill="#40b040"/>
<circle cx="297.79" cy="435.60" r="0.55" fill="#40b040"/>
<circle cx="295.87" cy="420.49" r="0.55" fill="#30c040"/>
<circle cx="297.43" cy="447.55" r="0.55" fill="#60c060"/>
<circle cx="296.22" cy="449.09" r="0.55" fill="#40b040"/>
<circle cx="296.94" cy="466.51" r="0.55" fill="#60c060"/>
<circle cx="298.04" cy="456.74" r="0.55" fill="#60c060"/>
<circle cx="296.68" cy="401.64" r="0.55" fill="#60c060"/>
<circle cx="295.32" cy="419.15" r="0.55" fill="#40b040"/>
<circle cx="297.44" cy="435.07" r="0.55" fill="#60c060"/>
<circle cx="297.64" cy="416.05" r="0.55" fill="#60c060"/>
<circle cx="296.59" cy="440.70" r="0.55" fill="#60c060"/>
<circle cx="297.13" cy="457.08" r="0.55" fill="#30c040"/>
<circle cx="298.39" cy="465.46" r="0.55" fill="#40b040"/>
<circle cx="295.43" cy="458.35" r="0.55" fill="#40b040"/>
<circle cx="298.03" cy="421.14" r="0.55" fill="#40b040"/>
<circle cx="298.24" cy="450.43" r="0.55" fill="#40b040"/>
<circle cx="295.30" cy="443.52" r="0.55" fill="#30c040"/>
<circle cx="297.11" cy="452.30" r="0.55" fill="#30c040"/>
<circle cx="296.50" cy="449.18" r="0.55" fill="#40b040"/>
<circle cx="296.59" cy="420.77" r="0.55" fill="#60c060"/>
<circle cx="297.87" cy="404.83" r="0.55" fill="#60c060"/>
<circle cx="295.36" cy="442.82" r="0.55" fill="#30c040"/>
<circle cx="296.43" cy="429.09" r="0.55" fill="#60c060"/>
<circle cx="298.38" cy="432.96" r="0.55" fill="#40b040"/>
<circle cx="296.91" cy="447.54" r="0.55" fill="#30c040"/>
<circle cx="296.95" cy="414.64" r="0.55" fill="#40b040"/>
<circle cx="296.54" cy="469.87" r="0.55" fill="#60c060"/>
<circle cx="296.10" cy="459.37" r="0.55" fill="#30c040"/>
<circle cx="231.12" cy="461.18" r="0.55" fill="#e06070"/>
<circle cx="231.31" cy="426.77" r="0.55" fill="#e06070"/>
<circle cx="230.96" cy="423.86" r="0.55" fill="#e06070"/>
<circle cx="231.15" cy="444.49" r="0.55" fill="#30b040"/>
<circle cx="230.95" cy="454.26" r="0.55" fill="#30b040"/>
<circle cx="230.86" cy="409.32" r="0.55" fill="#30b040"/>
<circle cx="230.17" cy="402.71" r="0.55" fill="#e06070"/>
<circle cx="231.05" cy="434.78" r="0.55" fill="#30b040"/>
<circle cx="261.98" cy="451.22" r="0.55" fill="#30b040"/>
<circle cx="261.91" cy="406.54" r="0.55" fill="#e06070"/>
<circle cx="262.62" cy="447.20" r="0.55" fill="#30b040"/>
<circle cx="261.80" cy="424.64" r="0.55" fill="#e06070"/>
<circle cx="262.77" cy="455.25" r="0.55" fill="#30b040"/>
<circle cx="262.09" cy="407.34" r="0.55" fill="#e06070"/>
<circle cx="262.03" cy="445.70" r="0.55" fill="#e06070"/>
<circle cx="262.18" cy="459.03" r="0.55" fill="#e06070"/>
<rect x="218.00" y="387.00" width="114.70" height="84.50" fill="none" stroke="#4a4a4a" stroke-width="0.7"/>
<line x1="302.60" y1="400.40" x2="305.40" y2="395.60" stroke="#111" stroke-width="1.10"/>
<line x1="306.40" y1="400.40" x2="309.20" y2="395.60" stroke="#111" stroke-width="1.10"/>
<line x1="302.60" y1="476.70" x2="305.40" y2="471.90" stroke="#111" stroke-width="1.10"/>
<line x1="306.40" y1="476.70" x2="309.20" y2="471.90" stroke="#111" stroke-width="1.10"/>
<text x="331.40" y="395.00" font-size="6.30" text-anchor="end" fill="#222" font-weight="normal" stroke="#222" stroke-width="0.14">[0-386]</text>
<rect x="336.40" y="387.00" width="102.30" height="84.50" fill="#fafbfc"/>
<line x1="336.40" y1="397.30" x2="371.30" y2="397.30" stroke="#c8c8c8" stroke-width="0.50"/>
<path d="M371.3 397.3 L371.3 390.2 L372.3 390.2 L372.6 395.6 L376 395.3 L380 395.6 L384 395.0 L388 395.5 L392 395.1 L396 395.4 L400 394.9 L404 395.3 L408 395.0 L412 395.4 L415 394.6 L417 393.5 L420 394.2 L424 394.6 L428 394.3 L432 394.8 L436 394.5 L438.7 395 L438.7 397.3 Z" fill="#a8a8a8"/>
<rect x="371.30" y="397.60" width="67.40" height="73.90" fill="#d2d2d2"/>
<path d="M371.30 399.70H438.70M371.30 401.80H438.70M371.30 403.90H438.70M371.30 406.00H438.70M371.30 408.10H438.70M371.30 410.20H438.70M371.30 412.30H438.70M371.30 414.40H438.70M371.30 416.50H438.70M371.30 418.60H438.70M371.30 420.70H438.70M371.30 422.80H438.70M371.30 424.90H438.70M371.30 427.00H438.70M371.30 429.10H438.70M371.30 431.20H438.70M371.30 433.30H438.70M371.30 435.40H438.70M371.30 437.50H438.70M371.30 439.60H438.70M371.30 441.70H438.70M371.30 443.80H438.70M371.30 445.90H438.70M371.30 448.00H438.70M371.30 450.10H438.70M371.30 452.20H438.70M371.30 454.30H438.70M371.30 456.40H438.70M371.30 458.50H438.70M371.30 460.60H438.70M371.30 462.70H438.70M371.30 464.80H438.70M371.30 466.90H438.70M371.30 469.00H438.70M371.30 471.10H438.70" stroke="#f6f6f6" stroke-width="0.55" fill="none"/>
<path d="M377.89 397.90V399.70M390.38 397.90V399.70M403.95 397.90V399.70M411.38 397.90V399.70M424.89 397.90V399.70M376.76 400.00V401.80M382.98 400.00V401.80M392.77 400.00V401.80M402.25 400.00V401.80M416.21 400.00V401.80M423.42 400.00V401.80M434.89 400.00V401.80M377.51 402.10V403.90M385.07 402.10V403.90M398.22 402.10V403.90M405.52 402.10V403.90M418.24 402.10V403.90M431.24 402.10V403.90M373.66 404.20V406.00M381.12 404.20V406.00M386.71 404.20V406.00M393.39 404.20V406.00M401.59 404.20V406.00M411.75 404.20V406.00M424.00 404.20V406.00M429.42 404.20V406.00M374.07 406.30V408.10M385.49 406.30V408.10M390.58 406.30V408.10M398.79 406.30V408.10M412.14 406.30V408.10M425.01 406.30V408.10M430.49 406.30V408.10M379.70 408.40V410.20M386.29 408.40V410.20M395.41 408.40V410.20M402.77 408.40V410.20M410.43 408.40V410.20M419.84 408.40V410.20M426.09 408.40V410.20M432.48 408.40V410.20M378.64 410.50V412.30M389.01 410.50V412.30M395.24 410.50V412.30M401.43 410.50V412.30M412.02 410.50V412.30M422.56 410.50V412.30M427.65 410.50V412.30M375.93 412.60V414.40M383.35 412.60V414.40M394.07 412.60V414.40M407.30 412.60V414.40M415.44 412.60V414.40M425.04 412.60V414.40M430.48 412.60V414.40M379.58 414.70V416.50M393.05 414.70V416.50M401.20 414.70V416.50M413.94 414.70V416.50M427.90 414.70V416.50M435.63 414.70V416.50M375.27 416.80V418.60M388.95 416.80V418.60M402.05 416.80V418.60M415.79 416.80V418.60M424.46 416.80V418.60M435.63 416.80V418.60M377.38 418.90V420.70M382.84 418.90V420.70M393.84 418.90V420.70M406.07 418.90V420.70M416.85 418.90V420.70M429.97 418.90V420.70M377.78 421.00V422.80M385.99 421.00V422.80M395.56 421.00V422.80M402.19 421.00V422.80M409.20 421.00V422.80M423.01 421.00V422.80M431.98 421.00V422.80M379.51 423.10V424.90M391.69 423.10V424.90M397.09 423.10V424.90M405.80 423.10V424.90M415.59 423.10V424.90M422.72 423.10V424.90M434.60 423.10V424.90M379.24 425.20V427.00M385.45 425.20V427.00M392.14 425.20V427.00M399.89 425.20V427.00M409.55 425.20V427.00M416.84 425.20V427.00M426.46 425.20V427.00M434.58 425.20V427.00M379.08 427.30V429.10M388.96 427.30V429.10M402.06 427.30V429.10M411.74 427.30V429.10M424.48 427.30V429.10M434.97 427.30V429.10M379.87 429.40V431.20M388.12 429.40V431.20M401.92 429.40V431.20M412.22 429.40V431.20M425.76 429.40V431.20M431.60 429.40V431.20M375.51 431.50V433.30M387.87 431.50V433.30M401.07 431.50V433.30M413.81 431.50V433.30M422.30 431.50V433.30M427.96 431.50V433.30M374.75 433.60V435.40M387.18 433.60V435.40M397.51 433.60V435.40M409.09 433.60V435.40M420.45 433.60V435.40M427.59 433.60V435.40M436.06 433.60V435.40M378.22 435.70V437.50M389.34 435.70V437.50M403.26 435.70V437.50M413.10 435.70V437.50M421.25 435.70V437.50M427.33 435.70V437.50M436.30 435.70V437.50M378.12 437.80V439.60M383.37 437.80V439.60M390.14 437.80V439.60M400.87 437.80V439.60M412.94 437.80V439.60M426.42 437.80V439.60M432.66 437.80V439.60M376.44 439.90V441.70M386.76 439.90V441.70M397.91 439.90V441.70M406.57 439.90V441.70M417.03 439.90V441.70M430.73 439.90V441.70M435.92 439.90V441.70M380.30 442.00V443.80M393.18 442.00V443.80M400.43 442.00V443.80M412.48 442.00V443.80M425.70 442.00V443.80M434.39 442.00V443.80M375.36 444.10V445.90M389.34 444.10V445.90M396.00 444.10V445.90M407.31 444.10V445.90M421.22 444.10V445.90M435.00 444.10V445.90M376.34 446.20V448.00M389.78 446.20V448.00M402.50 446.20V448.00M411.29 446.20V448.00M419.66 446.20V448.00M427.62 446.20V448.00M435.54 446.20V448.00M376.21 448.30V450.10M389.84 448.30V450.10M394.85 448.30V450.10M405.29 448.30V450.10M414.17 448.30V450.10M428.15 448.30V450.10M378.30 450.40V452.20M389.86 450.40V452.20M398.28 450.40V452.20M409.56 450.40V452.20M416.75 450.40V452.20M429.09 450.40V452.20M374.92 452.50V454.30M381.81 452.50V454.30M390.31 452.50V454.30M398.42 452.50V454.30M409.41 452.50V454.30M418.58 452.50V454.30M423.89 452.50V454.30M431.82 452.50V454.30M380.23 454.60V456.40M393.56 454.60V456.40M404.10 454.60V456.40M417.78 454.60V456.40M424.14 454.60V456.40M431.00 454.60V456.40M437.36 454.60V456.40M375.26 456.70V458.50M385.12 456.70V458.50M398.11 456.70V458.50M406.29 456.70V458.50M414.19 456.70V458.50M423.44 456.70V458.50M436.98 456.70V458.50M380.17 458.80V460.60M387.95 458.80V460.60M397.91 458.80V460.60M408.58 458.80V460.60M420.06 458.80V460.60M432.59 458.80V460.60M374.74 460.90V462.70M380.69 460.90V462.70M392.66 460.90V462.70M402.11 460.90V462.70M411.55 460.90V462.70M416.87 460.90V462.70M429.08 460.90V462.70M373.40 463.00V464.80M387.29 463.00V464.80M396.65 463.00V464.80M402.71 463.00V464.80M407.97 463.00V464.80M419.28 463.00V464.80M431.49 463.00V464.80M379.38 465.10V466.90M384.41 465.10V466.90M397.23 465.10V466.90M403.66 465.10V466.90M410.34 465.10V466.90M418.36 465.10V466.90M426.33 465.10V466.90M376.83 467.20V469.00M385.69 467.20V469.00M398.00 467.20V469.00M406.88 467.20V469.00M414.69 467.20V469.00M422.81 467.20V469.00M433.05 467.20V469.00M379.78 469.30V471.10M384.98 469.30V471.10M393.28 469.30V471.10M404.56 469.30V471.10M414.03 469.30V471.10M425.64 469.30V471.10" stroke="#f6f6f6" stroke-width="0.5" fill="none"/>
<rect x="372.50" y="414.80" width="43.50" height="4.70" fill="#fafbfc"/>
<rect x="372.50" y="433.40" width="43.50" height="10.40" fill="#fafbfc"/>
<path d="M372.50 435.10H416.00M372.50 436.80H416.00M372.50 438.50H416.00M372.50 440.20H416.00M372.50 441.90H416.00M372.50 443.60H416.00" stroke="#d0d8e0" stroke-width="0.3" fill="none"/>
<rect x="415.50" y="397.60" width="5.00" height="73.90" fill="#d4d4d4"/>
<circle cx="371.52" cy="448.84" r="0.60" fill="#30c040"/>
<circle cx="372.79" cy="425.23" r="0.60" fill="#30c040"/>
<circle cx="373.13" cy="399.08" r="0.60" fill="#40b040"/>
<circle cx="374.30" cy="429.36" r="0.60" fill="#40b040"/>
<circle cx="372.85" cy="398.72" r="0.60" fill="#e06070"/>
<circle cx="375.03" cy="452.97" r="0.60" fill="#30c040"/>
<circle cx="371.94" cy="466.56" r="0.60" fill="#30c040"/>
<circle cx="371.77" cy="442.75" r="0.60" fill="#40b040"/>
<circle cx="371.89" cy="415.52" r="0.60" fill="#40b040"/>
<circle cx="375.05" cy="439.23" r="0.60" fill="#40b040"/>
<circle cx="372.83" cy="401.90" r="0.60" fill="#40b040"/>
<circle cx="371.59" cy="400.04" r="0.60" fill="#e06070"/>
<circle cx="375.43" cy="434.86" r="0.60" fill="#30c040"/>
<circle cx="374.62" cy="450.64" r="0.60" fill="#30c040"/>
<circle cx="375.25" cy="399.11" r="0.60" fill="#40b040"/>
<circle cx="374.60" cy="458.23" r="0.60" fill="#30c040"/>
<circle cx="372.91" cy="400.55" r="0.60" fill="#30c040"/>
<circle cx="373.58" cy="429.45" r="0.60" fill="#30c040"/>
<circle cx="374.57" cy="409.89" r="0.60" fill="#40b040"/>
<circle cx="371.83" cy="407.49" r="0.60" fill="#30c040"/>
<circle cx="372.96" cy="400.86" r="0.60" fill="#30c040"/>
<circle cx="373.54" cy="464.31" r="0.60" fill="#e06070"/>
<circle cx="373.54" cy="463.01" r="0.60" fill="#40b040"/>
<circle cx="373.99" cy="444.77" r="0.60" fill="#30c040"/>
<circle cx="371.83" cy="439.07" r="0.60" fill="#40b040"/>
<circle cx="374.30" cy="429.93" r="0.60" fill="#30c040"/>
<circle cx="372.10" cy="465.41" r="0.60" fill="#e06070"/>
<circle cx="373.84" cy="452.40" r="0.60" fill="#e06070"/>
<circle cx="374.52" cy="457.35" r="0.60" fill="#e06070"/>
<circle cx="375.17" cy="438.90" r="0.60" fill="#e06070"/>
<circle cx="372.19" cy="422.36" r="0.60" fill="#40b040"/>
<circle cx="374.08" cy="434.17" r="0.60" fill="#40b040"/>
<circle cx="374.55" cy="432.47" r="0.60" fill="#e06070"/>
<circle cx="373.28" cy="452.56" r="0.60" fill="#30c040"/>
<circle cx="374.41" cy="427.89" r="0.60" fill="#40b040"/>
<circle cx="375.16" cy="415.81" r="0.60" fill="#40b040"/>
<circle cx="372.73" cy="469.62" r="0.60" fill="#e06070"/>
<circle cx="374.07" cy="401.33" r="0.60" fill="#e06070"/>
<circle cx="375.99" cy="454.59" r="0.60" fill="#30c040"/>
<circle cx="374.81" cy="449.60" r="0.60" fill="#40b040"/>
<circle cx="372.61" cy="457.54" r="0.60" fill="#40b040"/>
<circle cx="375.12" cy="447.38" r="0.60" fill="#40b040"/>
<circle cx="375.28" cy="419.77" r="0.60" fill="#e06070"/>
<circle cx="375.96" cy="447.89" r="0.60" fill="#30c040"/>
<circle cx="373.18" cy="440.06" r="0.60" fill="#40b040"/>
<circle cx="372.64" cy="452.29" r="0.60" fill="#30c040"/>
<circle cx="373.63" cy="421.75" r="0.60" fill="#30c040"/>
<circle cx="372.89" cy="408.82" r="0.60" fill="#40b040"/>
<circle cx="375.07" cy="430.18" r="0.60" fill="#40b040"/>
<circle cx="375.63" cy="443.57" r="0.60" fill="#30c040"/>
<circle cx="375.77" cy="450.41" r="0.60" fill="#e06070"/>
<circle cx="374.45" cy="454.34" r="0.60" fill="#40b040"/>
<circle cx="374.73" cy="455.69" r="0.60" fill="#30c040"/>
<circle cx="374.14" cy="443.78" r="0.60" fill="#e06070"/>
<circle cx="374.61" cy="433.24" r="0.60" fill="#30c040"/>
<circle cx="415.94" cy="458.18" r="0.60" fill="#40b040"/>
<circle cx="418.84" cy="451.38" r="0.60" fill="#30c040"/>
<circle cx="418.34" cy="410.45" r="0.60" fill="#40b040"/>
<circle cx="419.69" cy="399.81" r="0.60" fill="#30c040"/>
<circle cx="419.94" cy="461.01" r="0.60" fill="#40b040"/>
<circle cx="415.80" cy="431.42" r="0.60" fill="#30c040"/>
<circle cx="417.35" cy="402.67" r="0.60" fill="#30c040"/>
<circle cx="416.69" cy="417.86" r="0.60" fill="#30c040"/>
<circle cx="416.66" cy="430.17" r="0.60" fill="#30c040"/>
<circle cx="419.99" cy="450.77" r="0.60" fill="#30c040"/>
<circle cx="415.31" cy="406.26" r="0.60" fill="#40b040"/>
<circle cx="416.48" cy="415.30" r="0.60" fill="#30c040"/>
<circle cx="415.02" cy="412.79" r="0.60" fill="#30c040"/>
<circle cx="418.09" cy="447.32" r="0.60" fill="#40b040"/>
<circle cx="419.16" cy="428.99" r="0.60" fill="#30c040"/>
<circle cx="416.83" cy="431.89" r="0.60" fill="#40b040"/>
<circle cx="415.77" cy="417.35" r="0.60" fill="#40b040"/>
<circle cx="417.54" cy="437.26" r="0.60" fill="#30c040"/>
<circle cx="416.34" cy="451.32" r="0.60" fill="#30c040"/>
<circle cx="419.51" cy="469.06" r="0.60" fill="#30c040"/>
<circle cx="416.15" cy="425.61" r="0.60" fill="#40b040"/>
<circle cx="416.03" cy="444.76" r="0.60" fill="#40b040"/>
<circle cx="417.93" cy="443.39" r="0.60" fill="#40b040"/>
<circle cx="415.91" cy="411.80" r="0.60" fill="#40b040"/>
<circle cx="419.54" cy="423.18" r="0.60" fill="#30c040"/>
<circle cx="417.88" cy="408.39" r="0.60" fill="#40b040"/>
<circle cx="416.09" cy="458.51" r="0.60" fill="#30c040"/>
<circle cx="416.45" cy="425.02" r="0.60" fill="#40b040"/>
<circle cx="416.58" cy="444.29" r="0.60" fill="#40b040"/>
<circle cx="415.94" cy="449.52" r="0.60" fill="#30c040"/>
<circle cx="392.79" cy="460.28" r="0.60" fill="#e88890"/>
<circle cx="383.22" cy="465.45" r="0.60" fill="#6060d0"/>
<circle cx="385.67" cy="412.79" r="0.60" fill="#e88890"/>
<circle cx="405.96" cy="438.72" r="0.60" fill="#6060d0"/>
<circle cx="398.44" cy="424.88" r="0.60" fill="#e88890"/>
<circle cx="399.78" cy="463.20" r="0.60" fill="#e88890"/>
<circle cx="404.45" cy="438.23" r="0.60" fill="#e88890"/>
<circle cx="422.24" cy="453.36" r="0.60" fill="#6060d0"/>
<circle cx="429.53" cy="431.76" r="0.60" fill="#e88890"/>
<circle cx="399.39" cy="458.22" r="0.60" fill="#e88890"/>
<circle cx="427.08" cy="407.56" r="0.60" fill="#e88890"/>
<circle cx="397.11" cy="449.99" r="0.60" fill="#e88890"/>
<circle cx="410.87" cy="399.23" r="0.60" fill="#30b040"/>
<circle cx="379.04" cy="436.08" r="0.60" fill="#e88890"/>
<circle cx="389.92" cy="444.28" r="0.60" fill="#e88890"/>
<circle cx="418.19" cy="442.95" r="0.60" fill="#30b040"/>
<circle cx="391.84" cy="449.60" r="0.60" fill="#30b040"/>
<circle cx="425.98" cy="415.01" r="0.60" fill="#e88890"/>
<circle cx="393.60" cy="455.52" r="0.60" fill="#e88890"/>
<circle cx="389.95" cy="453.64" r="0.60" fill="#6060d0"/>
<circle cx="397.65" cy="441.31" r="0.60" fill="#e88890"/>
<circle cx="429.43" cy="427.45" r="0.60" fill="#e88890"/>
<circle cx="391.26" cy="416.39" r="0.60" fill="#6060d0"/>
<circle cx="416.82" cy="414.93" r="0.60" fill="#e88890"/>
<circle cx="389.78" cy="420.29" r="0.60" fill="#e88890"/>
<circle cx="404.73" cy="462.96" r="0.60" fill="#30b040"/>
<circle cx="392.44" cy="450.50" r="0.60" fill="#e88890"/>
<circle cx="418.58" cy="461.25" r="0.60" fill="#e88890"/>
<circle cx="410.04" cy="415.62" r="0.60" fill="#e88890"/>
<circle cx="409.70" cy="431.54" r="0.60" fill="#e88890"/>
<circle cx="376.63" cy="459.98" r="0.60" fill="#6060d0"/>
<circle cx="378.68" cy="450.35" r="0.60" fill="#30b040"/>
<circle cx="377.86" cy="450.05" r="0.60" fill="#e88890"/>
<circle cx="427.40" cy="456.48" r="0.60" fill="#e88890"/>
<circle cx="416.37" cy="435.12" r="0.60" fill="#6060d0"/>
<circle cx="383.83" cy="430.52" r="0.60" fill="#6060d0"/>
<circle cx="432.74" cy="414.88" r="0.60" fill="#e88890"/>
<circle cx="434.47" cy="409.31" r="0.60" fill="#e88890"/>
<circle cx="402.75" cy="403.18" r="0.60" fill="#6060d0"/>
<circle cx="409.55" cy="452.93" r="0.60" fill="#e88890"/>
<circle cx="413.63" cy="466.92" r="0.60" fill="#e88890"/>
<circle cx="430.49" cy="407.71" r="0.60" fill="#e88890"/>
<circle cx="416.22" cy="432.11" r="0.60" fill="#6060d0"/>
<circle cx="427.00" cy="425.96" r="0.60" fill="#e88890"/>
<circle cx="420.17" cy="417.02" r="0.60" fill="#e88890"/>
<circle cx="390.03" cy="402.93" r="0.60" fill="#6060d0"/>
<circle cx="427.94" cy="407.60" r="0.60" fill="#e88890"/>
<circle cx="433.62" cy="420.57" r="0.60" fill="#6060d0"/>
<circle cx="415.13" cy="464.39" r="0.60" fill="#30b040"/>
<circle cx="401.65" cy="446.39" r="0.60" fill="#30b040"/>
<circle cx="422.43" cy="433.40" r="0.60" fill="#e88890"/>
<circle cx="383.12" cy="466.51" r="0.60" fill="#6060d0"/>
<circle cx="418.15" cy="463.57" r="0.60" fill="#30b040"/>
<circle cx="384.45" cy="421.21" r="0.60" fill="#e88890"/>
<circle cx="415.00" cy="436.96" r="0.60" fill="#e88890"/>
<circle cx="431.39" cy="461.43" r="0.60" fill="#6060d0"/>
<circle cx="425.12" cy="467.33" r="0.60" fill="#30b040"/>
<circle cx="416.91" cy="435.09" r="0.60" fill="#e88890"/>
<circle cx="396.62" cy="423.40" r="0.60" fill="#e88890"/>
<circle cx="394.04" cy="404.33" r="0.60" fill="#30b040"/>
<circle cx="416.89" cy="438.37" r="0.60" fill="#30b040"/>
<circle cx="419.86" cy="434.89" r="0.60" fill="#e88890"/>
<circle cx="416.39" cy="466.45" r="0.60" fill="#e88890"/>
<circle cx="406.96" cy="440.81" r="0.60" fill="#30b040"/>
<circle cx="380.39" cy="417.83" r="0.60" fill="#30b040"/>
<circle cx="382.41" cy="413.40" r="0.60" fill="#e88890"/>
<circle cx="401.62" cy="458.40" r="0.60" fill="#e88890"/>
<circle cx="376.02" cy="470.09" r="0.60" fill="#30b040"/>
<circle cx="417.97" cy="465.89" r="0.60" fill="#6060d0"/>
<circle cx="433.12" cy="398.76" r="0.60" fill="#e88890"/>
<line x1="371.50" y1="397.00" x2="371.50" y2="471.50" stroke="#4040c0" stroke-width="0.30"/>
<rect x="339.50" y="397.60" width="0.60" height="1.40" fill="#e08088"/>
<rect x="342.10" y="397.60" width="0.60" height="2.00" fill="#e08088"/>
<rect x="344.70" y="397.60" width="0.60" height="2.60" fill="#e08088"/>
<rect x="347.30" y="397.60" width="0.60" height="1.40" fill="#e08088"/>
<rect x="349.90" y="397.60" width="0.60" height="2.00" fill="#e08088"/>
<rect x="352.50" y="397.60" width="0.60" height="2.60" fill="#e08088"/>
<rect x="355.10" y="397.60" width="0.60" height="1.40" fill="#e08088"/>
<rect x="357.70" y="397.60" width="0.60" height="2.00" fill="#e08088"/>
<rect x="360.30" y="397.60" width="0.60" height="2.60" fill="#e08088"/>
<rect x="362.90" y="397.60" width="0.60" height="1.40" fill="#e08088"/>
<rect x="339.50" y="397.60" width="2.20" height="1.00" fill="#e07080"/>
<rect x="351.50" y="397.60" width="1.80" height="1.00" fill="#e07080"/>
<rect x="336.40" y="387.00" width="102.30" height="84.50" fill="none" stroke="#4a4a4a" stroke-width="0.7"/>
<line x1="308.30" y1="430.40" x2="360.50" y2="430.40" stroke="#111" stroke-width="0.85"/>
<polygon points="362.50,430.40 358.90,428.70 358.90,432.10" fill="#111"/>
<polygon points="306.30,430.40 309.90,428.70 309.90,432.10" fill="#111"/>
<line x1="218.00" y1="474.00" x2="300.00" y2="474.00" stroke="#6a70c8" stroke-width="0.40" stroke-dasharray="0.7,0.7"/>
<line x1="307.00" y1="474.00" x2="332.00" y2="474.00" stroke="#6a70c8" stroke-width="0.40" stroke-dasharray="0.7,0.7"/>
<rect x="229.20" y="472.80" width="2.80" height="2.40" fill="#3b40b0"/>
<rect x="261.50" y="472.80" width="1.80" height="2.40" fill="#3b40b0"/>
<rect x="294.70" y="472.80" width="3.90" height="2.40" fill="#3b40b0"/>
<rect x="318.50" y="472.80" width="2.50" height="2.40" fill="#3b40b0"/>
<text x="222.80" y="483.40" font-size="6.90" text-anchor="start" fill="#222" font-weight="normal" textLength="18.68" lengthAdjust="spacingAndGlyphs" stroke="#222" stroke-width="0.14">Exon 2</text>
<text x="254.00" y="483.40" font-size="6.90" text-anchor="start" fill="#222" font-weight="normal" textLength="18.68" lengthAdjust="spacingAndGlyphs" stroke="#222" stroke-width="0.14">Exon 3</text>
<text x="287.00" y="483.40" font-size="6.90" text-anchor="start" fill="#222" font-weight="normal" textLength="18.68" lengthAdjust="spacingAndGlyphs" stroke="#222" stroke-width="0.14">Exon 4</text>
<text x="311.20" y="483.40" font-size="6.90" text-anchor="start" fill="#222" font-weight="normal" textLength="18.68" lengthAdjust="spacingAndGlyphs" stroke="#222" stroke-width="0.14">Exon 5</text>
<text x="334.60" y="483.40" font-size="6.90" text-anchor="start" fill="#222" font-weight="normal" textLength="36.69" lengthAdjust="spacingAndGlyphs" stroke="#222" stroke-width="0.14">(NM_002451)</text>
<text x="274.80" y="493.80" font-size="7.95" text-anchor="middle" fill="#222" font-weight="normal" textLength="19.20" lengthAdjust="spacingAndGlyphs" stroke="#222" stroke-width="0.14">MTAP</text>
<text x="465.60" y="312.60" font-size="12.00" text-anchor="start" fill="#000" font-weight="bold" stroke="#000" stroke-width="0.45">f</text>
<text x="577.80" y="311.70" font-size="7.42" text-anchor="middle" fill="#231f20" font-weight="normal" textLength="21.79" lengthAdjust="spacingAndGlyphs" stroke="#231f20" stroke-width="0.14">FBLN5</text>
<rect x="484.10" y="316.90" width="10.50" height="51.80" fill="#fae2bc"/>
<rect x="501.50" y="316.90" width="1.50" height="51.80" fill="#fae2bc"/>
<rect x="510.10" y="316.90" width="1.60" height="51.80" fill="#fae2bc"/>
<rect x="518.30" y="316.90" width="1.60" height="51.80" fill="#fae2bc"/>
<rect x="527.20" y="316.90" width="2.30" height="51.80" fill="#fae2bc"/>
<rect x="537.00" y="316.90" width="5.60" height="51.80" fill="#fae2bc"/>
<rect x="550.00" y="316.90" width="2.40" height="51.80" fill="#fae2bc"/>
<rect x="559.40" y="316.90" width="2.60" height="51.80" fill="#fae2bc"/>
<rect x="569.00" y="316.90" width="3.30" height="51.80" fill="#fae2bc"/>
<rect x="579.00" y="316.90" width="3.20" height="51.80" fill="#fae2bc"/>
<rect x="589.00" y="316.90" width="3.20" height="51.80" fill="#fae2bc"/>
<rect x="598.90" y="316.90" width="4.30" height="51.80" fill="#fae2bc"/>
<rect x="611.00" y="316.90" width="29.20" height="51.80" fill="#fae2bc"/>
<rect x="647.60" y="316.90" width="21.60" height="51.80" fill="#fae2bc"/>
<rect x="572.30" y="316.90" width="6.70" height="51.80" fill="#f4b4dc"/>
<line x1="483.50" y1="368.60" x2="669.50" y2="368.60" stroke="#444" stroke-width="0.50"/>
<text transform="translate(481.30,319.50) rotate(-90)" font-size="3.40" text-anchor="middle" fill="#555">500</text>
<text transform="translate(481.30,344.50) rotate(-90)" font-size="3.40" text-anchor="middle" fill="#555">50</text>
<text transform="translate(481.30,353.50) rotate(-90)" font-size="3.40" text-anchor="middle" fill="#555">20</text>
<text transform="translate(481.30,361.00) rotate(-90)" font-size="3.40" text-anchor="middle" fill="#555">7</text>
<text transform="translate(481.30,367.50) rotate(-90)" font-size="3.40" text-anchor="middle" fill="#555">0</text>
<text x="495.20" y="326.80" font-size="6.55" text-anchor="start" fill="#222" font-weight="normal" textLength="41.33" lengthAdjust="spacingAndGlyphs" stroke="#222" stroke-width="0.14">TCGA-D6-6827</text>
<polyline points="510.30,368.40 510.60,350.00 511.00,349.76 511.50,368.40" fill="none" stroke="#a9a9a9" stroke-width="0.60" stroke-linejoin="round"/>
<polyline points="518.50,368.40 518.80,351.00 519.20,350.46 519.70,368.40" fill="none" stroke="#a9a9a9" stroke-width="0.60" stroke-linejoin="round"/>
<polyline points="537.20,368.40 537.50,348.00 537.90,347.33 538.50,348.83 539.10,348.16 539.70,348.38 540.30,348.11 540.90,347.77 541.50,348.46 542.40,368.40" fill="none" stroke="#a9a9a9" stroke-width="0.60" stroke-linejoin="round"/>
<polyline points="550.20,368.40 550.50,345.00 550.90,345.15 551.50,345.56 552.20,368.40" fill="none" stroke="#a9a9a9" stroke-width="0.60" stroke-linejoin="round"/>
<polyline points="559.60,368.40 559.90,349.00 560.30,349.32 560.90,349.68 561.80,368.40" fill="none" stroke="#a9a9a9" stroke-width="0.60" stroke-linejoin="round"/>
<polyline points="569.20,368.40 569.50,350.00 569.90,349.88 570.50,349.31 571.10,349.30 571.70,350.45 572.10,368.40" fill="none" stroke="#a9a9a9" stroke-width="0.60" stroke-linejoin="round"/>
<polyline points="579.20,368.40 579.50,348.00 579.90,347.34 580.50,348.31 581.10,348.24 582.00,368.40" fill="none" stroke="#a9a9a9" stroke-width="0.60" stroke-linejoin="round"/>
<polyline points="589.20,368.40 589.50,348.00 589.90,347.12 590.50,348.57 591.10,347.07 592.00,368.40" fill="none" stroke="#a9a9a9" stroke-width="0.60" stroke-linejoin="round"/>
<polyline points="599.10,368.40 599.40,347.00 599.80,347.73 600.40,347.68 601.00,346.43 601.60,347.45 602.20,347.46 603.00,368.40" fill="none" stroke="#a9a9a9" stroke-width="0.60" stroke-linejoin="round"/>
<polyline points="484.30,368.40 484.50,360.88 485.10,362.21 485.70,360.27 486.30,362.34 486.90,361.37 487.50,361.94 488.10,358.86 488.70,359.35 489.30,359.96 489.90,359.62 490.50,358.05 491.10,359.86 491.70,359.44 492.30,357.50 492.90,356.74 493.50,358.00 494.40,368.40" fill="none" stroke="#a9a9a9" stroke-width="0.60" stroke-linejoin="round"/>
<polyline points="647.80,368.40 648.20,345.57 648.75,346.63 649.30,345.81 649.85,345.32 650.40,343.61 650.95,344.04 651.50,345.40 652.05,346.52 652.60,345.12 653.15,346.46 653.70,345.49 654.25,346.92 654.80,345.87 655.35,344.33 655.90,343.46 656.45,343.08 657.00,342.89 657.55,346.45 658.10,346.44 658.65,345.83 659.20,342.94 659.75,345.30 660.30,342.89 660.85,346.17 661.40,345.08 661.95,345.42 662.50,344.74 663.05,343.83 663.60,345.66 664.15,346.09 664.70,342.86 665.25,343.65 665.80,344.89 666.35,344.59 666.90,343.34 668.00,352.00 668.80,358.00 669.20,368.40" fill="none" stroke="#a9a9a9" stroke-width="0.60" stroke-linejoin="round"/>
<polyline points="484.20,368.40 484.50,357.30 485.00,356.78 485.50,358.08 486.00,355.50 486.50,354.94 487.00,356.10 487.50,354.43 488.00,356.05 488.50,353.86 489.00,355.42 489.50,353.32 490.00,354.57 490.50,353.78 491.00,353.36 491.50,351.35 492.00,350.83 492.50,350.04 493.00,350.16 493.50,351.35 494.00,349.07 494.50,350.30 494.80,368.40" fill="none" stroke="#111" stroke-width="1.00" stroke-linejoin="round"/>
<polyline points="498.00,368.40 498.30,360.80 499.50,358.00 500.80,356.00 502.00,354.40 502.80,356.00 503.20,368.40" fill="none" stroke="#111" stroke-width="1.00" stroke-linejoin="round"/>
<polyline points="510.20,368.40 510.50,346.50 510.90,344.53 511.60,368.40" fill="none" stroke="#111" stroke-width="1.10" stroke-linejoin="round"/>
<polyline points="518.40,368.40 518.70,349.50 519.10,348.12 519.80,368.40" fill="none" stroke="#111" stroke-width="1.10" stroke-linejoin="round"/>
<polyline points="537.10,368.40 537.40,346.50 537.80,346.21 538.30,345.69 538.80,344.68 539.30,344.65 539.80,342.81 540.30,343.56 540.80,342.01 541.30,341.38 541.80,340.26 542.50,368.40" fill="none" stroke="#111" stroke-width="1.10" stroke-linejoin="round"/>
<polyline points="550.10,368.40 550.40,340.70 550.80,341.11 551.30,343.32 551.80,344.55 552.30,368.40" fill="none" stroke="#111" stroke-width="1.10" stroke-linejoin="round"/>
<polyline points="559.50,368.40 559.80,340.70 560.20,341.53 560.70,341.35 561.20,343.61 561.90,368.40" fill="none" stroke="#111" stroke-width="1.10" stroke-linejoin="round"/>
<polyline points="569.10,368.40 569.40,342.50 569.80,343.15 570.30,343.57 570.80,344.31 571.30,345.53 571.80,345.64 572.20,368.40" fill="none" stroke="#111" stroke-width="1.10" stroke-linejoin="round"/>
<polyline points="527.50,368.40 528.20,367.00 528.80,368.40" fill="none" stroke="#111" stroke-width="0.90" stroke-linejoin="round"/>
<polyline points="575.30,368.40 575.50,333.30 577.00,330.00 578.50,327.50 580.00,324.50 581.20,322.20 581.70,321.60 582.10,368.40" fill="none" stroke="#111" stroke-width="1.10" stroke-linejoin="round"/>
<polyline points="589.10,368.40 589.30,321.00 589.60,319.90 590.60,322.50 591.50,325.00 592.00,326.90 592.20,368.40" fill="none" stroke="#111" stroke-width="1.10" stroke-linejoin="round"/>
<polyline points="599.00,368.40 599.30,324.50 599.60,323.40 600.30,326.00 601.00,323.40 601.80,325.00 602.50,325.70 603.00,330.00 603.30,368.40" fill="none" stroke="#111" stroke-width="1.10" stroke-linejoin="round"/>
<polyline points="603.40,366.50 604.20,366.21 604.75,366.31 605.30,365.03 605.85,365.82 606.40,365.97 606.95,365.53 607.50,366.13 608.05,366.56 608.60,366.53 609.15,365.45 609.70,365.17 610.25,366.44 610.80,366.00 611.35,366.39 611.90,366.46 612.45,365.40 613.00,365.96 613.55,365.45 614.10,366.34 614.65,366.14 615.20,365.33 615.75,365.80 616.30,365.97 616.85,365.32 617.40,365.23 617.95,365.75 618.50,365.03 619.05,365.79 619.60,366.59 620.15,366.39 620.70,365.00 621.25,366.39 621.80,366.19 622.35,366.17 622.90,364.95 623.45,366.27 624.00,365.25 624.55,366.35 625.10,365.48 625.65,365.56 626.20,365.21 626.75,366.46 627.50,363.44 628.00,364.75 628.50,364.03 629.00,363.30 629.50,364.31 630.00,364.06 630.50,363.05 631.00,364.65 631.50,363.54 632.00,363.05 632.50,364.53 633.00,364.45 633.50,363.77 634.00,363.37 634.50,364.05 635.00,364.17 635.50,364.38 636.00,363.98 636.50,364.14 637.00,356.00 637.50,351.50 638.30,350.90 639.00,352.00 639.50,358.00 640.00,365.60 640.60,365.70 641.15,364.74 641.70,364.73 642.25,365.27 642.80,365.76 643.35,365.85 643.90,365.94 644.45,365.19 645.00,365.68 645.55,364.59 646.10,365.10 646.65,364.52 647.20,365.90" fill="none" stroke="#111" stroke-width="0.90" stroke-linejoin="round"/>
<polyline points="647.60,368.40 647.90,321.00 648.40,328.00 648.90,326.02 649.40,326.51 649.90,324.23 650.40,326.77 650.90,322.51 651.40,324.22 651.90,324.10 652.40,327.18 652.90,323.04 653.40,322.95 653.90,322.54 654.40,327.06 654.90,323.89 655.40,327.42 655.90,323.88 656.40,327.02 656.90,323.17 657.40,327.41 657.90,327.84 658.40,327.27 658.90,326.15 659.40,327.38 659.90,327.49 660.40,327.78 660.90,319.30 661.40,319.30 661.90,326.68 662.40,324.08 662.90,323.01 663.40,327.40 663.90,324.83 664.40,330.92 664.90,333.35 665.40,332.74 665.90,332.81 666.40,335.54 666.90,335.93 667.40,335.89 667.90,338.57 668.60,345.00 669.00,360.00 669.20,368.40" fill="none" stroke="#111" stroke-width="1.00" stroke-linejoin="round"/>
<text x="578.20" y="375.20" font-size="6.60" text-anchor="middle" fill="#e455b5" font-weight="normal" stroke="#e455b5" stroke-width="0.14">Intron 7</text>
<line x1="564.00" y1="369.00" x2="498.50" y2="386.80" stroke="#aaa" stroke-width="0.40" stroke-dasharray="1.6,1.1"/>
<line x1="596.00" y1="369.00" x2="679.00" y2="386.80" stroke="#aaa" stroke-width="0.40" stroke-dasharray="1.6,1.1"/>
<text x="550.40" y="382.80" font-size="6.20" text-anchor="middle" fill="#222" font-weight="normal" stroke="#222" stroke-width="0.14">92,352,000</text>
<line x1="550.40" y1="383.60" x2="550.40" y2="387.20" stroke="#333" stroke-width="0.50"/>
<text x="611.10" y="382.80" font-size="6.20" text-anchor="middle" fill="#222" font-weight="normal" stroke="#222" stroke-width="0.14">92,350,000</text>
<line x1="611.10" y1="383.60" x2="611.10" y2="387.20" stroke="#333" stroke-width="0.50"/>
<text x="664.70" y="382.80" font-size="6.20" text-anchor="middle" fill="#222" font-weight="normal" stroke="#222" stroke-width="0.14">92,348,000</text>
<line x1="664.70" y1="383.60" x2="664.70" y2="387.20" stroke="#333" stroke-width="0.50"/>
<rect x="498.00" y="387.20" width="181.60" height="85.80" fill="#f7f8fa"/>
<path d="M498.00 394.60H679.60M498.00 397.20H679.60M498.00 399.80H679.60M498.00 402.40H679.60M498.00 405.00H679.60M498.00 407.60H679.60M498.00 410.20H679.60M498.00 412.80H679.60M498.00 415.40H679.60M498.00 418.00H679.60M498.00 420.60H679.60M498.00 423.20H679.60M498.00 425.80H679.60M498.00 428.40H679.60" stroke="#d3dce5" stroke-width="0.3" fill="none"/>
<path d="M498.00 436.60H679.60M498.00 439.20H679.60M498.00 441.80H679.60M498.00 444.40H679.60M498.00 447.00H679.60M498.00 449.60H679.60M498.00 452.20H679.60M498.00 454.80H679.60M498.00 457.40H679.60M498.00 460.00H679.60M498.00 462.60H679.60M498.00 465.20H679.60M498.00 467.80H679.60M498.00 470.40H679.60" stroke="#d3dce5" stroke-width="0.3" fill="none"/>
<rect x="502.60" y="388.00" width="3.20" height="85.00" fill="#ececec"/>
<line x1="503.00" y1="388.00" x2="503.00" y2="472.50" stroke="#6a6a6a" stroke-width="0.80" stroke-dasharray="1.6,1.0"/>
<line x1="505.30" y1="388.00" x2="505.30" y2="472.50" stroke="#9a9a9a" stroke-width="0.70" stroke-dasharray="1.6,1.0"/>
<circle cx="505.49" cy="409.92" r="0.40" fill="#e06070"/>
<circle cx="505.01" cy="432.32" r="0.40" fill="#e06070"/>
<circle cx="505.26" cy="416.04" r="0.40" fill="#e06070"/>
<circle cx="503.40" cy="459.13" r="0.40" fill="#e06070"/>
<circle cx="503.51" cy="395.46" r="0.40" fill="#e06070"/>
<circle cx="505.78" cy="414.73" r="0.40" fill="#e06070"/>
<circle cx="505.40" cy="434.33" r="0.40" fill="#6060d0"/>
<circle cx="502.64" cy="442.48" r="0.40" fill="#e06070"/>
<circle cx="503.80" cy="453.84" r="0.40" fill="#6060d0"/>
<circle cx="505.62" cy="426.46" r="0.40" fill="#6060d0"/>
<circle cx="503.31" cy="456.97" r="0.40" fill="#e06070"/>
<circle cx="503.55" cy="419.91" r="0.40" fill="#e06070"/>
<circle cx="504.18" cy="445.90" r="0.40" fill="#6060d0"/>
<circle cx="504.41" cy="468.00" r="0.40" fill="#6060d0"/>
<rect x="625.40" y="388.00" width="3.50" height="85.00" fill="#ececec"/>
<line x1="625.80" y1="388.00" x2="625.80" y2="472.50" stroke="#6a6a6a" stroke-width="0.80" stroke-dasharray="1.6,1.0"/>
<line x1="628.40" y1="388.00" x2="628.40" y2="472.50" stroke="#9a9a9a" stroke-width="0.70" stroke-dasharray="1.6,1.0"/>
<circle cx="625.57" cy="458.49" r="0.40" fill="#e06070"/>
<circle cx="627.62" cy="427.04" r="0.40" fill="#e06070"/>
<circle cx="627.33" cy="449.27" r="0.40" fill="#6060d0"/>
<circle cx="625.72" cy="451.40" r="0.40" fill="#6060d0"/>
<circle cx="628.80" cy="452.35" r="0.40" fill="#e06070"/>
<circle cx="625.70" cy="445.25" r="0.40" fill="#e06070"/>
<circle cx="626.98" cy="424.91" r="0.40" fill="#e06070"/>
<circle cx="628.53" cy="402.40" r="0.40" fill="#6060d0"/>
<circle cx="627.65" cy="465.01" r="0.40" fill="#6060d0"/>
<circle cx="626.82" cy="418.71" r="0.40" fill="#e06070"/>
<circle cx="626.70" cy="467.40" r="0.40" fill="#e06070"/>
<circle cx="628.54" cy="432.10" r="0.40" fill="#6060d0"/>
<circle cx="625.96" cy="446.12" r="0.40" fill="#e06070"/>
<circle cx="626.04" cy="469.78" r="0.40" fill="#e06070"/>
<rect x="673.30" y="388.00" width="4.10" height="85.00" fill="#ececec"/>
<line x1="673.70" y1="388.00" x2="673.70" y2="472.50" stroke="#6a6a6a" stroke-width="0.80" stroke-dasharray="1.6,1.0"/>
<line x1="676.90" y1="388.00" x2="676.90" y2="472.50" stroke="#9a9a9a" stroke-width="0.70" stroke-dasharray="1.6,1.0"/>
<circle cx="676.57" cy="429.31" r="0.40" fill="#6060d0"/>
<circle cx="673.66" cy="432.42" r="0.40" fill="#e06070"/>
<circle cx="673.41" cy="443.58" r="0.40" fill="#e06070"/>
<circle cx="676.59" cy="411.77" r="0.40" fill="#e06070"/>
<circle cx="676.58" cy="467.39" r="0.40" fill="#e06070"/>
<circle cx="673.83" cy="410.45" r="0.40" fill="#e06070"/>
<circle cx="674.74" cy="390.60" r="0.40" fill="#e06070"/>
<circle cx="673.63" cy="395.91" r="0.40" fill="#6060d0"/>
<circle cx="677.13" cy="453.32" r="0.40" fill="#6060d0"/>
<circle cx="673.91" cy="406.23" r="0.40" fill="#e06070"/>
<circle cx="674.80" cy="466.91" r="0.40" fill="#e06070"/>
<circle cx="676.91" cy="396.75" r="0.40" fill="#e06070"/>
<circle cx="676.36" cy="405.10" r="0.40" fill="#e06070"/>
<circle cx="674.29" cy="407.22" r="0.40" fill="#e06070"/>
<rect x="617.80" y="392.00" width="7.40" height="36.80" fill="#d4d4d4"/>
<circle cx="619.53" cy="395.94" r="0.45" fill="#e88890"/>
<circle cx="621.48" cy="408.59" r="0.45" fill="#e88890"/>
<circle cx="623.48" cy="414.85" r="0.45" fill="#e88890"/>
<circle cx="619.04" cy="396.34" r="0.45" fill="#e88890"/>
<circle cx="619.06" cy="408.17" r="0.45" fill="#e88890"/>
<circle cx="624.02" cy="426.12" r="0.45" fill="#e88890"/>
<circle cx="619.61" cy="405.12" r="0.45" fill="#e88890"/>
<circle cx="621.78" cy="403.08" r="0.45" fill="#e88890"/>
<circle cx="624.87" cy="400.48" r="0.45" fill="#e88890"/>
<circle cx="621.61" cy="424.49" r="0.45" fill="#e88890"/>
<path d="M616.5 392.5 L618.4 391.2 L621 390 L623 389 L625 388.5 L625 392.5 Z" fill="#a8a8a8"/>
<rect x="612.00" y="396.00" width="1.20" height="0.60" fill="#bbb"/>
<rect x="542.80" y="439.40" width="2.00" height="0.80" fill="#b0b0b0"/>
<line x1="498.00" y1="429.00" x2="679.60" y2="429.00" stroke="#555" stroke-width="0.60"/>
<rect x="498.00" y="387.20" width="181.60" height="85.80" fill="none" stroke="#4a4a4a" stroke-width="0.7"/>
<text x="669.00" y="393.60" font-size="6.40" text-anchor="end" fill="#222" font-weight="normal" stroke="#222" stroke-width="0.14">[0-368]</text>
<text x="669.00" y="435.30" font-size="6.40" text-anchor="end" fill="#222" font-weight="normal" stroke="#222" stroke-width="0.14">[0-116]</text>
<text x="475.80" y="406.90" font-size="6.83" text-anchor="middle" fill="#222" font-weight="normal" textLength="42.38" lengthAdjust="spacingAndGlyphs" stroke="#222" stroke-width="0.14">TCGA-D6-6827</text>
<text x="476.10" y="416.30" font-size="6.83" text-anchor="middle" fill="#222" font-weight="normal" textLength="36.15" lengthAdjust="spacingAndGlyphs" stroke="#222" stroke-width="0.14">(ATS FBLN5)</text>
<text x="475.30" y="446.70" font-size="6.83" text-anchor="middle" fill="#222" font-weight="normal" textLength="44.74" lengthAdjust="spacingAndGlyphs" stroke="#222" stroke-width="0.14">TCGA-KU-A6H8</text>
<text x="496.70" y="455.80" font-size="6.94" text-anchor="end" fill="#222" font-weight="normal" textLength="49.61" lengthAdjust="spacingAndGlyphs" stroke="#222" stroke-width="0.14">(wild-type FBLN5)</text>
<line x1="498.00" y1="476.20" x2="679.60" y2="476.20" stroke="#6a70c8" stroke-width="0.40" stroke-dasharray="0.7,0.7"/>
<rect x="502.00" y="475.00" width="3.40" height="2.40" fill="#3b40b0"/>
<rect x="624.60" y="475.00" width="3.60" height="2.40" fill="#3b40b0"/>
<rect x="673.60" y="475.00" width="3.60" height="2.40" fill="#3b40b0"/>
<text x="495.00" y="485.70" font-size="6.94" text-anchor="end" fill="#222" font-weight="normal" textLength="35.50" lengthAdjust="spacingAndGlyphs" stroke="#222" stroke-width="0.14">NM_006329:</text>
<text x="497.00" y="485.70" font-size="6.94" text-anchor="start" fill="#222" font-weight="normal" textLength="19.30" lengthAdjust="spacingAndGlyphs" stroke="#222" stroke-width="0.14">Exon 7</text>
<text x="618.80" y="485.70" font-size="6.94" text-anchor="start" fill="#222" font-weight="normal" textLength="19.30" lengthAdjust="spacingAndGlyphs" stroke="#222" stroke-width="0.14">Exon 8</text>
<text x="666.00" y="485.70" font-size="6.94" text-anchor="start" fill="#222" font-weight="normal" textLength="19.30" lengthAdjust="spacingAndGlyphs" stroke="#222" stroke-width="0.14">Exon 9</text>
<text x="589.00" y="493.80" font-size="8.91" text-anchor="middle" fill="#222" font-weight="normal" textLength="25.21" lengthAdjust="spacingAndGlyphs" stroke="#222" stroke-width="0.14">FBLN5</text>
</svg></body></html>
